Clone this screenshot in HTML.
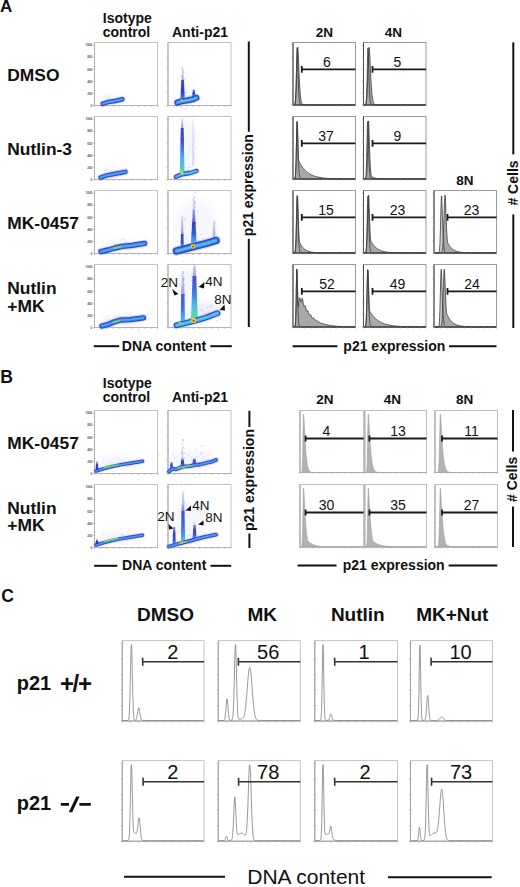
<!DOCTYPE html>
<html><head><meta charset="utf-8"><style>
html,body{margin:0;padding:0;background:#fff;}
body{width:520px;height:887px;overflow:hidden;}
svg{display:block;}
</style></head><body>
<svg width="520" height="887" viewBox="0 0 520 887">
<defs><filter id="bl" x="-10%" y="-10%" width="120%" height="120%"><feGaussianBlur stdDeviation="0.5"/></filter>
<filter id="bh" x="-50%" y="-50%" width="200%" height="200%"><feGaussianBlur stdDeviation="3"/></filter>
<linearGradient id="g1" gradientUnits="userSpaceOnUse" x1="0" y1="66" x2="0" y2="82"><stop offset="0" stop-color="#a9acee" stop-opacity="0.3"/><stop offset="1" stop-color="#7078d8" stop-opacity="0.8"/></linearGradient><linearGradient id="g2" gradientUnits="userSpaceOnUse" x1="0" y1="80" x2="0" y2="102"><stop offset="0" stop-color="#3a44c4" stop-opacity="1"/><stop offset="0.5" stop-color="#2a3ec8" stop-opacity="1"/><stop offset="0.85" stop-color="#3f6fe0" stop-opacity="1"/><stop offset="1" stop-color="#48a8e8" stop-opacity="1"/></linearGradient><linearGradient id="g3" gradientUnits="userSpaceOnUse" x1="0" y1="89.5" x2="0" y2="98"><stop offset="0" stop-color="#6a78dc" stop-opacity="0.8"/><stop offset="0.4" stop-color="#2a3ec8" stop-opacity="1"/><stop offset="1" stop-color="#2a3ec8" stop-opacity="1"/></linearGradient><linearGradient id="g4" gradientUnits="userSpaceOnUse" x1="0" y1="119" x2="0" y2="130"><stop offset="0" stop-color="#a9acee" stop-opacity="0.4"/><stop offset="1" stop-color="#6870d8" stop-opacity="0.9"/></linearGradient><linearGradient id="g5" gradientUnits="userSpaceOnUse" x1="0" y1="128" x2="0" y2="176"><stop offset="0" stop-color="#3540c0" stop-opacity="1"/><stop offset="0.22" stop-color="#2a3ec8" stop-opacity="1"/><stop offset="0.4" stop-color="#3f6fe0" stop-opacity="1"/><stop offset="0.6" stop-color="#48a8e8" stop-opacity="1"/><stop offset="0.85" stop-color="#50d0d8" stop-opacity="1"/><stop offset="1" stop-color="#70d860" stop-opacity="1"/></linearGradient><linearGradient id="g6" gradientUnits="userSpaceOnUse" x1="0" y1="119" x2="0" y2="166"><stop offset="0" stop-color="#a9acee" stop-opacity="0.2"/><stop offset="1" stop-color="#a9acee" stop-opacity="0.45"/></linearGradient><linearGradient id="g7" gradientUnits="userSpaceOnUse" x1="0" y1="216" x2="0" y2="236"><stop offset="0" stop-color="#a9acee" stop-opacity="0.4"/><stop offset="1" stop-color="#7078d8" stop-opacity="0.85"/></linearGradient><linearGradient id="g8" gradientUnits="userSpaceOnUse" x1="0" y1="234" x2="0" y2="251"><stop offset="0" stop-color="#2a3ec8" stop-opacity="1"/><stop offset="1" stop-color="#3f6fe0" stop-opacity="1"/></linearGradient><linearGradient id="g9" gradientUnits="userSpaceOnUse" x1="0" y1="196" x2="0" y2="212"><stop offset="0" stop-color="#a9acee" stop-opacity="0.3"/><stop offset="1" stop-color="#a9acee" stop-opacity="0.6"/></linearGradient><linearGradient id="g10" gradientUnits="userSpaceOnUse" x1="0" y1="210" x2="0" y2="224"><stop offset="0" stop-color="#8088e0" stop-opacity="0.75"/><stop offset="1" stop-color="#4a58d0" stop-opacity="1"/></linearGradient><linearGradient id="g11" gradientUnits="userSpaceOnUse" x1="0" y1="222" x2="0" y2="247"><stop offset="0" stop-color="#2a3ec8" stop-opacity="1"/><stop offset="0.45" stop-color="#3558d8" stop-opacity="1"/><stop offset="0.8" stop-color="#48a8e8" stop-opacity="1"/><stop offset="1" stop-color="#50d0d8" stop-opacity="1"/></linearGradient><linearGradient id="g12" gradientUnits="userSpaceOnUse" x1="0" y1="221" x2="0" y2="240"><stop offset="0" stop-color="#a9acee" stop-opacity="0.45"/><stop offset="1" stop-color="#7080e0" stop-opacity="0.8"/></linearGradient><linearGradient id="g13" gradientUnits="userSpaceOnUse" x1="0" y1="271" x2="0" y2="296"><stop offset="0" stop-color="#a9acee" stop-opacity="0.35"/><stop offset="1" stop-color="#7880dc" stop-opacity="0.8"/></linearGradient><linearGradient id="g14" gradientUnits="userSpaceOnUse" x1="0" y1="294" x2="0" y2="325"><stop offset="0" stop-color="#4a58d0" stop-opacity="1"/><stop offset="0.45" stop-color="#3f6fe0" stop-opacity="1"/><stop offset="0.75" stop-color="#48a8e8" stop-opacity="1"/><stop offset="1" stop-color="#50d0d8" stop-opacity="1"/></linearGradient><linearGradient id="g15" gradientUnits="userSpaceOnUse" x1="0" y1="264.5" x2="0" y2="278"><stop offset="0" stop-color="#a9acee" stop-opacity="0.4"/><stop offset="1" stop-color="#8088e0" stop-opacity="0.85"/></linearGradient><linearGradient id="g16" gradientUnits="userSpaceOnUse" x1="0" y1="276" x2="0" y2="322"><stop offset="0" stop-color="#3a48c8" stop-opacity="1"/><stop offset="0.3" stop-color="#3f6fe0" stop-opacity="1"/><stop offset="0.55" stop-color="#48a8e8" stop-opacity="1"/><stop offset="0.75" stop-color="#50d0d8" stop-opacity="1"/><stop offset="1" stop-color="#70d860" stop-opacity="1"/></linearGradient><linearGradient id="g17" gradientUnits="userSpaceOnUse" x1="0" y1="461" x2="0" y2="470"><stop offset="0" stop-color="#a9acee" stop-opacity="0.5"/><stop offset="0.4" stop-color="#2a3ec8" stop-opacity="1"/><stop offset="1" stop-color="#2a3ec8" stop-opacity="1"/></linearGradient><linearGradient id="g18" gradientUnits="userSpaceOnUse" x1="0" y1="442" x2="0" y2="459"><stop offset="0" stop-color="#a9acee" stop-opacity="0.25"/><stop offset="1" stop-color="#a9acee" stop-opacity="0.55"/></linearGradient><linearGradient id="g19" gradientUnits="userSpaceOnUse" x1="0" y1="462" x2="0" y2="470"><stop offset="0" stop-color="#6a78dc" stop-opacity="0.8"/><stop offset="0.4" stop-color="#2a3ec8" stop-opacity="1"/><stop offset="1" stop-color="#2a3ec8" stop-opacity="1"/></linearGradient><linearGradient id="g20" gradientUnits="userSpaceOnUse" x1="0" y1="458.5" x2="0" y2="467"><stop offset="0" stop-color="#6a78dc" stop-opacity="0.8"/><stop offset="0.35" stop-color="#2a3ec8" stop-opacity="1"/><stop offset="1" stop-color="#2a3ec8" stop-opacity="1"/></linearGradient><linearGradient id="g21" gradientUnits="userSpaceOnUse" x1="0" y1="458.5" x2="0" y2="466"><stop offset="0" stop-color="#6a78dc" stop-opacity="0.8"/><stop offset="0.35" stop-color="#2a3ec8" stop-opacity="1"/><stop offset="1" stop-color="#2a3ec8" stop-opacity="1"/></linearGradient><linearGradient id="g22" gradientUnits="userSpaceOnUse" x1="0" y1="539" x2="0" y2="544"><stop offset="0" stop-color="#a9acee" stop-opacity="0.5"/><stop offset="0.4" stop-color="#2a3ec8" stop-opacity="1"/><stop offset="1" stop-color="#2a3ec8" stop-opacity="1"/></linearGradient><linearGradient id="g23" gradientUnits="userSpaceOnUse" x1="0" y1="491" x2="0" y2="513"><stop offset="0" stop-color="#a9acee" stop-opacity="0.3"/><stop offset="0.6" stop-color="#8890e0" stop-opacity="0.6"/><stop offset="1" stop-color="#5a68d8" stop-opacity="0.9"/></linearGradient><linearGradient id="g24" gradientUnits="userSpaceOnUse" x1="0" y1="511" x2="0" y2="543"><stop offset="0" stop-color="#3a48c8" stop-opacity="1"/><stop offset="0.5" stop-color="#3f6fe0" stop-opacity="1"/><stop offset="0.85" stop-color="#48a8e8" stop-opacity="1"/><stop offset="1" stop-color="#50d0d8" stop-opacity="1"/></linearGradient><linearGradient id="g25" gradientUnits="userSpaceOnUse" x1="0" y1="527" x2="0" y2="546"><stop offset="0" stop-color="#7078d8" stop-opacity="0.8"/><stop offset="0.35" stop-color="#2a3ec8" stop-opacity="1"/><stop offset="1" stop-color="#3f6fe0" stop-opacity="1"/></linearGradient><linearGradient id="g26" gradientUnits="userSpaceOnUse" x1="0" y1="525" x2="0" y2="539"><stop offset="0" stop-color="#7078d8" stop-opacity="0.8"/><stop offset="0.35" stop-color="#2a3ec8" stop-opacity="1"/><stop offset="1" stop-color="#3f6fe0" stop-opacity="1"/></linearGradient></defs>
<rect width="520" height="887" fill="#fff"/>
<text x="0" y="12.4" font-family="Liberation Sans" font-size="17" font-weight="bold" text-anchor="start" fill="#111" >A</text>
<text x="127.3" y="23" font-family="Liberation Sans" font-size="14" font-weight="bold" text-anchor="middle" fill="#111" >Isotype</text>
<text x="126.5" y="37.1" font-family="Liberation Sans" font-size="14" font-weight="bold" text-anchor="middle" fill="#111" >control</text>
<text x="200" y="37.1" font-family="Liberation Sans" font-size="14" font-weight="bold" text-anchor="middle" fill="#111" >Anti-p21</text>
<text x="324.3" y="37.2" font-family="Liberation Sans" font-size="13.5" font-weight="bold" text-anchor="middle" fill="#111" >2N</text>
<text x="393.5" y="37.2" font-family="Liberation Sans" font-size="13.5" font-weight="bold" text-anchor="middle" fill="#111" >4N</text>
<text x="465" y="184.5" font-family="Liberation Sans" font-size="13.5" font-weight="bold" text-anchor="middle" fill="#111" >8N</text>
<text x="7.3" y="81.2" font-family="Liberation Sans" font-size="17.4" font-weight="bold" text-anchor="start" fill="#111" >DMSO</text>
<text x="7.3" y="155.2" font-family="Liberation Sans" font-size="17.4" font-weight="bold" text-anchor="start" fill="#111" >Nutlin-3</text>
<text x="7.3" y="229.3" font-family="Liberation Sans" font-size="17.4" font-weight="bold" text-anchor="start" fill="#111" >MK-0457</text>
<text x="7.3" y="293.8" font-family="Liberation Sans" font-size="17.4" font-weight="bold" text-anchor="start" fill="#111" >Nutlin</text>
<text x="7.3" y="311.6" font-family="Liberation Sans" font-size="17.4" font-weight="bold" text-anchor="start" fill="#111" >+MK</text>
<rect x="94.5" y="42.5" width="63" height="63" fill="#fff" stroke="#c2c2c2" stroke-width="1"/>
<path d="M94.5,42.5 V105.5 H157.5" fill="none" stroke="#b4b4b4" stroke-width="1"/>
<path d="M93.0,105.5h2.2 M93.0,93.4h2.2 M93.0,81.3h2.2 M93.0,69.2h2.2 M93.0,57.1h2.2 M93.0,45.0h2.2 M93.7,105.5h1.3 M93.7,102.5h1.3 M93.7,99.5h1.3 M93.7,96.4h1.3 M93.7,93.4h1.3 M93.7,90.4h1.3 M93.7,87.4h1.3 M93.7,84.3h1.3 M93.7,81.3h1.3 M93.7,78.3h1.3 M93.7,75.3h1.3 M93.7,72.2h1.3 M93.7,69.2h1.3 M93.7,66.2h1.3 M93.7,63.2h1.3 M93.7,60.1h1.3 M93.7,57.1h1.3 M93.7,54.1h1.3 M93.7,51.1h1.3 M93.7,48.0h1.3 M94.5,105.5v1.5 M100.8,105.5v1.5 M107.1,105.5v1.5 M113.4,105.5v1.5 M119.7,105.5v1.5 M126.0,105.5v1.5 M132.3,105.5v1.5 M138.6,105.5v1.5 M144.9,105.5v1.5 M151.2,105.5v1.5 M157.5,105.5v1.5" stroke="#a8a8a8" stroke-width="0.6" fill="none"/>
<text x="92.3" y="106.8" font-family="Liberation Sans" font-size="3.3" font-weight="bold" fill="#606060" text-anchor="end" letter-spacing="-0.15">0</text>
<text x="92.3" y="94.7" font-family="Liberation Sans" font-size="3.3" font-weight="bold" fill="#606060" text-anchor="end" letter-spacing="-0.15">200</text>
<text x="92.3" y="82.6" font-family="Liberation Sans" font-size="3.3" font-weight="bold" fill="#606060" text-anchor="end" letter-spacing="-0.15">400</text>
<text x="92.3" y="70.5" font-family="Liberation Sans" font-size="3.3" font-weight="bold" fill="#606060" text-anchor="end" letter-spacing="-0.15">600</text>
<text x="92.3" y="58.4" font-family="Liberation Sans" font-size="3.3" font-weight="bold" fill="#606060" text-anchor="end" letter-spacing="-0.15">800</text>
<text x="92.3" y="46.3" font-family="Liberation Sans" font-size="3.3" font-weight="bold" fill="#606060" text-anchor="end" letter-spacing="-0.15">1000</text>
<rect x="168" y="42.5" width="63" height="63" fill="#fff" stroke="#c2c2c2" stroke-width="1"/>
<path d="M168,42.5 V105.5 H231" fill="none" stroke="#b4b4b4" stroke-width="1"/>
<path d="M166.5,105.5h2.2 M166.5,93.4h2.2 M166.5,81.3h2.2 M166.5,69.2h2.2 M166.5,57.1h2.2 M166.5,45.0h2.2 M167.2,105.5h1.3 M167.2,102.5h1.3 M167.2,99.5h1.3 M167.2,96.4h1.3 M167.2,93.4h1.3 M167.2,90.4h1.3 M167.2,87.4h1.3 M167.2,84.3h1.3 M167.2,81.3h1.3 M167.2,78.3h1.3 M167.2,75.3h1.3 M167.2,72.2h1.3 M167.2,69.2h1.3 M167.2,66.2h1.3 M167.2,63.2h1.3 M167.2,60.1h1.3 M167.2,57.1h1.3 M167.2,54.1h1.3 M167.2,51.1h1.3 M167.2,48.0h1.3 M168.0,105.5v1.5 M174.3,105.5v1.5 M180.6,105.5v1.5 M186.9,105.5v1.5 M193.2,105.5v1.5 M199.5,105.5v1.5 M205.8,105.5v1.5 M212.1,105.5v1.5 M218.4,105.5v1.5 M224.7,105.5v1.5 M231.0,105.5v1.5" stroke="#a8a8a8" stroke-width="0.6" fill="none"/>
<rect x="94.5" y="116.5" width="63" height="63" fill="#fff" stroke="#c2c2c2" stroke-width="1"/>
<path d="M94.5,116.5 V179.5 H157.5" fill="none" stroke="#b4b4b4" stroke-width="1"/>
<path d="M93.0,179.5h2.2 M93.0,167.4h2.2 M93.0,155.3h2.2 M93.0,143.2h2.2 M93.0,131.1h2.2 M93.0,119.0h2.2 M93.7,179.5h1.3 M93.7,176.5h1.3 M93.7,173.5h1.3 M93.7,170.4h1.3 M93.7,167.4h1.3 M93.7,164.4h1.3 M93.7,161.4h1.3 M93.7,158.3h1.3 M93.7,155.3h1.3 M93.7,152.3h1.3 M93.7,149.3h1.3 M93.7,146.2h1.3 M93.7,143.2h1.3 M93.7,140.2h1.3 M93.7,137.2h1.3 M93.7,134.1h1.3 M93.7,131.1h1.3 M93.7,128.1h1.3 M93.7,125.1h1.3 M93.7,122.0h1.3 M94.5,179.5v1.5 M100.8,179.5v1.5 M107.1,179.5v1.5 M113.4,179.5v1.5 M119.7,179.5v1.5 M126.0,179.5v1.5 M132.3,179.5v1.5 M138.6,179.5v1.5 M144.9,179.5v1.5 M151.2,179.5v1.5 M157.5,179.5v1.5" stroke="#a8a8a8" stroke-width="0.6" fill="none"/>
<text x="92.3" y="180.8" font-family="Liberation Sans" font-size="3.3" font-weight="bold" fill="#606060" text-anchor="end" letter-spacing="-0.15">0</text>
<text x="92.3" y="168.7" font-family="Liberation Sans" font-size="3.3" font-weight="bold" fill="#606060" text-anchor="end" letter-spacing="-0.15">200</text>
<text x="92.3" y="156.6" font-family="Liberation Sans" font-size="3.3" font-weight="bold" fill="#606060" text-anchor="end" letter-spacing="-0.15">400</text>
<text x="92.3" y="144.5" font-family="Liberation Sans" font-size="3.3" font-weight="bold" fill="#606060" text-anchor="end" letter-spacing="-0.15">600</text>
<text x="92.3" y="132.4" font-family="Liberation Sans" font-size="3.3" font-weight="bold" fill="#606060" text-anchor="end" letter-spacing="-0.15">800</text>
<text x="92.3" y="120.3" font-family="Liberation Sans" font-size="3.3" font-weight="bold" fill="#606060" text-anchor="end" letter-spacing="-0.15">1000</text>
<rect x="168" y="116.5" width="63" height="63" fill="#fff" stroke="#c2c2c2" stroke-width="1"/>
<path d="M168,116.5 V179.5 H231" fill="none" stroke="#b4b4b4" stroke-width="1"/>
<path d="M166.5,179.5h2.2 M166.5,167.4h2.2 M166.5,155.3h2.2 M166.5,143.2h2.2 M166.5,131.1h2.2 M166.5,119.0h2.2 M167.2,179.5h1.3 M167.2,176.5h1.3 M167.2,173.5h1.3 M167.2,170.4h1.3 M167.2,167.4h1.3 M167.2,164.4h1.3 M167.2,161.4h1.3 M167.2,158.3h1.3 M167.2,155.3h1.3 M167.2,152.3h1.3 M167.2,149.3h1.3 M167.2,146.2h1.3 M167.2,143.2h1.3 M167.2,140.2h1.3 M167.2,137.2h1.3 M167.2,134.1h1.3 M167.2,131.1h1.3 M167.2,128.1h1.3 M167.2,125.1h1.3 M167.2,122.0h1.3 M168.0,179.5v1.5 M174.3,179.5v1.5 M180.6,179.5v1.5 M186.9,179.5v1.5 M193.2,179.5v1.5 M199.5,179.5v1.5 M205.8,179.5v1.5 M212.1,179.5v1.5 M218.4,179.5v1.5 M224.7,179.5v1.5 M231.0,179.5v1.5" stroke="#a8a8a8" stroke-width="0.6" fill="none"/>
<rect x="94.5" y="190.5" width="63" height="63" fill="#fff" stroke="#c2c2c2" stroke-width="1"/>
<path d="M94.5,190.5 V253.5 H157.5" fill="none" stroke="#b4b4b4" stroke-width="1"/>
<path d="M93.0,253.5h2.2 M93.0,241.4h2.2 M93.0,229.3h2.2 M93.0,217.2h2.2 M93.0,205.1h2.2 M93.0,193.0h2.2 M93.7,253.5h1.3 M93.7,250.5h1.3 M93.7,247.5h1.3 M93.7,244.4h1.3 M93.7,241.4h1.3 M93.7,238.4h1.3 M93.7,235.4h1.3 M93.7,232.3h1.3 M93.7,229.3h1.3 M93.7,226.3h1.3 M93.7,223.3h1.3 M93.7,220.2h1.3 M93.7,217.2h1.3 M93.7,214.2h1.3 M93.7,211.2h1.3 M93.7,208.1h1.3 M93.7,205.1h1.3 M93.7,202.1h1.3 M93.7,199.1h1.3 M93.7,196.0h1.3 M94.5,253.5v1.5 M100.8,253.5v1.5 M107.1,253.5v1.5 M113.4,253.5v1.5 M119.7,253.5v1.5 M126.0,253.5v1.5 M132.3,253.5v1.5 M138.6,253.5v1.5 M144.9,253.5v1.5 M151.2,253.5v1.5 M157.5,253.5v1.5" stroke="#a8a8a8" stroke-width="0.6" fill="none"/>
<text x="92.3" y="254.8" font-family="Liberation Sans" font-size="3.3" font-weight="bold" fill="#606060" text-anchor="end" letter-spacing="-0.15">0</text>
<text x="92.3" y="242.7" font-family="Liberation Sans" font-size="3.3" font-weight="bold" fill="#606060" text-anchor="end" letter-spacing="-0.15">200</text>
<text x="92.3" y="230.6" font-family="Liberation Sans" font-size="3.3" font-weight="bold" fill="#606060" text-anchor="end" letter-spacing="-0.15">400</text>
<text x="92.3" y="218.5" font-family="Liberation Sans" font-size="3.3" font-weight="bold" fill="#606060" text-anchor="end" letter-spacing="-0.15">600</text>
<text x="92.3" y="206.4" font-family="Liberation Sans" font-size="3.3" font-weight="bold" fill="#606060" text-anchor="end" letter-spacing="-0.15">800</text>
<text x="92.3" y="194.3" font-family="Liberation Sans" font-size="3.3" font-weight="bold" fill="#606060" text-anchor="end" letter-spacing="-0.15">1000</text>
<rect x="168" y="190.5" width="63" height="63" fill="#fff" stroke="#c2c2c2" stroke-width="1"/>
<path d="M168,190.5 V253.5 H231" fill="none" stroke="#b4b4b4" stroke-width="1"/>
<path d="M166.5,253.5h2.2 M166.5,241.4h2.2 M166.5,229.3h2.2 M166.5,217.2h2.2 M166.5,205.1h2.2 M166.5,193.0h2.2 M167.2,253.5h1.3 M167.2,250.5h1.3 M167.2,247.5h1.3 M167.2,244.4h1.3 M167.2,241.4h1.3 M167.2,238.4h1.3 M167.2,235.4h1.3 M167.2,232.3h1.3 M167.2,229.3h1.3 M167.2,226.3h1.3 M167.2,223.3h1.3 M167.2,220.2h1.3 M167.2,217.2h1.3 M167.2,214.2h1.3 M167.2,211.2h1.3 M167.2,208.1h1.3 M167.2,205.1h1.3 M167.2,202.1h1.3 M167.2,199.1h1.3 M167.2,196.0h1.3 M168.0,253.5v1.5 M174.3,253.5v1.5 M180.6,253.5v1.5 M186.9,253.5v1.5 M193.2,253.5v1.5 M199.5,253.5v1.5 M205.8,253.5v1.5 M212.1,253.5v1.5 M218.4,253.5v1.5 M224.7,253.5v1.5 M231.0,253.5v1.5" stroke="#a8a8a8" stroke-width="0.6" fill="none"/>
<rect x="94.5" y="264.5" width="63" height="63" fill="#fff" stroke="#c2c2c2" stroke-width="1"/>
<path d="M94.5,264.5 V327.5 H157.5" fill="none" stroke="#b4b4b4" stroke-width="1"/>
<path d="M93.0,327.5h2.2 M93.0,315.4h2.2 M93.0,303.3h2.2 M93.0,291.2h2.2 M93.0,279.1h2.2 M93.0,267.0h2.2 M93.7,327.5h1.3 M93.7,324.5h1.3 M93.7,321.5h1.3 M93.7,318.4h1.3 M93.7,315.4h1.3 M93.7,312.4h1.3 M93.7,309.4h1.3 M93.7,306.3h1.3 M93.7,303.3h1.3 M93.7,300.3h1.3 M93.7,297.3h1.3 M93.7,294.2h1.3 M93.7,291.2h1.3 M93.7,288.2h1.3 M93.7,285.2h1.3 M93.7,282.1h1.3 M93.7,279.1h1.3 M93.7,276.1h1.3 M93.7,273.1h1.3 M93.7,270.0h1.3 M94.5,327.5v1.5 M100.8,327.5v1.5 M107.1,327.5v1.5 M113.4,327.5v1.5 M119.7,327.5v1.5 M126.0,327.5v1.5 M132.3,327.5v1.5 M138.6,327.5v1.5 M144.9,327.5v1.5 M151.2,327.5v1.5 M157.5,327.5v1.5" stroke="#a8a8a8" stroke-width="0.6" fill="none"/>
<text x="92.3" y="328.8" font-family="Liberation Sans" font-size="3.3" font-weight="bold" fill="#606060" text-anchor="end" letter-spacing="-0.15">0</text>
<text x="92.3" y="316.7" font-family="Liberation Sans" font-size="3.3" font-weight="bold" fill="#606060" text-anchor="end" letter-spacing="-0.15">200</text>
<text x="92.3" y="304.6" font-family="Liberation Sans" font-size="3.3" font-weight="bold" fill="#606060" text-anchor="end" letter-spacing="-0.15">400</text>
<text x="92.3" y="292.5" font-family="Liberation Sans" font-size="3.3" font-weight="bold" fill="#606060" text-anchor="end" letter-spacing="-0.15">600</text>
<text x="92.3" y="280.4" font-family="Liberation Sans" font-size="3.3" font-weight="bold" fill="#606060" text-anchor="end" letter-spacing="-0.15">800</text>
<text x="92.3" y="268.3" font-family="Liberation Sans" font-size="3.3" font-weight="bold" fill="#606060" text-anchor="end" letter-spacing="-0.15">1000</text>
<rect x="168" y="264.5" width="63" height="63" fill="#fff" stroke="#c2c2c2" stroke-width="1"/>
<path d="M168,264.5 V327.5 H231" fill="none" stroke="#b4b4b4" stroke-width="1"/>
<path d="M166.5,327.5h2.2 M166.5,315.4h2.2 M166.5,303.3h2.2 M166.5,291.2h2.2 M166.5,279.1h2.2 M166.5,267.0h2.2 M167.2,327.5h1.3 M167.2,324.5h1.3 M167.2,321.5h1.3 M167.2,318.4h1.3 M167.2,315.4h1.3 M167.2,312.4h1.3 M167.2,309.4h1.3 M167.2,306.3h1.3 M167.2,303.3h1.3 M167.2,300.3h1.3 M167.2,297.3h1.3 M167.2,294.2h1.3 M167.2,291.2h1.3 M167.2,288.2h1.3 M167.2,285.2h1.3 M167.2,282.1h1.3 M167.2,279.1h1.3 M167.2,276.1h1.3 M167.2,273.1h1.3 M167.2,270.0h1.3 M168.0,327.5v1.5 M174.3,327.5v1.5 M180.6,327.5v1.5 M186.9,327.5v1.5 M193.2,327.5v1.5 M199.5,327.5v1.5 M205.8,327.5v1.5 M212.1,327.5v1.5 M218.4,327.5v1.5 M224.7,327.5v1.5 M231.0,327.5v1.5" stroke="#a8a8a8" stroke-width="0.6" fill="none"/>
<g filter="url(#bl)">
<ellipse cx="113" cy="100" rx="10" ry="4" fill="#a9acee" opacity="0.2" filter="url(#bh)"/>
<path d="M102.8,103.8 L108.0,102.1 L115.0,100.9 L122.3,99.3" fill="none" stroke="#a9acee" stroke-width="6.5" stroke-linecap="round" stroke-linejoin="round" opacity="0.45"/>
<path d="M102.8,103.8 L108.0,102.1 L115.0,100.9 L122.3,99.3" fill="none" stroke="#2a3ec8" stroke-width="4.6" stroke-linecap="round" stroke-linejoin="round" opacity="1"/>
<path d="M102.8,103.8 L108.0,102.1 L115.0,100.9 L122.3,99.3" fill="none" stroke="#3f6fe0" stroke-width="3" stroke-linecap="round" stroke-linejoin="round" opacity="1"/>
<path d="M102.8,103.8 L108.0,102.1 L115.0,100.9 L122.3,99.3" fill="none" stroke="#48a8e8" stroke-width="1.6" stroke-linecap="round" stroke-linejoin="round" opacity="1"/>
<ellipse cx="186" cy="92" rx="8" ry="10" fill="#a9acee" opacity="0.12" filter="url(#bh)"/>
<path d="M182.00,66 L183.20,66 L183.70,82 L181.50,82 Z" fill="url(#g1)"/>
<path d="M181.30,80 L183.90,80 L184.90,102 L180.30,102 Z" fill="url(#g2)"/>
<path d="M192.80,89.5 L194.80,89.5 L195.60,98 L192.00,98 Z" fill="url(#g3)"/>
<path d="M177.4,102.6 L182.0,101.2 L188.0,100.2 L193.0,99.2 L196.4,97.8" fill="none" stroke="#a9acee" stroke-width="8" stroke-linecap="round" stroke-linejoin="round" opacity="0.4"/>
<path d="M177.4,102.6 L182.0,101.2 L188.0,100.2 L193.0,99.2 L196.4,97.8" fill="none" stroke="#2a3ec8" stroke-width="6" stroke-linecap="round" stroke-linejoin="round" opacity="1"/>
<path d="M177.4,102.6 L182.0,101.2 L188.0,100.2 L193.0,99.2 L196.4,97.8" fill="none" stroke="#3f6fe0" stroke-width="4" stroke-linecap="round" stroke-linejoin="round" opacity="1"/>
<path d="M177.4,102.6 L182.0,101.2 L188.0,100.2 L193.0,99.2 L196.4,97.8" fill="none" stroke="#48a8e8" stroke-width="2.6" stroke-linecap="round" stroke-linejoin="round" opacity="1"/>
<path d="M177.4,102.6 L182.0,101.2 L188.0,100.2 L193.0,99.2 L196.4,97.8" fill="none" stroke="#50d0d8" stroke-width="1" stroke-linecap="round" stroke-linejoin="round" opacity="1"/>
<circle cx="181.8" cy="100.6" r="1.5" fill="#70d860"/>
<ellipse cx="113" cy="173" rx="10" ry="4" fill="#a9acee" opacity="0.2" filter="url(#bh)"/>
<path d="M100.5,177.6 L106.0,175.6 L114.0,174.0 L125.5,171.8" fill="none" stroke="#a9acee" stroke-width="6.5" stroke-linecap="round" stroke-linejoin="round" opacity="0.45"/>
<path d="M100.5,177.6 L106.0,175.6 L114.0,174.0 L125.5,171.8" fill="none" stroke="#2a3ec8" stroke-width="4.4" stroke-linecap="round" stroke-linejoin="round" opacity="1"/>
<path d="M100.5,177.6 L106.0,175.6 L114.0,174.0 L125.5,171.8" fill="none" stroke="#3f6fe0" stroke-width="3" stroke-linecap="round" stroke-linejoin="round" opacity="1"/>
<path d="M100.5,177.6 L106.0,175.6 L114.0,174.0 L125.5,171.8" fill="none" stroke="#48a8e8" stroke-width="1.6" stroke-linecap="round" stroke-linejoin="round" opacity="1"/>
<ellipse cx="188" cy="148" rx="9" ry="26" fill="#a9acee" opacity="0.1" filter="url(#bh)"/>
<path d="M181.50,119 L182.90,119 L183.40,130 L181.00,130 Z" fill="url(#g4)"/>
<path d="M180.80,128 L183.60,128 L184.60,176 L179.80,176 Z" fill="url(#g5)"/>
<path d="M192.50,119 L193.90,119 L194.20,166 L192.20,166 Z" fill="url(#g6)"/>
<path d="M176.0,176.8 L182.0,174.2 L190.0,173.0 L196.5,171.0" fill="none" stroke="#a9acee" stroke-width="6" stroke-linecap="round" stroke-linejoin="round" opacity="0.4"/>
<path d="M176.0,176.8 L182.0,174.2 L190.0,173.0 L196.5,171.0" fill="none" stroke="#2a3ec8" stroke-width="4.4" stroke-linecap="round" stroke-linejoin="round" opacity="1"/>
<path d="M176.0,176.8 L182.0,174.2 L190.0,173.0 L196.5,171.0" fill="none" stroke="#48a8e8" stroke-width="2.4" stroke-linecap="round" stroke-linejoin="round" opacity="1"/>
<path d="M176.0,176.8 L182.0,174.2 L190.0,173.0 L196.5,171.0" fill="none" stroke="#50d0d8" stroke-width="1" stroke-linecap="round" stroke-linejoin="round" opacity="1"/>
<circle cx="182" cy="172.8" r="1.6" fill="#c8e040"/>
<ellipse cx="122" cy="246" rx="18" ry="5" fill="#a9acee" opacity="0.2" filter="url(#bh)"/>
<path d="M101.0,251.6 L108.0,250.0 L115.0,248.0 L122.0,246.4 L132.0,245.4 L144.5,243.4" fill="none" stroke="#a9acee" stroke-width="7.5" stroke-linecap="round" stroke-linejoin="round" opacity="0.45"/>
<path d="M101.0,251.6 L108.0,250.0 L115.0,248.0 L122.0,246.4 L132.0,245.4 L144.5,243.4" fill="none" stroke="#2a3ec8" stroke-width="5.4" stroke-linecap="round" stroke-linejoin="round" opacity="1"/>
<path d="M101.0,251.6 L108.0,250.0 L115.0,248.0 L122.0,246.4 L132.0,245.4 L144.5,243.4" fill="none" stroke="#3f6fe0" stroke-width="3.8" stroke-linecap="round" stroke-linejoin="round" opacity="1"/>
<path d="M101.0,251.6 L108.0,250.0 L115.0,248.0 L122.0,246.4 L132.0,245.4 L144.5,243.4" fill="none" stroke="#48a8e8" stroke-width="2" stroke-linecap="round" stroke-linejoin="round" opacity="1"/>
<path d="M114.0,248.2 L121.0,246.6" fill="none" stroke="#70d860" stroke-width="2" stroke-linecap="round" stroke-linejoin="round" opacity="1"/>
<ellipse cx="196" cy="225" rx="20" ry="26" fill="#a9acee" opacity="0.1" filter="url(#bh)"/>
<path d="M181.50,216 L182.90,216 L183.40,236 L181.00,236 Z" fill="url(#g7)"/>
<path d="M181.00,234 L183.40,234 L184.00,251 L180.40,251 Z" fill="url(#g8)"/>
<path d="M193.00,196 L194.60,196 L195.00,212 L192.60,212 Z" fill="url(#g9)"/>
<path d="M192.60,210 L195.00,210 L195.50,224 L192.10,224 Z" fill="url(#g10)"/>
<path d="M192.10,222 L195.50,222 L196.80,247 L190.80,247 Z" fill="url(#g11)"/>
<path d="M213.40,221 L215.00,221 L215.40,240 L213.00,240 Z" fill="url(#g12)"/>
<path d="M176.5,251.0 L186.0,248.6 L196.0,246.0 L206.0,243.5 L216.0,240.5" fill="none" stroke="#a9acee" stroke-width="10" stroke-linecap="round" stroke-linejoin="round" opacity="0.4"/>
<path d="M176.5,251.0 L186.0,248.6 L196.0,246.0 L206.0,243.5 L216.0,240.5" fill="none" stroke="#2a3ec8" stroke-width="7.4" stroke-linecap="round" stroke-linejoin="round" opacity="1"/>
<path d="M176.5,251.0 L186.0,248.6 L196.0,246.0 L206.0,243.5 L216.0,240.5" fill="none" stroke="#3f6fe0" stroke-width="5" stroke-linecap="round" stroke-linejoin="round" opacity="1"/>
<path d="M176.5,251.0 L186.0,248.6 L196.0,246.0 L206.0,243.5 L216.0,240.5" fill="none" stroke="#48a8e8" stroke-width="3" stroke-linecap="round" stroke-linejoin="round" opacity="1"/>
<path d="M176.5,251.0 L186.0,248.6 L196.0,246.0 L206.0,243.5 L216.0,240.5" fill="none" stroke="#50d0d8" stroke-width="1.2" stroke-linecap="round" stroke-linejoin="round" opacity="1"/>
<circle cx="193" cy="246.3" r="2.4" fill="#c8e040"/>
<circle cx="193" cy="246.3" r="1.56" fill="#f0c020"/>
<circle cx="193" cy="246.60000000000002" r="0.91" fill="#c83018"/>
<ellipse cx="122" cy="320" rx="18" ry="5" fill="#a9acee" opacity="0.2" filter="url(#bh)"/>
<path d="M102.0,326.0 L108.0,324.5 L114.0,322.0 L120.0,320.2 L130.0,319.6 L143.5,317.8" fill="none" stroke="#a9acee" stroke-width="7.5" stroke-linecap="round" stroke-linejoin="round" opacity="0.45"/>
<path d="M102.0,326.0 L108.0,324.5 L114.0,322.0 L120.0,320.2 L130.0,319.6 L143.5,317.8" fill="none" stroke="#2a3ec8" stroke-width="5.2" stroke-linecap="round" stroke-linejoin="round" opacity="1"/>
<path d="M102.0,326.0 L108.0,324.5 L114.0,322.0 L120.0,320.2 L130.0,319.6 L143.5,317.8" fill="none" stroke="#3f6fe0" stroke-width="3.6" stroke-linecap="round" stroke-linejoin="round" opacity="1"/>
<path d="M102.0,326.0 L108.0,324.5 L114.0,322.0 L120.0,320.2 L130.0,319.6 L143.5,317.8" fill="none" stroke="#48a8e8" stroke-width="1.8" stroke-linecap="round" stroke-linejoin="round" opacity="1"/>
<path d="M113.0,322.5 L119.0,320.8" fill="none" stroke="#70d860" stroke-width="1.8" stroke-linecap="round" stroke-linejoin="round" opacity="1"/>
<ellipse cx="206" cy="310" rx="12" ry="8" fill="#c8b8ee" opacity="0.25" filter="url(#bh)"/>
<ellipse cx="188" cy="295" rx="10" ry="28" fill="#a9acee" opacity="0.1" filter="url(#bh)"/>
<path d="M181.60,271 L184.00,271 L184.50,296 L181.10,296 Z" fill="url(#g13)"/>
<path d="M181.10,294 L184.50,294 L185.00,325 L180.60,325 Z" fill="url(#g14)"/>
<path d="M193.20,264.5 L195.60,264.5 L196.20,278 L192.60,278 Z" fill="url(#g15)"/>
<path d="M192.60,276 L196.20,276 L197.90,322 L190.90,322 Z" fill="url(#g16)"/>
<path d="M176.5,325.3 L186.0,323.0 L196.0,320.5 L206.0,317.6 L217.5,313.2" fill="none" stroke="#a9acee" stroke-width="8" stroke-linecap="round" stroke-linejoin="round" opacity="0.4"/>
<path d="M176.5,325.3 L186.0,323.0 L196.0,320.5 L206.0,317.6 L217.5,313.2" fill="none" stroke="#2a3ec8" stroke-width="5.6" stroke-linecap="round" stroke-linejoin="round" opacity="1"/>
<path d="M176.5,325.3 L186.0,323.0 L196.0,320.5 L206.0,317.6 L217.5,313.2" fill="none" stroke="#48a8e8" stroke-width="3.6" stroke-linecap="round" stroke-linejoin="round" opacity="1"/>
<path d="M176.5,325.3 L186.0,323.0 L196.0,320.5 L206.0,317.6 L217.5,313.2" fill="none" stroke="#50d0d8" stroke-width="1.6" stroke-linecap="round" stroke-linejoin="round" opacity="1"/>
<circle cx="193.6" cy="320.4" r="2.7" fill="#c8e040"/>
<circle cx="193.6" cy="320.4" r="1.76" fill="#f0c020"/>
<circle cx="193.6" cy="320.7" r="1.03" fill="#c83018"/>
<circle cx="180" cy="323.6" r="1.8" fill="#70d860"/>
</g>
<rect x="182.4" y="86.8" width="0.9" height="0.9" fill="#7880dc" opacity="0.45"/>
<rect x="181.2" y="84.9" width="0.9" height="0.9" fill="#7880dc" opacity="0.45"/>
<rect x="182.0" y="76.2" width="0.9" height="0.9" fill="#7880dc" opacity="0.45"/>
<rect x="184.6" y="79.1" width="0.9" height="0.9" fill="#7880dc" opacity="0.45"/>
<rect x="182.2" y="83.1" width="0.9" height="0.9" fill="#7880dc" opacity="0.45"/>
<rect x="183.7" y="77.8" width="0.9" height="0.9" fill="#7880dc" opacity="0.45"/>
<rect x="183.0" y="71.2" width="0.9" height="0.9" fill="#7880dc" opacity="0.45"/>
<rect x="181.9" y="74.9" width="0.9" height="0.9" fill="#7880dc" opacity="0.45"/>
<rect x="180.7" y="67.4" width="0.9" height="0.9" fill="#7880dc" opacity="0.45"/>
<rect x="180.3" y="76.3" width="0.9" height="0.9" fill="#7880dc" opacity="0.45"/>
<rect x="182.1" y="75.8" width="0.9" height="0.9" fill="#7880dc" opacity="0.45"/>
<rect x="182.4" y="68.7" width="0.9" height="0.9" fill="#7880dc" opacity="0.45"/>
<rect x="182.2" y="79.7" width="0.9" height="0.9" fill="#7880dc" opacity="0.45"/>
<rect x="183.2" y="72.1" width="0.9" height="0.9" fill="#7880dc" opacity="0.45"/>
<rect x="185.6" y="92.0" width="0.9" height="0.9" fill="#7880dc" opacity="0.45"/>
<rect x="185.0" y="91.6" width="0.9" height="0.9" fill="#7880dc" opacity="0.45"/>
<rect x="179.5" y="98.2" width="0.9" height="0.9" fill="#7880dc" opacity="0.45"/>
<rect x="174.8" y="97.6" width="0.9" height="0.9" fill="#7880dc" opacity="0.45"/>
<rect x="190.0" y="95.4" width="0.9" height="0.9" fill="#7880dc" opacity="0.45"/>
<rect x="190.8" y="97.1" width="0.9" height="0.9" fill="#7880dc" opacity="0.45"/>
<rect x="194.3" y="95.5" width="0.9" height="0.9" fill="#7880dc" opacity="0.45"/>
<rect x="184.4" y="94.8" width="0.9" height="0.9" fill="#7880dc" opacity="0.45"/>
<rect x="180.9" y="131.5" width="0.9" height="0.9" fill="#7880dc" opacity="0.45"/>
<rect x="181.2" y="144.8" width="0.9" height="0.9" fill="#7880dc" opacity="0.45"/>
<rect x="179.8" y="118.9" width="0.9" height="0.9" fill="#7880dc" opacity="0.45"/>
<rect x="181.0" y="106.9" width="0.9" height="0.9" fill="#7880dc" opacity="0.45"/>
<rect x="184.7" y="103.1" width="0.9" height="0.9" fill="#7880dc" opacity="0.45"/>
<rect x="181.8" y="125.7" width="0.9" height="0.9" fill="#7880dc" opacity="0.45"/>
<rect x="184.4" y="108.2" width="0.9" height="0.9" fill="#7880dc" opacity="0.45"/>
<rect x="183.6" y="123.2" width="0.9" height="0.9" fill="#7880dc" opacity="0.45"/>
<rect x="182.0" y="123.9" width="0.9" height="0.9" fill="#7880dc" opacity="0.45"/>
<rect x="183.0" y="118.3" width="0.9" height="0.9" fill="#7880dc" opacity="0.45"/>
<rect x="182.1" y="136.2" width="0.9" height="0.9" fill="#7880dc" opacity="0.45"/>
<rect x="184.6" y="103.1" width="0.9" height="0.9" fill="#7880dc" opacity="0.45"/>
<rect x="184.2" y="143.4" width="0.9" height="0.9" fill="#7880dc" opacity="0.45"/>
<rect x="181.6" y="135.7" width="0.9" height="0.9" fill="#7880dc" opacity="0.45"/>
<rect x="181.6" y="151.8" width="0.9" height="0.9" fill="#7880dc" opacity="0.45"/>
<rect x="182.5" y="129.4" width="0.9" height="0.9" fill="#7880dc" opacity="0.45"/>
<rect x="181.9" y="129.6" width="0.9" height="0.9" fill="#7880dc" opacity="0.45"/>
<rect x="182.0" y="121.5" width="0.9" height="0.9" fill="#7880dc" opacity="0.45"/>
<rect x="184.9" y="109.1" width="0.9" height="0.9" fill="#7880dc" opacity="0.45"/>
<rect x="177.5" y="130.5" width="0.9" height="0.9" fill="#7880dc" opacity="0.45"/>
<rect x="182.0" y="136.5" width="0.9" height="0.9" fill="#7880dc" opacity="0.45"/>
<rect x="181.9" y="130.2" width="0.9" height="0.9" fill="#7880dc" opacity="0.45"/>
<rect x="193.6" y="154.5" width="0.9" height="0.9" fill="#7880dc" opacity="0.35"/>
<rect x="192.7" y="134.4" width="0.9" height="0.9" fill="#7880dc" opacity="0.35"/>
<rect x="195.5" y="148.0" width="0.9" height="0.9" fill="#7880dc" opacity="0.35"/>
<rect x="192.0" y="174.9" width="0.9" height="0.9" fill="#7880dc" opacity="0.35"/>
<rect x="194.1" y="131.2" width="0.9" height="0.9" fill="#7880dc" opacity="0.35"/>
<rect x="191.8" y="144.5" width="0.9" height="0.9" fill="#7880dc" opacity="0.35"/>
<rect x="192.2" y="124.1" width="0.9" height="0.9" fill="#7880dc" opacity="0.35"/>
<rect x="191.6" y="132.4" width="0.9" height="0.9" fill="#7880dc" opacity="0.35"/>
<rect x="194.5" y="133.5" width="0.9" height="0.9" fill="#7880dc" opacity="0.35"/>
<rect x="191.5" y="150.0" width="0.9" height="0.9" fill="#7880dc" opacity="0.35"/>
<rect x="193.3" y="152.7" width="0.9" height="0.9" fill="#7880dc" opacity="0.35"/>
<rect x="194.6" y="137.5" width="0.9" height="0.9" fill="#7880dc" opacity="0.35"/>
<rect x="193.0" y="139.3" width="0.9" height="0.9" fill="#7880dc" opacity="0.35"/>
<rect x="191.8" y="150.0" width="0.9" height="0.9" fill="#7880dc" opacity="0.35"/>
<rect x="194.8" y="142.6" width="0.9" height="0.9" fill="#7880dc" opacity="0.35"/>
<rect x="192.9" y="136.1" width="0.9" height="0.9" fill="#7880dc" opacity="0.35"/>
<rect x="192.3" y="127.9" width="0.9" height="0.9" fill="#7880dc" opacity="0.35"/>
<rect x="192.7" y="127.4" width="0.9" height="0.9" fill="#7880dc" opacity="0.35"/>
<rect x="192.7" y="116.3" width="0.9" height="0.9" fill="#7880dc" opacity="0.35"/>
<rect x="193.6" y="140.7" width="0.9" height="0.9" fill="#7880dc" opacity="0.35"/>
<rect x="191.8" y="105.5" width="0.9" height="0.9" fill="#7880dc" opacity="0.35"/>
<rect x="193.2" y="156.6" width="0.9" height="0.9" fill="#7880dc" opacity="0.35"/>
<rect x="184.6" y="167.0" width="0.9" height="0.9" fill="#7880dc" opacity="0.45"/>
<rect x="185.6" y="169.3" width="0.9" height="0.9" fill="#7880dc" opacity="0.45"/>
<rect x="183.5" y="170.0" width="0.9" height="0.9" fill="#7880dc" opacity="0.45"/>
<rect x="187.2" y="169.8" width="0.9" height="0.9" fill="#7880dc" opacity="0.45"/>
<rect x="189.2" y="167.5" width="0.9" height="0.9" fill="#7880dc" opacity="0.45"/>
<rect x="180.1" y="166.6" width="0.9" height="0.9" fill="#7880dc" opacity="0.45"/>
<rect x="187.4" y="169.3" width="0.9" height="0.9" fill="#7880dc" opacity="0.45"/>
<rect x="190.5" y="166.6" width="0.9" height="0.9" fill="#7880dc" opacity="0.45"/>
<rect x="191.5" y="170.0" width="0.9" height="0.9" fill="#7880dc" opacity="0.45"/>
<rect x="188.1" y="167.1" width="0.9" height="0.9" fill="#7880dc" opacity="0.45"/>
<rect x="193.2" y="218.1" width="0.9" height="0.9" fill="#7880dc" opacity="0.45"/>
<rect x="194.7" y="200.7" width="0.9" height="0.9" fill="#7880dc" opacity="0.45"/>
<rect x="194.4" y="205.2" width="0.9" height="0.9" fill="#7880dc" opacity="0.45"/>
<rect x="192.6" y="222.4" width="0.9" height="0.9" fill="#7880dc" opacity="0.45"/>
<rect x="195.1" y="202.8" width="0.9" height="0.9" fill="#7880dc" opacity="0.45"/>
<rect x="193.9" y="215.0" width="0.9" height="0.9" fill="#7880dc" opacity="0.45"/>
<rect x="192.8" y="208.8" width="0.9" height="0.9" fill="#7880dc" opacity="0.45"/>
<rect x="194.9" y="192.1" width="0.9" height="0.9" fill="#7880dc" opacity="0.45"/>
<rect x="194.3" y="217.4" width="0.9" height="0.9" fill="#7880dc" opacity="0.45"/>
<rect x="194.6" y="196.6" width="0.9" height="0.9" fill="#7880dc" opacity="0.45"/>
<rect x="194.3" y="201.4" width="0.9" height="0.9" fill="#7880dc" opacity="0.45"/>
<rect x="194.7" y="216.0" width="0.9" height="0.9" fill="#7880dc" opacity="0.45"/>
<rect x="194.1" y="202.3" width="0.9" height="0.9" fill="#7880dc" opacity="0.45"/>
<rect x="192.9" y="218.5" width="0.9" height="0.9" fill="#7880dc" opacity="0.45"/>
<rect x="192.4" y="215.0" width="0.9" height="0.9" fill="#7880dc" opacity="0.45"/>
<rect x="194.6" y="207.2" width="0.9" height="0.9" fill="#7880dc" opacity="0.45"/>
<rect x="197.6" y="210.7" width="0.9" height="0.9" fill="#7880dc" opacity="0.45"/>
<rect x="197.2" y="189.8" width="0.9" height="0.9" fill="#7880dc" opacity="0.45"/>
<rect x="190.2" y="219.8" width="0.9" height="0.9" fill="#7880dc" opacity="0.45"/>
<rect x="194.8" y="206.9" width="0.9" height="0.9" fill="#7880dc" opacity="0.45"/>
<rect x="193.7" y="191.0" width="0.9" height="0.9" fill="#7880dc" opacity="0.45"/>
<rect x="192.8" y="199.7" width="0.9" height="0.9" fill="#7880dc" opacity="0.45"/>
<rect x="181.9" y="233.1" width="0.9" height="0.9" fill="#7880dc" opacity="0.45"/>
<rect x="182.3" y="229.0" width="0.9" height="0.9" fill="#7880dc" opacity="0.45"/>
<rect x="181.3" y="222.5" width="0.9" height="0.9" fill="#7880dc" opacity="0.45"/>
<rect x="182.3" y="223.7" width="0.9" height="0.9" fill="#7880dc" opacity="0.45"/>
<rect x="183.8" y="219.0" width="0.9" height="0.9" fill="#7880dc" opacity="0.45"/>
<rect x="184.7" y="218.2" width="0.9" height="0.9" fill="#7880dc" opacity="0.45"/>
<rect x="183.6" y="219.8" width="0.9" height="0.9" fill="#7880dc" opacity="0.45"/>
<rect x="184.3" y="227.1" width="0.9" height="0.9" fill="#7880dc" opacity="0.45"/>
<rect x="182.7" y="232.0" width="0.9" height="0.9" fill="#7880dc" opacity="0.45"/>
<rect x="181.4" y="217.7" width="0.9" height="0.9" fill="#7880dc" opacity="0.45"/>
<rect x="179.6" y="235.8" width="0.9" height="0.9" fill="#7880dc" opacity="0.45"/>
<rect x="181.3" y="221.3" width="0.9" height="0.9" fill="#7880dc" opacity="0.45"/>
<rect x="201.7" y="246.0" width="0.9" height="0.9" fill="#7880dc" opacity="0.45"/>
<rect x="186.4" y="239.0" width="0.9" height="0.9" fill="#7880dc" opacity="0.45"/>
<rect x="198.4" y="240.1" width="0.9" height="0.9" fill="#7880dc" opacity="0.45"/>
<rect x="185.8" y="236.4" width="0.9" height="0.9" fill="#7880dc" opacity="0.45"/>
<rect x="209.6" y="244.2" width="0.9" height="0.9" fill="#7880dc" opacity="0.45"/>
<rect x="216.4" y="234.6" width="0.9" height="0.9" fill="#7880dc" opacity="0.45"/>
<rect x="202.5" y="237.6" width="0.9" height="0.9" fill="#7880dc" opacity="0.45"/>
<rect x="189.6" y="232.2" width="0.9" height="0.9" fill="#7880dc" opacity="0.45"/>
<rect x="208.8" y="239.0" width="0.9" height="0.9" fill="#7880dc" opacity="0.45"/>
<rect x="200.7" y="242.9" width="0.9" height="0.9" fill="#7880dc" opacity="0.45"/>
<rect x="193.0" y="240.1" width="0.9" height="0.9" fill="#7880dc" opacity="0.45"/>
<rect x="202.1" y="237.8" width="0.9" height="0.9" fill="#7880dc" opacity="0.45"/>
<rect x="206.4" y="238.7" width="0.9" height="0.9" fill="#7880dc" opacity="0.45"/>
<rect x="204.4" y="239.1" width="0.9" height="0.9" fill="#7880dc" opacity="0.45"/>
<rect x="219.4" y="236.8" width="0.9" height="0.9" fill="#7880dc" opacity="0.45"/>
<rect x="211.1" y="240.4" width="0.9" height="0.9" fill="#7880dc" opacity="0.45"/>
<rect x="198.9" y="241.2" width="0.9" height="0.9" fill="#7880dc" opacity="0.45"/>
<rect x="194.3" y="242.6" width="0.9" height="0.9" fill="#7880dc" opacity="0.45"/>
<rect x="194.7" y="236.0" width="0.9" height="0.9" fill="#7880dc" opacity="0.45"/>
<rect x="204.9" y="241.3" width="0.9" height="0.9" fill="#7880dc" opacity="0.45"/>
<rect x="210.2" y="241.6" width="0.9" height="0.9" fill="#7880dc" opacity="0.45"/>
<rect x="200.1" y="234.2" width="0.9" height="0.9" fill="#7880dc" opacity="0.45"/>
<rect x="206.9" y="239.2" width="0.9" height="0.9" fill="#7880dc" opacity="0.45"/>
<rect x="193.4" y="241.9" width="0.9" height="0.9" fill="#7880dc" opacity="0.45"/>
<rect x="214.5" y="223.3" width="0.9" height="0.9" fill="#7880dc" opacity="0.45"/>
<rect x="214.8" y="221.0" width="0.9" height="0.9" fill="#7880dc" opacity="0.45"/>
<rect x="213.0" y="231.4" width="0.9" height="0.9" fill="#7880dc" opacity="0.45"/>
<rect x="212.0" y="229.2" width="0.9" height="0.9" fill="#7880dc" opacity="0.45"/>
<rect x="212.3" y="233.4" width="0.9" height="0.9" fill="#7880dc" opacity="0.45"/>
<rect x="213.2" y="230.1" width="0.9" height="0.9" fill="#7880dc" opacity="0.45"/>
<rect x="212.1" y="226.9" width="0.9" height="0.9" fill="#7880dc" opacity="0.45"/>
<rect x="215.5" y="231.7" width="0.9" height="0.9" fill="#7880dc" opacity="0.45"/>
<rect x="211.6" y="234.5" width="0.9" height="0.9" fill="#7880dc" opacity="0.45"/>
<rect x="215.4" y="226.7" width="0.9" height="0.9" fill="#7880dc" opacity="0.45"/>
<rect x="178.8" y="241.8" width="0.9" height="0.9" fill="#7880dc" opacity="0.3"/>
<rect x="175.8" y="250.5" width="0.9" height="0.9" fill="#7880dc" opacity="0.3"/>
<rect x="178.6" y="251.1" width="0.9" height="0.9" fill="#7880dc" opacity="0.3"/>
<rect x="173.8" y="238.9" width="0.9" height="0.9" fill="#7880dc" opacity="0.3"/>
<rect x="176.8" y="240.3" width="0.9" height="0.9" fill="#7880dc" opacity="0.3"/>
<rect x="175.7" y="240.9" width="0.9" height="0.9" fill="#7880dc" opacity="0.3"/>
<rect x="178.1" y="249.2" width="0.9" height="0.9" fill="#7880dc" opacity="0.3"/>
<rect x="177.1" y="246.1" width="0.9" height="0.9" fill="#7880dc" opacity="0.3"/>
<rect x="182.9" y="279.3" width="0.9" height="0.9" fill="#7880dc" opacity="0.45"/>
<rect x="183.3" y="284.2" width="0.9" height="0.9" fill="#7880dc" opacity="0.45"/>
<rect x="183.4" y="278.1" width="0.9" height="0.9" fill="#7880dc" opacity="0.45"/>
<rect x="185.5" y="284.5" width="0.9" height="0.9" fill="#7880dc" opacity="0.45"/>
<rect x="184.8" y="294.0" width="0.9" height="0.9" fill="#7880dc" opacity="0.45"/>
<rect x="181.6" y="266.8" width="0.9" height="0.9" fill="#7880dc" opacity="0.45"/>
<rect x="184.6" y="278.5" width="0.9" height="0.9" fill="#7880dc" opacity="0.45"/>
<rect x="182.9" y="279.7" width="0.9" height="0.9" fill="#7880dc" opacity="0.45"/>
<rect x="183.0" y="271.3" width="0.9" height="0.9" fill="#7880dc" opacity="0.45"/>
<rect x="182.7" y="277.8" width="0.9" height="0.9" fill="#7880dc" opacity="0.45"/>
<rect x="182.8" y="261.0" width="0.9" height="0.9" fill="#7880dc" opacity="0.45"/>
<rect x="183.9" y="285.0" width="0.9" height="0.9" fill="#7880dc" opacity="0.45"/>
<rect x="180.4" y="275.4" width="0.9" height="0.9" fill="#7880dc" opacity="0.45"/>
<rect x="182.8" y="287.7" width="0.9" height="0.9" fill="#7880dc" opacity="0.45"/>
<rect x="182.8" y="294.5" width="0.9" height="0.9" fill="#7880dc" opacity="0.45"/>
<rect x="182.8" y="273.0" width="0.9" height="0.9" fill="#7880dc" opacity="0.45"/>
<rect x="192.6" y="277.9" width="0.9" height="0.9" fill="#7880dc" opacity="0.45"/>
<rect x="192.7" y="278.7" width="0.9" height="0.9" fill="#7880dc" opacity="0.45"/>
<rect x="195.6" y="276.7" width="0.9" height="0.9" fill="#7880dc" opacity="0.45"/>
<rect x="195.6" y="270.6" width="0.9" height="0.9" fill="#7880dc" opacity="0.45"/>
<rect x="193.8" y="267.3" width="0.9" height="0.9" fill="#7880dc" opacity="0.45"/>
<rect x="192.7" y="259.5" width="0.9" height="0.9" fill="#7880dc" opacity="0.45"/>
<rect x="192.8" y="263.4" width="0.9" height="0.9" fill="#7880dc" opacity="0.45"/>
<rect x="191.2" y="273.2" width="0.9" height="0.9" fill="#7880dc" opacity="0.45"/>
<rect x="194.6" y="269.3" width="0.9" height="0.9" fill="#7880dc" opacity="0.45"/>
<rect x="196.3" y="279.5" width="0.9" height="0.9" fill="#7880dc" opacity="0.45"/>
<rect x="195.7" y="267.2" width="0.9" height="0.9" fill="#7880dc" opacity="0.45"/>
<rect x="191.1" y="276.5" width="0.9" height="0.9" fill="#7880dc" opacity="0.45"/>
<rect x="194.4" y="277.8" width="0.9" height="0.9" fill="#7880dc" opacity="0.45"/>
<rect x="194.6" y="282.1" width="0.9" height="0.9" fill="#7880dc" opacity="0.45"/>
<rect x="193.3" y="277.3" width="0.9" height="0.9" fill="#7880dc" opacity="0.45"/>
<rect x="192.2" y="253.5" width="0.9" height="0.9" fill="#7880dc" opacity="0.45"/>
<rect x="193.0" y="284.0" width="0.9" height="0.9" fill="#7880dc" opacity="0.45"/>
<rect x="190.8" y="280.1" width="0.9" height="0.9" fill="#7880dc" opacity="0.45"/>
<rect x="192.6" y="268.8" width="0.9" height="0.9" fill="#7880dc" opacity="0.45"/>
<rect x="193.9" y="273.7" width="0.9" height="0.9" fill="#7880dc" opacity="0.45"/>
<rect x="200.2" y="309.5" width="0.9" height="0.9" fill="#7880dc" opacity="0.45"/>
<rect x="210.1" y="312.3" width="0.9" height="0.9" fill="#7880dc" opacity="0.45"/>
<rect x="201.7" y="315.2" width="0.9" height="0.9" fill="#7880dc" opacity="0.45"/>
<rect x="220.4" y="318.7" width="0.9" height="0.9" fill="#7880dc" opacity="0.45"/>
<rect x="197.6" y="309.7" width="0.9" height="0.9" fill="#7880dc" opacity="0.45"/>
<rect x="194.0" y="310.5" width="0.9" height="0.9" fill="#7880dc" opacity="0.45"/>
<rect x="210.9" y="304.4" width="0.9" height="0.9" fill="#7880dc" opacity="0.45"/>
<rect x="195.9" y="309.7" width="0.9" height="0.9" fill="#7880dc" opacity="0.45"/>
<rect x="211.4" y="305.8" width="0.9" height="0.9" fill="#7880dc" opacity="0.45"/>
<rect x="205.2" y="298.9" width="0.9" height="0.9" fill="#7880dc" opacity="0.45"/>
<rect x="202.0" y="309.6" width="0.9" height="0.9" fill="#7880dc" opacity="0.45"/>
<rect x="208.1" y="315.3" width="0.9" height="0.9" fill="#7880dc" opacity="0.45"/>
<rect x="199.0" y="300.0" width="0.9" height="0.9" fill="#7880dc" opacity="0.45"/>
<rect x="210.2" y="306.6" width="0.9" height="0.9" fill="#7880dc" opacity="0.45"/>
<rect x="209.0" y="311.9" width="0.9" height="0.9" fill="#7880dc" opacity="0.45"/>
<rect x="211.2" y="314.8" width="0.9" height="0.9" fill="#7880dc" opacity="0.45"/>
<rect x="216.5" y="302.3" width="0.9" height="0.9" fill="#7880dc" opacity="0.45"/>
<rect x="206.6" y="317.0" width="0.9" height="0.9" fill="#7880dc" opacity="0.45"/>
<rect x="204.2" y="312.9" width="0.9" height="0.9" fill="#7880dc" opacity="0.45"/>
<rect x="206.6" y="307.3" width="0.9" height="0.9" fill="#7880dc" opacity="0.45"/>
<rect x="218.1" y="313.2" width="0.9" height="0.9" fill="#7880dc" opacity="0.45"/>
<rect x="205.3" y="312.6" width="0.9" height="0.9" fill="#7880dc" opacity="0.45"/>
<rect x="186.9" y="313.8" width="0.9" height="0.9" fill="#7880dc" opacity="0.45"/>
<rect x="209.0" y="316.1" width="0.9" height="0.9" fill="#7880dc" opacity="0.45"/>
<rect x="189.4" y="317.3" width="0.9" height="0.9" fill="#7880dc" opacity="0.45"/>
<rect x="203.3" y="319.9" width="0.9" height="0.9" fill="#7880dc" opacity="0.45"/>
<rect x="209.6" y="315.2" width="0.9" height="0.9" fill="#7880dc" opacity="0.45"/>
<rect x="195.2" y="315.6" width="0.9" height="0.9" fill="#7880dc" opacity="0.45"/>
<rect x="197.7" y="320.4" width="0.9" height="0.9" fill="#7880dc" opacity="0.45"/>
<rect x="215.9" y="320.1" width="0.9" height="0.9" fill="#7880dc" opacity="0.45"/>
<rect x="203.8" y="315.3" width="0.9" height="0.9" fill="#7880dc" opacity="0.45"/>
<rect x="209.0" y="315.0" width="0.9" height="0.9" fill="#7880dc" opacity="0.45"/>
<rect x="202.4" y="311.0" width="0.9" height="0.9" fill="#7880dc" opacity="0.45"/>
<rect x="195.8" y="320.3" width="0.9" height="0.9" fill="#7880dc" opacity="0.45"/>
<rect x="189.7" y="311.5" width="0.9" height="0.9" fill="#7880dc" opacity="0.45"/>
<rect x="198.4" y="321.0" width="0.9" height="0.9" fill="#7880dc" opacity="0.45"/>
<rect x="123.6" y="96.3" width="0.9" height="0.9" fill="#7880dc" opacity="0.3"/>
<rect x="108.2" y="96.8" width="0.9" height="0.9" fill="#7880dc" opacity="0.3"/>
<rect x="104.6" y="97.1" width="0.9" height="0.9" fill="#7880dc" opacity="0.3"/>
<rect x="109.6" y="94.0" width="0.9" height="0.9" fill="#7880dc" opacity="0.3"/>
<rect x="107.4" y="96.5" width="0.9" height="0.9" fill="#7880dc" opacity="0.3"/>
<rect x="105.1" y="94.8" width="0.9" height="0.9" fill="#7880dc" opacity="0.3"/>
<rect x="120.2" y="174.8" width="0.9" height="0.9" fill="#7880dc" opacity="0.3"/>
<rect x="110.7" y="170.2" width="0.9" height="0.9" fill="#7880dc" opacity="0.3"/>
<rect x="117.0" y="170.5" width="0.9" height="0.9" fill="#7880dc" opacity="0.3"/>
<rect x="106.7" y="173.8" width="0.9" height="0.9" fill="#7880dc" opacity="0.3"/>
<rect x="104.7" y="169.5" width="0.9" height="0.9" fill="#7880dc" opacity="0.3"/>
<rect x="107.7" y="169.2" width="0.9" height="0.9" fill="#7880dc" opacity="0.3"/>
<rect x="119.1" y="243.7" width="0.9" height="0.9" fill="#7880dc" opacity="0.3"/>
<rect x="139.3" y="244.0" width="0.9" height="0.9" fill="#7880dc" opacity="0.3"/>
<rect x="122.4" y="238.2" width="0.9" height="0.9" fill="#7880dc" opacity="0.3"/>
<rect x="121.3" y="239.2" width="0.9" height="0.9" fill="#7880dc" opacity="0.3"/>
<rect x="120.8" y="244.9" width="0.9" height="0.9" fill="#7880dc" opacity="0.3"/>
<rect x="124.5" y="241.4" width="0.9" height="0.9" fill="#7880dc" opacity="0.3"/>
<rect x="113.0" y="241.9" width="0.9" height="0.9" fill="#7880dc" opacity="0.3"/>
<rect x="123.3" y="239.2" width="0.9" height="0.9" fill="#7880dc" opacity="0.3"/>
<rect x="115.9" y="244.6" width="0.9" height="0.9" fill="#7880dc" opacity="0.3"/>
<rect x="102.1" y="240.7" width="0.9" height="0.9" fill="#7880dc" opacity="0.3"/>
<rect x="108.0" y="321.6" width="0.9" height="0.9" fill="#7880dc" opacity="0.3"/>
<rect x="129.3" y="318.5" width="0.9" height="0.9" fill="#7880dc" opacity="0.3"/>
<rect x="126.8" y="317.9" width="0.9" height="0.9" fill="#7880dc" opacity="0.3"/>
<rect x="125.5" y="312.2" width="0.9" height="0.9" fill="#7880dc" opacity="0.3"/>
<rect x="125.1" y="318.8" width="0.9" height="0.9" fill="#7880dc" opacity="0.3"/>
<rect x="104.9" y="319.5" width="0.9" height="0.9" fill="#7880dc" opacity="0.3"/>
<rect x="130.0" y="312.4" width="0.9" height="0.9" fill="#7880dc" opacity="0.3"/>
<rect x="116.3" y="316.1" width="0.9" height="0.9" fill="#7880dc" opacity="0.3"/>
<rect x="115.7" y="318.2" width="0.9" height="0.9" fill="#7880dc" opacity="0.3"/>
<rect x="106.7" y="316.3" width="0.9" height="0.9" fill="#7880dc" opacity="0.3"/>
<text x="169.5" y="287" font-family="Liberation Sans" font-size="13.5" font-weight="normal" text-anchor="middle" fill="#111" >2N</text>
<text x="214" y="285.5" font-family="Liberation Sans" font-size="13.5" font-weight="normal" text-anchor="middle" fill="#111" >4N</text>
<text x="222.8" y="303.8" font-family="Liberation Sans" font-size="13.5" font-weight="normal" text-anchor="middle" fill="#111" >8N</text>
<path d="M172,289 L178.5,294 L174.5,295.5 Z" fill="#111"/>
<path d="M204.5,282 L198.5,287 L204,288.5 Z" fill="#111"/>
<path d="M224.5,304.5 L219.5,310 L225,310.5 Z" fill="#111"/>
<line x1="248.8" y1="41.5" x2="248.8" y2="131.8" stroke="#111" stroke-width="2"/>
<line x1="248.8" y1="238.8" x2="248.8" y2="327" stroke="#111" stroke-width="2"/>
<text x="0" y="0" transform="translate(253,185.2) rotate(-90)" font-family="Liberation Sans" font-size="14" font-weight="bold" text-anchor="middle" fill="#111">p21 expression</text>
<line x1="93.8" y1="346.2" x2="119.2" y2="346.2" stroke="#111" stroke-width="2"/>
<line x1="210.3" y1="346.2" x2="231.8" y2="346.2" stroke="#111" stroke-width="2"/>
<text x="164" y="350.9" font-family="Liberation Sans" font-size="14" font-weight="bold" text-anchor="middle" fill="#111" >DNA content</text>
<rect x="293" y="42.5" width="62.5" height="62.5" fill="#fff" stroke="#9a9a9a" stroke-width="1"/>
<path d="M293.5,105.0 L294.8,104.7 L295.0,104.2 L295.3,102.9 L295.6,100.1 L295.8,95.0 L296.1,86.9 L296.3,76.1 L296.6,64.0 L296.8,53.5 L297.1,47.6 L297.3,49.7 L297.6,57.7 L297.9,67.0 L298.1,75.9 L298.4,83.6 L298.6,89.8 L298.9,94.6 L299.1,98.0 L299.4,100.5 L299.6,102.1 L299.9,103.2 L300.2,103.9 L300.4,104.4 L300.7,104.6 L300.9,104.8 L301.7,105.0 L305.8,105.0 L309.9,105.0 L314.0,105.0 L318.1,105.0 L322.2,105.0 L326.3,105.0 L330.4,105.0 L334.5,105.0 L338.6,105.0 L342.7,105.0 L346.8,105.0 L350.9,105.0 L355.0,105.0 L355.0,105.0 L293.5,105.0 Z" fill="#cfcfcf" stroke="none"/>
<path d="M293.5,105.0 L294.3,104.6 L294.5,104.3 L294.8,103.6 L295.0,102.5 L295.3,100.6 L295.6,97.7 L295.8,93.6 L296.1,88.2 L296.3,81.4 L296.6,73.7 L296.8,65.6 L297.1,58.0 L297.3,51.8 L297.6,48.0 L297.9,47.3 L298.1,51.0 L298.4,56.5 L298.6,62.7 L298.9,68.9 L299.1,74.8 L299.4,80.2 L299.6,85.0 L299.9,89.1 L300.2,92.5 L300.4,95.3 L300.7,97.6 L300.9,99.4 L301.2,100.9 L301.4,101.9 L301.7,102.8 L302.0,103.4 L302.2,103.9 L302.5,104.2 L302.7,104.4 L303.0,104.6 L303.5,104.8 L304.8,105.0 L308.9,105.0 L313.0,105.0 L317.1,105.0 L321.2,105.0 L325.3,105.0 L329.4,105.0 L333.5,105.0 L337.6,105.0 L341.7,105.0 L345.8,105.0 L349.9,105.0 L354.0,105.0 L355.0,105.0 L355.0,105.0 L293.5,105.0 Z" fill="#a9a9a9" stroke="#3a3a3a" stroke-width="0.8"/>
<path d="M293.5,105.0 L294.8,104.7 L295.0,104.2 L295.3,102.9 L295.6,100.1 L295.8,95.0 L296.1,86.9 L296.3,76.1 L296.6,64.0 L296.8,53.5 L297.1,47.6 L297.3,49.7 L297.6,57.7 L297.9,67.0 L298.1,75.9 L298.4,83.6 L298.6,89.8 L298.9,94.6 L299.1,98.0 L299.4,100.5 L299.6,102.1 L299.9,103.2 L300.2,103.9 L300.4,104.4 L300.7,104.6 L300.9,104.8 L301.7,105.0 L305.8,105.0 L309.9,105.0 L314.0,105.0 L318.1,105.0 L322.2,105.0 L326.3,105.0 L330.4,105.0 L334.5,105.0 L338.6,105.0 L342.7,105.0 L346.8,105.0 L350.9,105.0 L355.0,105.0" fill="none" stroke="#3a3a3a" stroke-width="0.8"/>
<path d="M293,42.5 V105 H355.5" fill="none" stroke="#444" stroke-width="1"/>
<path d="M291.5,105.0h2.2 M291.5,93.0h2.2 M291.5,81.0h2.2 M291.5,69.0h2.2 M291.5,57.0h2.2 M291.5,45.0h2.2 M292.2,105.0h1.3 M292.2,102.0h1.3 M292.2,99.0h1.3 M292.2,96.0h1.3 M292.2,93.0h1.3 M292.2,90.0h1.3 M292.2,87.0h1.3 M292.2,84.0h1.3 M292.2,81.0h1.3 M292.2,78.0h1.3 M292.2,75.0h1.3 M292.2,72.0h1.3 M292.2,69.0h1.3 M292.2,66.0h1.3 M292.2,63.0h1.3 M292.2,60.0h1.3 M292.2,57.0h1.3 M292.2,54.0h1.3 M292.2,51.0h1.3 M292.2,48.0h1.3 M293.0,105v1.5 M299.2,105v1.5 M305.5,105v1.5 M311.8,105v1.5 M318.0,105v1.5 M324.2,105v1.5 M330.5,105v1.5 M336.8,105v1.5 M343.0,105v1.5 M349.2,105v1.5 M355.5,105v1.5" stroke="#888" stroke-width="0.6" fill="none"/>
<path d="M301.8,66.10000000000001 v6.6 M301.8,69.4 H355.5" stroke="#1a1a1a" stroke-width="1.8" fill="none"/>
<text x="327" y="66.80000000000001" font-family="Liberation Sans" font-size="14" font-weight="normal" text-anchor="middle" fill="#111" >6</text>
<rect x="363.5" y="42.5" width="62.5" height="62.5" fill="#fff" stroke="#9a9a9a" stroke-width="1"/>
<path d="M364.0,105.0 L365.5,104.8 L365.8,104.3 L366.1,103.2 L366.3,100.8 L366.6,96.2 L366.8,88.8 L367.1,78.4 L367.3,66.4 L367.6,55.3 L367.8,48.2 L368.1,48.5 L368.4,55.9 L368.6,65.2 L368.9,74.2 L369.1,82.2 L369.4,88.7 L369.6,93.7 L369.9,97.4 L370.1,100.1 L370.4,101.9 L370.7,103.0 L370.9,103.8 L371.2,104.3 L371.4,104.6 L371.7,104.8 L372.2,104.9 L376.3,105.0 L380.4,105.0 L384.5,105.0 L388.6,105.0 L392.7,105.0 L396.8,105.0 L400.9,105.0 L405.0,105.0 L409.1,105.0 L413.2,105.0 L417.3,105.0 L421.4,105.0 L425.5,105.0 L425.5,105.0 L364.0,105.0 Z" fill="#cfcfcf" stroke="none"/>
<path d="M364.0,105.0 L365.0,104.8 L365.3,104.7 L365.5,104.4 L365.8,103.8 L366.1,102.9 L366.3,101.5 L366.6,99.5 L366.8,96.5 L367.1,92.5 L367.3,87.3 L367.6,81.2 L367.8,74.2 L368.1,66.9 L368.4,59.9 L368.6,53.8 L368.9,49.4 L369.1,47.2 L369.4,48.3 L369.6,52.3 L369.9,57.4 L370.1,62.9 L370.4,68.5 L370.7,73.9 L370.9,78.9 L371.2,83.3 L371.4,87.3 L371.7,90.7 L371.9,93.5 L372.2,95.9 L372.5,97.9 L372.7,99.5 L373.0,100.8 L373.2,101.8 L373.5,102.6 L373.7,103.2 L374.0,103.7 L374.2,104.0 L374.5,104.3 L374.8,104.5 L375.3,104.7 L376.0,104.9 L380.1,105.0 L384.2,105.0 L388.3,105.0 L392.4,105.0 L396.5,105.0 L400.6,105.0 L404.7,105.0 L408.8,105.0 L412.9,105.0 L417.0,105.0 L421.1,105.0 L425.2,105.0 L425.5,105.0 L425.5,105.0 L364.0,105.0 Z" fill="#a9a9a9" stroke="#3a3a3a" stroke-width="0.8"/>
<path d="M364.0,105.0 L365.5,104.8 L365.8,104.3 L366.1,103.2 L366.3,100.8 L366.6,96.2 L366.8,88.8 L367.1,78.4 L367.3,66.4 L367.6,55.3 L367.8,48.2 L368.1,48.5 L368.4,55.9 L368.6,65.2 L368.9,74.2 L369.1,82.2 L369.4,88.7 L369.6,93.7 L369.9,97.4 L370.1,100.1 L370.4,101.9 L370.7,103.0 L370.9,103.8 L371.2,104.3 L371.4,104.6 L371.7,104.8 L372.2,104.9 L376.3,105.0 L380.4,105.0 L384.5,105.0 L388.6,105.0 L392.7,105.0 L396.8,105.0 L400.9,105.0 L405.0,105.0 L409.1,105.0 L413.2,105.0 L417.3,105.0 L421.4,105.0 L425.5,105.0" fill="none" stroke="#3a3a3a" stroke-width="0.8"/>
<path d="M363.5,42.5 V105 H426" fill="none" stroke="#444" stroke-width="1"/>
<path d="M362.0,105.0h2.2 M362.0,93.0h2.2 M362.0,81.0h2.2 M362.0,69.0h2.2 M362.0,57.0h2.2 M362.0,45.0h2.2 M362.7,105.0h1.3 M362.7,102.0h1.3 M362.7,99.0h1.3 M362.7,96.0h1.3 M362.7,93.0h1.3 M362.7,90.0h1.3 M362.7,87.0h1.3 M362.7,84.0h1.3 M362.7,81.0h1.3 M362.7,78.0h1.3 M362.7,75.0h1.3 M362.7,72.0h1.3 M362.7,69.0h1.3 M362.7,66.0h1.3 M362.7,63.0h1.3 M362.7,60.0h1.3 M362.7,57.0h1.3 M362.7,54.0h1.3 M362.7,51.0h1.3 M362.7,48.0h1.3 M363.5,105v1.5 M369.8,105v1.5 M376.0,105v1.5 M382.2,105v1.5 M388.5,105v1.5 M394.8,105v1.5 M401.0,105v1.5 M407.2,105v1.5 M413.5,105v1.5 M419.8,105v1.5 M426.0,105v1.5" stroke="#888" stroke-width="0.6" fill="none"/>
<path d="M372.5,66.10000000000001 v6.6 M372.5,69.4 H426" stroke="#1a1a1a" stroke-width="1.8" fill="none"/>
<text x="397.5" y="66.80000000000001" font-family="Liberation Sans" font-size="14" font-weight="normal" text-anchor="middle" fill="#111" >5</text>
<rect x="293" y="116.5" width="62.5" height="62.5" fill="#fff" stroke="#9a9a9a" stroke-width="1"/>
<path d="M293.5,179.0 L294.8,178.7 L295.0,178.2 L295.3,176.9 L295.6,174.1 L295.8,169.0 L296.1,160.9 L296.3,150.1 L296.6,138.0 L296.8,127.5 L297.1,121.6 L297.3,123.7 L297.6,131.7 L297.9,141.0 L298.1,149.9 L298.4,157.6 L298.6,163.8 L298.9,168.6 L299.1,172.0 L299.4,174.5 L299.6,176.1 L299.9,177.2 L300.2,177.9 L300.4,178.4 L300.7,178.6 L300.9,178.8 L301.7,179.0 L305.8,179.0 L309.9,179.0 L314.0,179.0 L318.1,179.0 L322.2,179.0 L326.3,179.0 L330.4,179.0 L334.5,179.0 L338.6,179.0 L342.7,179.0 L346.8,179.0 L350.9,179.0 L355.0,179.0 L355.0,179.0 L293.5,179.0 Z" fill="#cfcfcf" stroke="none"/>
<path d="M293.5,179.0 L294.8,178.7 L295.0,178.2 L295.3,176.9 L295.6,174.1 L295.8,169.0 L296.1,160.9 L296.3,150.1 L296.6,138.0 L296.8,127.5 L297.1,121.6 L297.3,123.9 L297.6,132.7 L297.9,142.6 L298.1,151.9 L298.4,159.7 L298.6,160.3 L298.9,160.9 L299.1,161.4 L299.4,161.9 L299.6,162.4 L299.9,162.9 L300.2,163.4 L300.4,163.9 L300.7,164.3 L300.9,164.7 L301.2,165.1 L301.4,165.6 L301.7,165.9 L302.0,166.3 L302.2,166.7 L302.5,167.1 L302.7,167.4 L303.0,167.8 L303.2,168.1 L303.5,168.4 L303.8,168.7 L304.0,169.0 L304.3,169.3 L304.5,169.6 L304.8,169.9 L305.0,170.1 L305.3,170.4 L305.5,170.6 L305.8,170.9 L306.1,171.1 L306.3,171.4 L306.6,171.6 L306.8,171.8 L307.1,172.0 L307.3,172.2 L307.6,172.4 L307.9,172.6 L308.1,172.8 L308.4,173.0 L308.6,173.2 L308.9,173.3 L309.1,173.5 L309.4,173.7 L309.6,173.8 L309.9,174.0 L310.4,174.3 L310.9,174.5 L311.4,174.8 L311.9,175.0 L312.5,175.3 L313.0,175.5 L313.5,175.7 L314.0,175.9 L314.5,176.1 L315.0,176.2 L315.5,176.4 L316.1,176.5 L316.8,176.7 L317.6,176.9 L318.4,177.1 L319.1,177.3 L320.1,177.5 L321.2,177.6 L322.2,177.8 L323.5,178.0 L325.0,178.1 L326.8,178.3 L329.1,178.5 L331.9,178.6 L336.0,178.8 L340.1,178.8 L344.2,178.9 L348.3,178.9 L352.4,179.0 L355.0,179.0 L355.0,179.0 L293.5,179.0 Z" fill="#a9a9a9" stroke="#3a3a3a" stroke-width="0.8"/>
<path d="M293.5,179.0 L294.8,178.7 L295.0,178.2 L295.3,176.9 L295.6,174.1 L295.8,169.0 L296.1,160.9 L296.3,150.1 L296.6,138.0 L296.8,127.5 L297.1,121.6 L297.3,123.7 L297.6,131.7 L297.9,141.0 L298.1,149.9 L298.4,157.6 L298.6,163.8 L298.9,168.6 L299.1,172.0 L299.4,174.5 L299.6,176.1 L299.9,177.2 L300.2,177.9 L300.4,178.4 L300.7,178.6 L300.9,178.8 L301.7,179.0 L305.8,179.0 L309.9,179.0 L314.0,179.0 L318.1,179.0 L322.2,179.0 L326.3,179.0 L330.4,179.0 L334.5,179.0 L338.6,179.0 L342.7,179.0 L346.8,179.0 L350.9,179.0 L355.0,179.0" fill="none" stroke="#3a3a3a" stroke-width="0.8"/>
<path d="M293,116.5 V179 H355.5" fill="none" stroke="#444" stroke-width="1"/>
<path d="M291.5,179.0h2.2 M291.5,167.0h2.2 M291.5,155.0h2.2 M291.5,143.0h2.2 M291.5,131.0h2.2 M291.5,119.0h2.2 M292.2,179.0h1.3 M292.2,176.0h1.3 M292.2,173.0h1.3 M292.2,170.0h1.3 M292.2,167.0h1.3 M292.2,164.0h1.3 M292.2,161.0h1.3 M292.2,158.0h1.3 M292.2,155.0h1.3 M292.2,152.0h1.3 M292.2,149.0h1.3 M292.2,146.0h1.3 M292.2,143.0h1.3 M292.2,140.0h1.3 M292.2,137.0h1.3 M292.2,134.0h1.3 M292.2,131.0h1.3 M292.2,128.0h1.3 M292.2,125.0h1.3 M292.2,122.0h1.3 M293.0,179v1.5 M299.2,179v1.5 M305.5,179v1.5 M311.8,179v1.5 M318.0,179v1.5 M324.2,179v1.5 M330.5,179v1.5 M336.8,179v1.5 M343.0,179v1.5 M349.2,179v1.5 M355.5,179v1.5" stroke="#888" stroke-width="0.6" fill="none"/>
<path d="M301.8,140.1 v6.6 M301.8,143.4 H355.5" stroke="#1a1a1a" stroke-width="1.8" fill="none"/>
<text x="326" y="140.8" font-family="Liberation Sans" font-size="14" font-weight="normal" text-anchor="middle" fill="#111" >37</text>
<rect x="363.5" y="116.5" width="62.5" height="62.5" fill="#fff" stroke="#9a9a9a" stroke-width="1"/>
<path d="M364.0,179.0 L365.3,178.7 L365.5,178.2 L365.8,176.9 L366.1,174.1 L366.3,169.0 L366.6,160.9 L366.8,150.1 L367.1,138.0 L367.3,127.5 L367.6,121.6 L367.8,123.7 L368.1,131.7 L368.4,141.0 L368.6,149.9 L368.9,157.6 L369.1,163.8 L369.4,168.6 L369.6,172.0 L369.9,174.5 L370.1,176.1 L370.4,177.2 L370.7,177.9 L370.9,178.4 L371.2,178.6 L371.4,178.8 L372.2,179.0 L376.3,179.0 L380.4,179.0 L384.5,179.0 L388.6,179.0 L392.7,179.0 L396.8,179.0 L400.9,179.0 L405.0,179.0 L409.1,179.0 L413.2,179.0 L417.3,179.0 L421.4,179.0 L425.5,179.0 L425.5,179.0 L364.0,179.0 Z" fill="#cfcfcf" stroke="none"/>
<path d="M364.0,179.0 L365.8,178.7 L366.1,178.3 L366.3,177.4 L366.6,175.6 L366.8,172.4 L367.1,167.2 L367.3,159.8 L367.6,150.4 L367.8,140.1 L368.1,130.4 L368.4,123.5 L368.6,121.0 L368.9,125.9 L369.1,133.8 L369.4,142.4 L369.6,150.4 L369.9,157.4 L370.1,163.2 L370.4,167.7 L370.7,171.1 L370.9,173.7 L371.2,175.5 L371.4,176.3 L371.7,176.5 L371.9,176.6 L372.2,176.8 L372.7,177.1 L373.2,177.3 L373.7,177.6 L374.2,177.7 L374.8,177.9 L375.5,178.1 L376.3,178.3 L377.3,178.5 L378.6,178.6 L380.7,178.8 L384.8,178.9 L388.9,179.0 L393.0,179.0 L397.1,179.0 L401.2,179.0 L405.3,179.0 L409.4,179.0 L413.5,179.0 L417.6,179.0 L421.7,179.0 L425.5,179.0 L425.5,179.0 L364.0,179.0 Z" fill="#a9a9a9" stroke="#3a3a3a" stroke-width="0.8"/>
<path d="M364.0,179.0 L365.3,178.7 L365.5,178.2 L365.8,176.9 L366.1,174.1 L366.3,169.0 L366.6,160.9 L366.8,150.1 L367.1,138.0 L367.3,127.5 L367.6,121.6 L367.8,123.7 L368.1,131.7 L368.4,141.0 L368.6,149.9 L368.9,157.6 L369.1,163.8 L369.4,168.6 L369.6,172.0 L369.9,174.5 L370.1,176.1 L370.4,177.2 L370.7,177.9 L370.9,178.4 L371.2,178.6 L371.4,178.8 L372.2,179.0 L376.3,179.0 L380.4,179.0 L384.5,179.0 L388.6,179.0 L392.7,179.0 L396.8,179.0 L400.9,179.0 L405.0,179.0 L409.1,179.0 L413.2,179.0 L417.3,179.0 L421.4,179.0 L425.5,179.0" fill="none" stroke="#3a3a3a" stroke-width="0.8"/>
<path d="M363.5,116.5 V179 H426" fill="none" stroke="#444" stroke-width="1"/>
<path d="M362.0,179.0h2.2 M362.0,167.0h2.2 M362.0,155.0h2.2 M362.0,143.0h2.2 M362.0,131.0h2.2 M362.0,119.0h2.2 M362.7,179.0h1.3 M362.7,176.0h1.3 M362.7,173.0h1.3 M362.7,170.0h1.3 M362.7,167.0h1.3 M362.7,164.0h1.3 M362.7,161.0h1.3 M362.7,158.0h1.3 M362.7,155.0h1.3 M362.7,152.0h1.3 M362.7,149.0h1.3 M362.7,146.0h1.3 M362.7,143.0h1.3 M362.7,140.0h1.3 M362.7,137.0h1.3 M362.7,134.0h1.3 M362.7,131.0h1.3 M362.7,128.0h1.3 M362.7,125.0h1.3 M362.7,122.0h1.3 M363.5,179v1.5 M369.8,179v1.5 M376.0,179v1.5 M382.2,179v1.5 M388.5,179v1.5 M394.8,179v1.5 M401.0,179v1.5 M407.2,179v1.5 M413.5,179v1.5 M419.8,179v1.5 M426.0,179v1.5" stroke="#888" stroke-width="0.6" fill="none"/>
<path d="M372.5,140.1 v6.6 M372.5,143.4 H426" stroke="#1a1a1a" stroke-width="1.8" fill="none"/>
<text x="397.5" y="140.8" font-family="Liberation Sans" font-size="14" font-weight="normal" text-anchor="middle" fill="#111" >9</text>
<rect x="293" y="190.5" width="62.5" height="62.5" fill="#fff" stroke="#9a9a9a" stroke-width="1"/>
<path d="M293.5,253.0 L294.8,252.7 L295.0,252.2 L295.3,250.9 L295.6,248.1 L295.8,243.0 L296.1,234.9 L296.3,224.1 L296.6,212.0 L296.8,201.5 L297.1,195.6 L297.3,197.7 L297.6,205.7 L297.9,215.0 L298.1,223.9 L298.4,231.6 L298.6,237.8 L298.9,242.6 L299.1,246.0 L299.4,248.5 L299.6,250.1 L299.9,251.2 L300.2,251.9 L300.4,252.4 L300.7,252.6 L300.9,252.8 L301.7,253.0 L305.8,253.0 L309.9,253.0 L314.0,253.0 L318.1,253.0 L322.2,253.0 L326.3,253.0 L330.4,253.0 L334.5,253.0 L338.6,253.0 L342.7,253.0 L346.8,253.0 L350.9,253.0 L355.0,253.0 L355.0,253.0 L293.5,253.0 Z" fill="#cfcfcf" stroke="none"/>
<path d="M293.5,253.0 L294.8,252.6 L295.0,252.0 L295.3,250.8 L295.6,248.5 L295.8,244.6 L296.1,238.5 L296.3,230.3 L296.6,220.3 L296.8,210.0 L297.1,201.2 L297.3,195.9 L297.6,196.3 L297.9,202.9 L298.1,211.2 L298.4,219.7 L298.6,227.3 L298.9,233.9 L299.1,239.1 L299.4,242.0 L299.6,242.5 L299.9,243.0 L300.2,243.6 L300.4,244.0 L300.7,244.5 L300.9,244.9 L301.2,245.3 L301.4,245.7 L301.7,246.1 L302.0,246.4 L302.2,246.8 L302.5,247.1 L302.7,247.4 L303.0,247.7 L303.2,247.9 L303.5,248.2 L303.8,248.4 L304.0,248.7 L304.3,248.9 L304.5,249.1 L304.8,249.3 L305.0,249.5 L305.3,249.7 L305.5,249.8 L305.8,250.0 L306.1,250.1 L306.6,250.4 L307.1,250.7 L307.6,250.9 L308.1,251.1 L308.6,251.3 L309.1,251.5 L309.6,251.6 L310.4,251.8 L311.2,252.0 L312.2,252.2 L313.2,252.3 L314.5,252.5 L316.3,252.6 L319.1,252.8 L323.2,252.9 L327.3,253.0 L331.4,253.0 L335.5,253.0 L339.6,253.0 L343.7,253.0 L347.8,253.0 L351.9,253.0 L355.0,253.0 L355.0,253.0 L293.5,253.0 Z" fill="#a9a9a9" stroke="#3a3a3a" stroke-width="0.8"/>
<path d="M293.5,253.0 L294.8,252.7 L295.0,252.2 L295.3,250.9 L295.6,248.1 L295.8,243.0 L296.1,234.9 L296.3,224.1 L296.6,212.0 L296.8,201.5 L297.1,195.6 L297.3,197.7 L297.6,205.7 L297.9,215.0 L298.1,223.9 L298.4,231.6 L298.6,237.8 L298.9,242.6 L299.1,246.0 L299.4,248.5 L299.6,250.1 L299.9,251.2 L300.2,251.9 L300.4,252.4 L300.7,252.6 L300.9,252.8 L301.7,253.0 L305.8,253.0 L309.9,253.0 L314.0,253.0 L318.1,253.0 L322.2,253.0 L326.3,253.0 L330.4,253.0 L334.5,253.0 L338.6,253.0 L342.7,253.0 L346.8,253.0 L350.9,253.0 L355.0,253.0" fill="none" stroke="#3a3a3a" stroke-width="0.8"/>
<path d="M293,190.5 V253 H355.5" fill="none" stroke="#444" stroke-width="1"/>
<path d="M291.5,253.0h2.2 M291.5,241.0h2.2 M291.5,229.0h2.2 M291.5,217.0h2.2 M291.5,205.0h2.2 M291.5,193.0h2.2 M292.2,253.0h1.3 M292.2,250.0h1.3 M292.2,247.0h1.3 M292.2,244.0h1.3 M292.2,241.0h1.3 M292.2,238.0h1.3 M292.2,235.0h1.3 M292.2,232.0h1.3 M292.2,229.0h1.3 M292.2,226.0h1.3 M292.2,223.0h1.3 M292.2,220.0h1.3 M292.2,217.0h1.3 M292.2,214.0h1.3 M292.2,211.0h1.3 M292.2,208.0h1.3 M292.2,205.0h1.3 M292.2,202.0h1.3 M292.2,199.0h1.3 M292.2,196.0h1.3 M293.0,253v1.5 M299.2,253v1.5 M305.5,253v1.5 M311.8,253v1.5 M318.0,253v1.5 M324.2,253v1.5 M330.5,253v1.5 M336.8,253v1.5 M343.0,253v1.5 M349.2,253v1.5 M355.5,253v1.5" stroke="#888" stroke-width="0.6" fill="none"/>
<path d="M301.8,214.1 v6.6 M301.8,217.4 H355.5" stroke="#1a1a1a" stroke-width="1.8" fill="none"/>
<text x="326" y="214.8" font-family="Liberation Sans" font-size="14" font-weight="normal" text-anchor="middle" fill="#111" >15</text>
<rect x="363.5" y="190.5" width="62.5" height="62.5" fill="#fff" stroke="#9a9a9a" stroke-width="1"/>
<path d="M364.0,253.0 L365.5,252.8 L365.8,252.3 L366.1,251.2 L366.3,248.8 L366.6,244.2 L366.8,236.8 L367.1,226.4 L367.3,214.4 L367.6,203.3 L367.8,196.2 L368.1,196.5 L368.4,203.9 L368.6,213.2 L368.9,222.2 L369.1,230.2 L369.4,236.7 L369.6,241.7 L369.9,245.4 L370.1,248.1 L370.4,249.9 L370.7,251.0 L370.9,251.8 L371.2,252.3 L371.4,252.6 L371.7,252.8 L372.2,252.9 L376.3,253.0 L380.4,253.0 L384.5,253.0 L388.6,253.0 L392.7,253.0 L396.8,253.0 L400.9,253.0 L405.0,253.0 L409.1,253.0 L413.2,253.0 L417.3,253.0 L421.4,253.0 L425.5,253.0 L425.5,253.0 L364.0,253.0 Z" fill="#cfcfcf" stroke="none"/>
<path d="M364.0,253.0 L365.3,252.8 L365.5,252.6 L365.8,252.0 L366.1,251.0 L366.3,249.3 L366.6,246.4 L366.8,242.0 L367.1,235.9 L367.3,228.2 L367.6,219.3 L367.8,210.3 L368.1,202.4 L368.4,196.9 L368.6,195.0 L368.9,199.0 L369.1,205.7 L369.4,213.2 L369.6,220.5 L369.9,227.2 L370.1,233.0 L370.4,237.8 L370.7,240.5 L370.9,241.0 L371.2,241.5 L371.4,242.0 L371.7,242.4 L371.9,242.9 L372.2,243.3 L372.5,243.7 L372.7,244.1 L373.0,244.4 L373.2,244.8 L373.5,245.1 L373.7,245.4 L374.0,245.7 L374.2,246.0 L374.5,246.3 L374.8,246.6 L375.0,246.9 L375.3,247.1 L375.5,247.4 L375.8,247.6 L376.0,247.8 L376.3,248.0 L376.6,248.2 L376.8,248.4 L377.1,248.6 L377.3,248.8 L377.6,249.0 L377.8,249.1 L378.1,249.3 L378.4,249.4 L378.9,249.7 L379.4,250.0 L379.9,250.2 L380.4,250.4 L380.9,250.6 L381.4,250.8 L381.9,251.0 L382.4,251.2 L383.2,251.4 L384.0,251.6 L384.8,251.7 L385.8,251.9 L386.8,252.1 L388.1,252.3 L389.6,252.4 L391.7,252.6 L394.5,252.7 L398.6,252.9 L402.7,252.9 L406.8,253.0 L410.9,253.0 L415.0,253.0 L419.1,253.0 L423.2,253.0 L425.5,253.0 L425.5,253.0 L364.0,253.0 Z" fill="#a9a9a9" stroke="#3a3a3a" stroke-width="0.8"/>
<path d="M364.0,253.0 L365.5,252.8 L365.8,252.3 L366.1,251.2 L366.3,248.8 L366.6,244.2 L366.8,236.8 L367.1,226.4 L367.3,214.4 L367.6,203.3 L367.8,196.2 L368.1,196.5 L368.4,203.9 L368.6,213.2 L368.9,222.2 L369.1,230.2 L369.4,236.7 L369.6,241.7 L369.9,245.4 L370.1,248.1 L370.4,249.9 L370.7,251.0 L370.9,251.8 L371.2,252.3 L371.4,252.6 L371.7,252.8 L372.2,252.9 L376.3,253.0 L380.4,253.0 L384.5,253.0 L388.6,253.0 L392.7,253.0 L396.8,253.0 L400.9,253.0 L405.0,253.0 L409.1,253.0 L413.2,253.0 L417.3,253.0 L421.4,253.0 L425.5,253.0" fill="none" stroke="#3a3a3a" stroke-width="0.8"/>
<path d="M363.5,190.5 V253 H426" fill="none" stroke="#444" stroke-width="1"/>
<path d="M362.0,253.0h2.2 M362.0,241.0h2.2 M362.0,229.0h2.2 M362.0,217.0h2.2 M362.0,205.0h2.2 M362.0,193.0h2.2 M362.7,253.0h1.3 M362.7,250.0h1.3 M362.7,247.0h1.3 M362.7,244.0h1.3 M362.7,241.0h1.3 M362.7,238.0h1.3 M362.7,235.0h1.3 M362.7,232.0h1.3 M362.7,229.0h1.3 M362.7,226.0h1.3 M362.7,223.0h1.3 M362.7,220.0h1.3 M362.7,217.0h1.3 M362.7,214.0h1.3 M362.7,211.0h1.3 M362.7,208.0h1.3 M362.7,205.0h1.3 M362.7,202.0h1.3 M362.7,199.0h1.3 M362.7,196.0h1.3 M363.5,253v1.5 M369.8,253v1.5 M376.0,253v1.5 M382.2,253v1.5 M388.5,253v1.5 M394.8,253v1.5 M401.0,253v1.5 M407.2,253v1.5 M413.5,253v1.5 M419.8,253v1.5 M426.0,253v1.5" stroke="#888" stroke-width="0.6" fill="none"/>
<path d="M372.5,214.1 v6.6 M372.5,217.4 H426" stroke="#1a1a1a" stroke-width="1.8" fill="none"/>
<text x="397.5" y="214.8" font-family="Liberation Sans" font-size="14" font-weight="normal" text-anchor="middle" fill="#111" >23</text>
<rect x="434" y="190.5" width="62.5" height="62.5" fill="#fff" stroke="#9a9a9a" stroke-width="1"/>
<path d="M434.5,253.0 L438.6,252.9 L438.9,252.6 L439.1,252.0 L439.4,250.8 L439.6,248.5 L439.9,244.6 L440.1,238.5 L440.4,230.3 L440.6,220.3 L440.9,210.0 L441.2,201.2 L441.4,195.9 L441.7,196.2 L441.9,202.2 L442.2,210.0 L442.4,217.9 L442.7,225.3 L443.0,231.8 L443.2,237.2 L443.5,241.5 L443.7,244.8 L444.0,247.3 L444.2,249.1 L444.5,250.4 L444.8,251.3 L445.0,251.9 L445.3,252.3 L445.5,252.5 L445.8,252.7 L446.3,252.9 L450.4,253.0 L454.5,253.0 L458.6,253.0 L462.7,253.0 L466.8,253.0 L470.9,253.0 L475.0,253.0 L479.1,253.0 L483.2,253.0 L487.3,253.0 L491.4,253.0 L495.5,253.0 L496.0,253.0 L496.0,253.0 L434.5,253.0 Z" fill="#cfcfcf" stroke="none"/>
<path d="M434.5,253.0 L438.6,253.0 L441.4,252.8 L441.7,252.5 L441.9,252.0 L442.2,251.1 L442.4,249.6 L442.7,247.2 L443.0,243.8 L443.2,239.0 L443.5,232.8 L443.7,225.5 L444.0,217.5 L444.2,209.5 L444.5,202.5 L444.8,197.5 L445.0,195.1 L445.3,197.1 L445.5,202.4 L445.8,208.8 L446.0,215.5 L446.3,221.9 L446.5,227.7 L446.8,232.8 L447.1,237.2 L447.3,240.8 L447.6,242.5 L447.8,243.0 L448.1,243.5 L448.3,244.0 L448.6,244.5 L448.9,244.9 L449.1,245.3 L449.4,245.7 L449.6,246.1 L449.9,246.4 L450.1,246.8 L450.4,247.1 L450.6,247.4 L450.9,247.7 L451.2,247.9 L451.4,248.2 L451.7,248.4 L451.9,248.7 L452.2,248.9 L452.4,249.1 L452.7,249.3 L452.9,249.5 L453.2,249.7 L453.5,249.8 L453.7,250.0 L454.0,250.1 L454.5,250.4 L455.0,250.7 L455.5,250.9 L456.0,251.1 L456.5,251.3 L457.1,251.5 L457.6,251.6 L458.3,251.8 L459.1,252.0 L460.1,252.2 L461.1,252.3 L462.4,252.5 L464.2,252.6 L467.0,252.8 L471.1,252.9 L475.2,253.0 L479.3,253.0 L483.4,253.0 L487.5,253.0 L491.6,253.0 L495.7,253.0 L496.0,253.0 L496.0,253.0 L434.5,253.0 Z" fill="#a9a9a9" stroke="#3a3a3a" stroke-width="0.8"/>
<path d="M434.5,253.0 L438.6,252.9 L438.9,252.6 L439.1,252.0 L439.4,250.8 L439.6,248.5 L439.9,244.6 L440.1,238.5 L440.4,230.3 L440.6,220.3 L440.9,210.0 L441.2,201.2 L441.4,195.9 L441.7,196.2 L441.9,202.2 L442.2,210.0 L442.4,217.9 L442.7,225.3 L443.0,231.8 L443.2,237.2 L443.5,241.5 L443.7,244.8 L444.0,247.3 L444.2,249.1 L444.5,250.4 L444.8,251.3 L445.0,251.9 L445.3,252.3 L445.5,252.5 L445.8,252.7 L446.3,252.9 L450.4,253.0 L454.5,253.0 L458.6,253.0 L462.7,253.0 L466.8,253.0 L470.9,253.0 L475.0,253.0 L479.1,253.0 L483.2,253.0 L487.3,253.0 L491.4,253.0 L495.5,253.0 L496.0,253.0" fill="none" stroke="#3a3a3a" stroke-width="0.8"/>
<path d="M434,190.5 V253 H496.5" fill="none" stroke="#444" stroke-width="1"/>
<path d="M432.5,253.0h2.2 M432.5,241.0h2.2 M432.5,229.0h2.2 M432.5,217.0h2.2 M432.5,205.0h2.2 M432.5,193.0h2.2 M433.2,253.0h1.3 M433.2,250.0h1.3 M433.2,247.0h1.3 M433.2,244.0h1.3 M433.2,241.0h1.3 M433.2,238.0h1.3 M433.2,235.0h1.3 M433.2,232.0h1.3 M433.2,229.0h1.3 M433.2,226.0h1.3 M433.2,223.0h1.3 M433.2,220.0h1.3 M433.2,217.0h1.3 M433.2,214.0h1.3 M433.2,211.0h1.3 M433.2,208.0h1.3 M433.2,205.0h1.3 M433.2,202.0h1.3 M433.2,199.0h1.3 M433.2,196.0h1.3 M434.0,253v1.5 M440.2,253v1.5 M446.5,253v1.5 M452.8,253v1.5 M459.0,253v1.5 M465.2,253v1.5 M471.5,253v1.5 M477.8,253v1.5 M484.0,253v1.5 M490.2,253v1.5 M496.5,253v1.5" stroke="#888" stroke-width="0.6" fill="none"/>
<path d="M447.5,214.1 v6.6 M447.5,217.4 H496.5" stroke="#1a1a1a" stroke-width="1.8" fill="none"/>
<text x="471.6" y="214.8" font-family="Liberation Sans" font-size="14" font-weight="normal" text-anchor="middle" fill="#111" >23</text>
<rect x="293" y="264.5" width="62.5" height="62.5" fill="#fff" stroke="#9a9a9a" stroke-width="1"/>
<path d="M293.5,327.0 L294.8,326.8 L295.0,326.4 L295.3,324.9 L295.6,321.5 L295.8,314.5 L296.1,303.2 L296.3,288.9 L296.6,275.8 L296.8,269.2 L297.1,274.3 L297.3,284.9 L297.6,295.9 L297.9,305.3 L298.1,312.7 L298.4,317.9 L298.6,321.5 L298.9,323.8 L299.1,325.2 L299.4,326.0 L299.6,326.5 L299.9,326.7 L300.4,326.9 L304.5,327.0 L308.6,327.0 L312.7,327.0 L316.8,327.0 L320.9,327.0 L325.0,327.0 L329.1,327.0 L333.2,327.0 L337.3,327.0 L341.4,327.0 L345.5,327.0 L349.6,327.0 L353.7,327.0 L355.0,327.0 L355.0,327.0 L293.5,327.0 Z" fill="#cfcfcf" stroke="none"/>
<path d="M293.5,327.0 L294.8,326.8 L295.0,326.4 L295.3,324.9 L295.6,321.5 L295.8,314.5 L296.1,303.2 L296.3,288.9 L296.6,275.8 L296.8,269.2 L297.1,272.8 L297.3,280.9 L297.6,289.9 L297.9,298.3 L298.1,305.7 L298.4,306.8 L298.6,302.9 L298.9,300.4 L299.1,299.2 L299.4,298.1 L299.6,297.6 L299.9,297.8 L300.2,298.6 L300.4,299.8 L300.7,301.0 L300.9,301.8 L301.4,301.3 L301.7,300.1 L302.0,298.9 L302.2,298.2 L302.5,298.6 L302.7,299.7 L303.0,301.3 L303.2,303.0 L303.5,304.6 L303.8,305.7 L304.0,306.2 L304.5,305.7 L304.8,305.4 L305.3,305.7 L305.5,306.6 L305.8,307.9 L306.1,309.2 L306.3,310.3 L306.6,311.1 L306.8,311.3 L307.3,310.9 L307.6,310.6 L308.1,311.0 L308.4,311.8 L308.6,312.8 L308.9,313.8 L309.1,314.6 L309.4,315.0 L310.2,314.8 L310.4,314.6 L310.9,315.0 L311.2,315.7 L311.4,316.4 L311.7,317.2 L311.9,317.7 L312.2,318.0 L313.0,317.7 L313.7,318.1 L314.0,318.6 L314.3,319.1 L314.5,319.7 L314.8,320.0 L315.0,320.2 L315.8,320.0 L316.6,320.3 L316.8,320.7 L317.1,321.2 L317.3,321.5 L317.6,321.8 L319.4,322.0 L319.6,322.3 L319.9,322.7 L320.1,322.9 L320.4,323.1 L322.2,323.3 L322.5,323.5 L322.7,323.8 L323.0,324.0 L325.0,324.2 L325.3,324.4 L325.5,324.6 L326.0,324.8 L327.8,324.9 L328.4,325.2 L330.4,325.4 L330.9,325.6 L331.7,325.7 L333.7,325.9 L336.0,326.1 L336.8,326.3 L339.4,326.4 L342.4,326.6 L346.5,326.7 L350.6,326.8 L354.7,326.9 L355.0,326.9 L355.0,327.0 L293.5,327.0 Z" fill="#a9a9a9" stroke="#3a3a3a" stroke-width="0.8"/>
<path d="M293.5,327.0 L294.8,326.8 L295.0,326.4 L295.3,324.9 L295.6,321.5 L295.8,314.5 L296.1,303.2 L296.3,288.9 L296.6,275.8 L296.8,269.2 L297.1,274.3 L297.3,284.9 L297.6,295.9 L297.9,305.3 L298.1,312.7 L298.4,317.9 L298.6,321.5 L298.9,323.8 L299.1,325.2 L299.4,326.0 L299.6,326.5 L299.9,326.7 L300.4,326.9 L304.5,327.0 L308.6,327.0 L312.7,327.0 L316.8,327.0 L320.9,327.0 L325.0,327.0 L329.1,327.0 L333.2,327.0 L337.3,327.0 L341.4,327.0 L345.5,327.0 L349.6,327.0 L353.7,327.0 L355.0,327.0" fill="none" stroke="#3a3a3a" stroke-width="0.8"/>
<path d="M293,264.5 V327 H355.5" fill="none" stroke="#444" stroke-width="1"/>
<path d="M291.5,327.0h2.2 M291.5,315.0h2.2 M291.5,303.0h2.2 M291.5,291.0h2.2 M291.5,279.0h2.2 M291.5,267.0h2.2 M292.2,327.0h1.3 M292.2,324.0h1.3 M292.2,321.0h1.3 M292.2,318.0h1.3 M292.2,315.0h1.3 M292.2,312.0h1.3 M292.2,309.0h1.3 M292.2,306.0h1.3 M292.2,303.0h1.3 M292.2,300.0h1.3 M292.2,297.0h1.3 M292.2,294.0h1.3 M292.2,291.0h1.3 M292.2,288.0h1.3 M292.2,285.0h1.3 M292.2,282.0h1.3 M292.2,279.0h1.3 M292.2,276.0h1.3 M292.2,273.0h1.3 M292.2,270.0h1.3 M293.0,327v1.5 M299.2,327v1.5 M305.5,327v1.5 M311.8,327v1.5 M318.0,327v1.5 M324.2,327v1.5 M330.5,327v1.5 M336.8,327v1.5 M343.0,327v1.5 M349.2,327v1.5 M355.5,327v1.5" stroke="#888" stroke-width="0.6" fill="none"/>
<path d="M301.8,288.09999999999997 v6.6 M301.8,291.4 H355.5" stroke="#1a1a1a" stroke-width="1.8" fill="none"/>
<text x="327" y="288.79999999999995" font-family="Liberation Sans" font-size="14" font-weight="normal" text-anchor="middle" fill="#111" >52</text>
<rect x="363.5" y="264.5" width="62.5" height="62.5" fill="#fff" stroke="#9a9a9a" stroke-width="1"/>
<path d="M364.0,327.0 L365.3,326.7 L365.5,326.2 L365.8,324.9 L366.1,322.1 L366.3,317.0 L366.6,308.9 L366.8,298.1 L367.1,286.0 L367.3,275.5 L367.6,269.6 L367.8,271.7 L368.1,279.7 L368.4,289.0 L368.6,297.9 L368.9,305.6 L369.1,311.8 L369.4,316.6 L369.6,320.0 L369.9,322.5 L370.1,324.1 L370.4,325.2 L370.7,325.9 L370.9,326.4 L371.2,326.6 L371.4,326.8 L372.2,327.0 L376.3,327.0 L380.4,327.0 L384.5,327.0 L388.6,327.0 L392.7,327.0 L396.8,327.0 L400.9,327.0 L405.0,327.0 L409.1,327.0 L413.2,327.0 L417.3,327.0 L421.4,327.0 L425.5,327.0 L425.5,327.0 L364.0,327.0 Z" fill="#cfcfcf" stroke="none"/>
<path d="M364.0,327.0 L365.3,326.6 L365.5,326.0 L365.8,324.8 L366.1,322.5 L366.3,318.6 L366.6,312.5 L366.8,304.3 L367.1,294.3 L367.3,284.0 L367.6,275.2 L367.8,269.9 L368.1,270.3 L368.4,276.9 L368.6,285.2 L368.9,293.7 L369.1,301.3 L369.4,307.9 L369.6,311.0 L369.9,311.4 L370.1,311.8 L370.4,312.3 L370.7,312.7 L370.9,313.1 L371.2,313.4 L371.4,313.8 L371.7,314.2 L371.9,314.5 L372.2,314.9 L372.5,315.2 L372.7,315.5 L373.0,315.8 L373.2,316.1 L373.5,316.4 L373.7,316.7 L374.0,317.0 L374.2,317.3 L374.5,317.5 L374.8,317.8 L375.0,318.1 L375.3,318.3 L375.5,318.5 L375.8,318.8 L376.0,319.0 L376.3,319.2 L376.6,319.4 L376.8,319.6 L377.1,319.8 L377.3,320.0 L377.6,320.2 L377.8,320.4 L378.1,320.6 L378.4,320.8 L378.6,320.9 L378.9,321.1 L379.1,321.3 L379.4,321.4 L379.6,321.6 L380.1,321.9 L380.7,322.1 L381.2,322.4 L381.7,322.7 L382.2,322.9 L382.7,323.1 L383.2,323.3 L383.7,323.5 L384.2,323.7 L384.8,323.9 L385.3,324.1 L385.8,324.2 L386.3,324.4 L387.1,324.6 L387.8,324.8 L388.6,324.9 L389.4,325.1 L390.1,325.3 L391.2,325.4 L392.2,325.6 L393.5,325.8 L394.8,325.9 L396.3,326.1 L398.1,326.3 L400.4,326.4 L403.2,326.6 L407.3,326.7 L411.4,326.8 L415.5,326.9 L419.6,326.9 L423.7,327.0 L425.5,327.0 L425.5,327.0 L364.0,327.0 Z" fill="#a9a9a9" stroke="#3a3a3a" stroke-width="0.8"/>
<path d="M364.0,327.0 L365.3,326.7 L365.5,326.2 L365.8,324.9 L366.1,322.1 L366.3,317.0 L366.6,308.9 L366.8,298.1 L367.1,286.0 L367.3,275.5 L367.6,269.6 L367.8,271.7 L368.1,279.7 L368.4,289.0 L368.6,297.9 L368.9,305.6 L369.1,311.8 L369.4,316.6 L369.6,320.0 L369.9,322.5 L370.1,324.1 L370.4,325.2 L370.7,325.9 L370.9,326.4 L371.2,326.6 L371.4,326.8 L372.2,327.0 L376.3,327.0 L380.4,327.0 L384.5,327.0 L388.6,327.0 L392.7,327.0 L396.8,327.0 L400.9,327.0 L405.0,327.0 L409.1,327.0 L413.2,327.0 L417.3,327.0 L421.4,327.0 L425.5,327.0" fill="none" stroke="#3a3a3a" stroke-width="0.8"/>
<path d="M363.5,264.5 V327 H426" fill="none" stroke="#444" stroke-width="1"/>
<path d="M362.0,327.0h2.2 M362.0,315.0h2.2 M362.0,303.0h2.2 M362.0,291.0h2.2 M362.0,279.0h2.2 M362.0,267.0h2.2 M362.7,327.0h1.3 M362.7,324.0h1.3 M362.7,321.0h1.3 M362.7,318.0h1.3 M362.7,315.0h1.3 M362.7,312.0h1.3 M362.7,309.0h1.3 M362.7,306.0h1.3 M362.7,303.0h1.3 M362.7,300.0h1.3 M362.7,297.0h1.3 M362.7,294.0h1.3 M362.7,291.0h1.3 M362.7,288.0h1.3 M362.7,285.0h1.3 M362.7,282.0h1.3 M362.7,279.0h1.3 M362.7,276.0h1.3 M362.7,273.0h1.3 M362.7,270.0h1.3 M363.5,327v1.5 M369.8,327v1.5 M376.0,327v1.5 M382.2,327v1.5 M388.5,327v1.5 M394.8,327v1.5 M401.0,327v1.5 M407.2,327v1.5 M413.5,327v1.5 M419.8,327v1.5 M426.0,327v1.5" stroke="#888" stroke-width="0.6" fill="none"/>
<path d="M372.5,288.09999999999997 v6.6 M372.5,291.4 H426" stroke="#1a1a1a" stroke-width="1.8" fill="none"/>
<text x="397.5" y="288.79999999999995" font-family="Liberation Sans" font-size="14" font-weight="normal" text-anchor="middle" fill="#111" >49</text>
<rect x="434" y="264.5" width="62.5" height="62.5" fill="#fff" stroke="#9a9a9a" stroke-width="1"/>
<path d="M434.5,327.0 L438.3,326.8 L438.6,326.5 L438.9,325.8 L439.1,324.5 L439.4,321.9 L439.6,317.5 L439.9,311.1 L440.1,302.4 L440.4,292.2 L440.6,282.1 L440.9,273.8 L441.2,269.4 L441.4,271.1 L441.7,277.7 L441.9,285.6 L442.2,293.5 L442.4,300.7 L442.7,307.0 L443.0,312.1 L443.2,316.2 L443.5,319.3 L443.7,321.7 L444.0,323.4 L444.2,324.6 L444.5,325.4 L444.8,326.0 L445.0,326.3 L445.3,326.6 L445.5,326.7 L446.0,326.9 L450.1,327.0 L454.2,327.0 L458.3,327.0 L462.4,327.0 L466.5,327.0 L470.6,327.0 L474.7,327.0 L478.8,327.0 L482.9,327.0 L487.0,327.0 L491.1,327.0 L495.2,327.0 L496.0,327.0 L496.0,327.0 L434.5,327.0 Z" fill="#cfcfcf" stroke="none"/>
<path d="M434.5,327.0 L438.6,327.0 L440.6,326.8 L440.9,326.5 L441.2,326.1 L441.4,325.2 L441.7,323.8 L441.9,321.6 L442.2,318.2 L442.4,313.6 L442.7,307.6 L443.0,300.4 L443.2,292.5 L443.5,284.4 L443.7,277.3 L444.0,272.0 L444.2,269.2 L444.5,270.6 L444.8,275.7 L445.0,282.0 L445.3,288.7 L445.5,295.1 L445.8,301.0 L446.0,306.3 L446.3,310.7 L446.5,313.4 L446.8,314.0 L447.1,314.6 L447.3,315.1 L447.6,315.7 L447.8,316.2 L448.1,316.7 L448.3,317.1 L448.6,317.6 L448.9,318.0 L449.1,318.4 L449.4,318.8 L449.6,319.2 L449.9,319.5 L450.1,319.9 L450.4,320.2 L450.6,320.5 L450.9,320.8 L451.2,321.1 L451.4,321.3 L451.7,321.6 L451.9,321.8 L452.2,322.1 L452.4,322.3 L452.7,322.5 L452.9,322.7 L453.2,322.9 L453.5,323.1 L453.7,323.3 L454.0,323.4 L454.2,323.6 L454.5,323.8 L455.0,324.0 L455.5,324.3 L456.0,324.5 L456.5,324.8 L457.1,325.0 L457.6,325.1 L458.1,325.3 L458.6,325.5 L459.4,325.7 L460.1,325.8 L460.9,326.0 L461.9,326.2 L463.2,326.3 L464.7,326.5 L466.8,326.6 L470.1,326.8 L474.2,326.9 L478.3,327.0 L482.4,327.0 L486.5,327.0 L490.6,327.0 L494.7,327.0 L496.0,327.0 L496.0,327.0 L434.5,327.0 Z" fill="#a9a9a9" stroke="#3a3a3a" stroke-width="0.8"/>
<path d="M434.5,327.0 L438.3,326.8 L438.6,326.5 L438.9,325.8 L439.1,324.5 L439.4,321.9 L439.6,317.5 L439.9,311.1 L440.1,302.4 L440.4,292.2 L440.6,282.1 L440.9,273.8 L441.2,269.4 L441.4,271.1 L441.7,277.7 L441.9,285.6 L442.2,293.5 L442.4,300.7 L442.7,307.0 L443.0,312.1 L443.2,316.2 L443.5,319.3 L443.7,321.7 L444.0,323.4 L444.2,324.6 L444.5,325.4 L444.8,326.0 L445.0,326.3 L445.3,326.6 L445.5,326.7 L446.0,326.9 L450.1,327.0 L454.2,327.0 L458.3,327.0 L462.4,327.0 L466.5,327.0 L470.6,327.0 L474.7,327.0 L478.8,327.0 L482.9,327.0 L487.0,327.0 L491.1,327.0 L495.2,327.0 L496.0,327.0" fill="none" stroke="#3a3a3a" stroke-width="0.8"/>
<path d="M434,264.5 V327 H496.5" fill="none" stroke="#444" stroke-width="1"/>
<path d="M432.5,327.0h2.2 M432.5,315.0h2.2 M432.5,303.0h2.2 M432.5,291.0h2.2 M432.5,279.0h2.2 M432.5,267.0h2.2 M433.2,327.0h1.3 M433.2,324.0h1.3 M433.2,321.0h1.3 M433.2,318.0h1.3 M433.2,315.0h1.3 M433.2,312.0h1.3 M433.2,309.0h1.3 M433.2,306.0h1.3 M433.2,303.0h1.3 M433.2,300.0h1.3 M433.2,297.0h1.3 M433.2,294.0h1.3 M433.2,291.0h1.3 M433.2,288.0h1.3 M433.2,285.0h1.3 M433.2,282.0h1.3 M433.2,279.0h1.3 M433.2,276.0h1.3 M433.2,273.0h1.3 M433.2,270.0h1.3 M434.0,327v1.5 M440.2,327v1.5 M446.5,327v1.5 M452.8,327v1.5 M459.0,327v1.5 M465.2,327v1.5 M471.5,327v1.5 M477.8,327v1.5 M484.0,327v1.5 M490.2,327v1.5 M496.5,327v1.5" stroke="#888" stroke-width="0.6" fill="none"/>
<path d="M447.5,288.09999999999997 v6.6 M447.5,291.4 H496.5" stroke="#1a1a1a" stroke-width="1.8" fill="none"/>
<text x="472" y="288.79999999999995" font-family="Liberation Sans" font-size="14" font-weight="normal" text-anchor="middle" fill="#111" >24</text>
<line x1="513.3" y1="42.4" x2="513.3" y2="154.4" stroke="#111" stroke-width="2"/>
<line x1="513.3" y1="214.4" x2="513.3" y2="328" stroke="#111" stroke-width="2"/>
<text x="0" y="0" transform="translate(517.6,183) rotate(-90)" font-family="Liberation Sans" font-size="14" font-weight="bold" text-anchor="middle" fill="#111"># Cells</text>
<line x1="292.6" y1="346.2" x2="337.4" y2="346.2" stroke="#111" stroke-width="2"/>
<line x1="449" y1="346.2" x2="496.5" y2="346.2" stroke="#111" stroke-width="2"/>
<text x="394.3" y="350.9" font-family="Liberation Sans" font-size="14" font-weight="bold" text-anchor="middle" fill="#111" >p21 expression</text>
<text x="0.2" y="382.5" font-family="Liberation Sans" font-size="17.6" font-weight="bold" text-anchor="start" fill="#111" >B</text>
<text x="127.3" y="388.4" font-family="Liberation Sans" font-size="14" font-weight="bold" text-anchor="middle" fill="#111" >Isotype</text>
<text x="126.5" y="402.3" font-family="Liberation Sans" font-size="14" font-weight="bold" text-anchor="middle" fill="#111" >control</text>
<text x="200" y="402.3" font-family="Liberation Sans" font-size="14" font-weight="bold" text-anchor="middle" fill="#111" >Anti-p21</text>
<text x="7.3" y="448.6" font-family="Liberation Sans" font-size="17.4" font-weight="bold" text-anchor="start" fill="#111" >MK-0457</text>
<text x="7.3" y="513.5" font-family="Liberation Sans" font-size="17.4" font-weight="bold" text-anchor="start" fill="#111" >Nutlin</text>
<text x="7.3" y="531.2" font-family="Liberation Sans" font-size="17.4" font-weight="bold" text-anchor="start" fill="#111" >+MK</text>
<rect x="94.5" y="410.5" width="63" height="63" fill="#fff" stroke="#c2c2c2" stroke-width="1"/>
<path d="M94.5,410.5 V473.5 H157.5" fill="none" stroke="#b4b4b4" stroke-width="1"/>
<path d="M93.0,473.5h2.2 M93.0,461.4h2.2 M93.0,449.3h2.2 M93.0,437.2h2.2 M93.0,425.1h2.2 M93.0,413.0h2.2 M93.7,473.5h1.3 M93.7,470.5h1.3 M93.7,467.5h1.3 M93.7,464.4h1.3 M93.7,461.4h1.3 M93.7,458.4h1.3 M93.7,455.4h1.3 M93.7,452.3h1.3 M93.7,449.3h1.3 M93.7,446.3h1.3 M93.7,443.3h1.3 M93.7,440.2h1.3 M93.7,437.2h1.3 M93.7,434.2h1.3 M93.7,431.2h1.3 M93.7,428.1h1.3 M93.7,425.1h1.3 M93.7,422.1h1.3 M93.7,419.1h1.3 M93.7,416.0h1.3 M94.5,473.5v1.5 M100.8,473.5v1.5 M107.1,473.5v1.5 M113.4,473.5v1.5 M119.7,473.5v1.5 M126.0,473.5v1.5 M132.3,473.5v1.5 M138.6,473.5v1.5 M144.9,473.5v1.5 M151.2,473.5v1.5 M157.5,473.5v1.5" stroke="#a8a8a8" stroke-width="0.6" fill="none"/>
<text x="92.3" y="474.8" font-family="Liberation Sans" font-size="3.3" font-weight="bold" fill="#606060" text-anchor="end" letter-spacing="-0.15">0</text>
<text x="92.3" y="462.7" font-family="Liberation Sans" font-size="3.3" font-weight="bold" fill="#606060" text-anchor="end" letter-spacing="-0.15">200</text>
<text x="92.3" y="450.6" font-family="Liberation Sans" font-size="3.3" font-weight="bold" fill="#606060" text-anchor="end" letter-spacing="-0.15">400</text>
<text x="92.3" y="438.5" font-family="Liberation Sans" font-size="3.3" font-weight="bold" fill="#606060" text-anchor="end" letter-spacing="-0.15">600</text>
<text x="92.3" y="426.4" font-family="Liberation Sans" font-size="3.3" font-weight="bold" fill="#606060" text-anchor="end" letter-spacing="-0.15">800</text>
<text x="92.3" y="414.3" font-family="Liberation Sans" font-size="3.3" font-weight="bold" fill="#606060" text-anchor="end" letter-spacing="-0.15">1000</text>
<rect x="168" y="410.5" width="63" height="63" fill="#fff" stroke="#c2c2c2" stroke-width="1"/>
<path d="M168,410.5 V473.5 H231" fill="none" stroke="#b4b4b4" stroke-width="1"/>
<path d="M166.5,473.5h2.2 M166.5,461.4h2.2 M166.5,449.3h2.2 M166.5,437.2h2.2 M166.5,425.1h2.2 M166.5,413.0h2.2 M167.2,473.5h1.3 M167.2,470.5h1.3 M167.2,467.5h1.3 M167.2,464.4h1.3 M167.2,461.4h1.3 M167.2,458.4h1.3 M167.2,455.4h1.3 M167.2,452.3h1.3 M167.2,449.3h1.3 M167.2,446.3h1.3 M167.2,443.3h1.3 M167.2,440.2h1.3 M167.2,437.2h1.3 M167.2,434.2h1.3 M167.2,431.2h1.3 M167.2,428.1h1.3 M167.2,425.1h1.3 M167.2,422.1h1.3 M167.2,419.1h1.3 M167.2,416.0h1.3 M168.0,473.5v1.5 M174.3,473.5v1.5 M180.6,473.5v1.5 M186.9,473.5v1.5 M193.2,473.5v1.5 M199.5,473.5v1.5 M205.8,473.5v1.5 M212.1,473.5v1.5 M218.4,473.5v1.5 M224.7,473.5v1.5 M231.0,473.5v1.5" stroke="#a8a8a8" stroke-width="0.6" fill="none"/>
<rect x="94.5" y="484.5" width="63" height="63" fill="#fff" stroke="#c2c2c2" stroke-width="1"/>
<path d="M94.5,484.5 V547.5 H157.5" fill="none" stroke="#b4b4b4" stroke-width="1"/>
<path d="M93.0,547.5h2.2 M93.0,535.4h2.2 M93.0,523.3h2.2 M93.0,511.2h2.2 M93.0,499.1h2.2 M93.0,487.0h2.2 M93.7,547.5h1.3 M93.7,544.5h1.3 M93.7,541.5h1.3 M93.7,538.4h1.3 M93.7,535.4h1.3 M93.7,532.4h1.3 M93.7,529.4h1.3 M93.7,526.3h1.3 M93.7,523.3h1.3 M93.7,520.3h1.3 M93.7,517.3h1.3 M93.7,514.2h1.3 M93.7,511.2h1.3 M93.7,508.2h1.3 M93.7,505.2h1.3 M93.7,502.1h1.3 M93.7,499.1h1.3 M93.7,496.1h1.3 M93.7,493.1h1.3 M93.7,490.0h1.3 M94.5,547.5v1.5 M100.8,547.5v1.5 M107.1,547.5v1.5 M113.4,547.5v1.5 M119.7,547.5v1.5 M126.0,547.5v1.5 M132.3,547.5v1.5 M138.6,547.5v1.5 M144.9,547.5v1.5 M151.2,547.5v1.5 M157.5,547.5v1.5" stroke="#a8a8a8" stroke-width="0.6" fill="none"/>
<text x="92.3" y="548.8" font-family="Liberation Sans" font-size="3.3" font-weight="bold" fill="#606060" text-anchor="end" letter-spacing="-0.15">0</text>
<text x="92.3" y="536.7" font-family="Liberation Sans" font-size="3.3" font-weight="bold" fill="#606060" text-anchor="end" letter-spacing="-0.15">200</text>
<text x="92.3" y="524.6" font-family="Liberation Sans" font-size="3.3" font-weight="bold" fill="#606060" text-anchor="end" letter-spacing="-0.15">400</text>
<text x="92.3" y="512.5" font-family="Liberation Sans" font-size="3.3" font-weight="bold" fill="#606060" text-anchor="end" letter-spacing="-0.15">600</text>
<text x="92.3" y="500.4" font-family="Liberation Sans" font-size="3.3" font-weight="bold" fill="#606060" text-anchor="end" letter-spacing="-0.15">800</text>
<text x="92.3" y="488.3" font-family="Liberation Sans" font-size="3.3" font-weight="bold" fill="#606060" text-anchor="end" letter-spacing="-0.15">1000</text>
<rect x="168" y="484.5" width="63" height="63" fill="#fff" stroke="#c2c2c2" stroke-width="1"/>
<path d="M168,484.5 V547.5 H231" fill="none" stroke="#b4b4b4" stroke-width="1"/>
<path d="M166.5,547.5h2.2 M166.5,535.4h2.2 M166.5,523.3h2.2 M166.5,511.2h2.2 M166.5,499.1h2.2 M166.5,487.0h2.2 M167.2,547.5h1.3 M167.2,544.5h1.3 M167.2,541.5h1.3 M167.2,538.4h1.3 M167.2,535.4h1.3 M167.2,532.4h1.3 M167.2,529.4h1.3 M167.2,526.3h1.3 M167.2,523.3h1.3 M167.2,520.3h1.3 M167.2,517.3h1.3 M167.2,514.2h1.3 M167.2,511.2h1.3 M167.2,508.2h1.3 M167.2,505.2h1.3 M167.2,502.1h1.3 M167.2,499.1h1.3 M167.2,496.1h1.3 M167.2,493.1h1.3 M167.2,490.0h1.3 M168.0,547.5v1.5 M174.3,547.5v1.5 M180.6,547.5v1.5 M186.9,547.5v1.5 M193.2,547.5v1.5 M199.5,547.5v1.5 M205.8,547.5v1.5 M212.1,547.5v1.5 M218.4,547.5v1.5 M224.7,547.5v1.5 M231.0,547.5v1.5" stroke="#a8a8a8" stroke-width="0.6" fill="none"/>
<g filter="url(#bl)">
<ellipse cx="118" cy="462" rx="20" ry="6" fill="#a9acee" opacity="0.14" filter="url(#bh)"/>
<path d="M96.0,471.0 L104.0,468.6 L112.0,466.6 L120.0,464.9 L130.0,463.3 L142.5,461.2" fill="none" stroke="#a9acee" stroke-width="5.5" stroke-linecap="round" stroke-linejoin="round" opacity="0.35"/>
<path d="M96.0,471.0 L104.0,468.6 L112.0,466.6 L120.0,464.9 L130.0,463.3 L142.5,461.2" fill="none" stroke="#2a3ec8" stroke-width="3.4" stroke-linecap="round" stroke-linejoin="round" opacity="1"/>
<path d="M96.0,471.0 L104.0,468.6 L112.0,466.6 L120.0,464.9 L130.0,463.3 L142.5,461.2" fill="none" stroke="#3f6fe0" stroke-width="2.1" stroke-linecap="round" stroke-linejoin="round" opacity="1"/>
<path d="M96.0,471.0 L104.0,468.6 L112.0,466.6 L120.0,464.9 L130.0,463.3 L142.5,461.2" fill="none" stroke="#48a8e8" stroke-width="1" stroke-linecap="round" stroke-linejoin="round" opacity="1"/>
<path d="M104.0,467.6 L118.0,464.8" fill="none" stroke="#70d860" stroke-width="1.3" stroke-linecap="round" stroke-linejoin="round" opacity="1"/>
<path d="M96.20,461 L97.80,461 L98.50,470 L95.50,470 Z" fill="url(#g17)"/>
<ellipse cx="192" cy="460" rx="22" ry="8" fill="#a9acee" opacity="0.14" filter="url(#bh)"/>
<path d="M182.00,442 L183.00,442 L183.40,459 L181.60,459 Z" fill="url(#g18)"/>
<path d="M170.50,462 L172.50,462 L173.20,470 L169.80,470 Z" fill="url(#g19)"/>
<path d="M181.30,458.5 L183.70,458.5 L184.50,467 L180.50,467 Z" fill="url(#g20)"/>
<path d="M193.10,458.5 L195.50,458.5 L196.30,466 L192.30,466 Z" fill="url(#g21)"/>
<path d="M169.0,471.5 L172.0,469.0 L176.0,469.2 L180.0,467.8 L183.0,466.5 L190.0,466.2 L195.0,464.8 L200.0,464.5 L206.0,463.0 L212.0,461.6 L216.0,460.0" fill="none" stroke="#a9acee" stroke-width="6" stroke-linecap="round" stroke-linejoin="round" opacity="0.35"/>
<path d="M169.0,471.5 L172.0,469.0 L176.0,469.2 L180.0,467.8 L183.0,466.5 L190.0,466.2 L195.0,464.8 L200.0,464.5 L206.0,463.0 L212.0,461.6 L216.0,460.0" fill="none" stroke="#2a3ec8" stroke-width="3.8" stroke-linecap="round" stroke-linejoin="round" opacity="1"/>
<path d="M169.0,471.5 L172.0,469.0 L176.0,469.2 L180.0,467.8 L183.0,466.5 L190.0,466.2 L195.0,464.8 L200.0,464.5 L206.0,463.0 L212.0,461.6 L216.0,460.0" fill="none" stroke="#3f6fe0" stroke-width="2.4" stroke-linecap="round" stroke-linejoin="round" opacity="1"/>
<path d="M169.0,471.5 L172.0,469.0 L176.0,469.2 L180.0,467.8 L183.0,466.5 L190.0,466.2 L195.0,464.8 L200.0,464.5 L206.0,463.0 L212.0,461.6 L216.0,460.0" fill="none" stroke="#48a8e8" stroke-width="1.2" stroke-linecap="round" stroke-linejoin="round" opacity="1"/>
<path d="M178.0,468.0 L186.0,466.5 L193.0,465.6" fill="none" stroke="#70d860" stroke-width="1.4" stroke-linecap="round" stroke-linejoin="round" opacity="1"/>
<ellipse cx="118" cy="537" rx="20" ry="6" fill="#a9acee" opacity="0.12" filter="url(#bh)"/>
<path d="M96.0,545.0 L104.0,542.6 L112.0,540.6 L120.0,538.9 L130.0,537.3 L142.5,535.3" fill="none" stroke="#a9acee" stroke-width="5.5" stroke-linecap="round" stroke-linejoin="round" opacity="0.35"/>
<path d="M96.0,545.0 L104.0,542.6 L112.0,540.6 L120.0,538.9 L130.0,537.3 L142.5,535.3" fill="none" stroke="#2a3ec8" stroke-width="3.4" stroke-linecap="round" stroke-linejoin="round" opacity="1"/>
<path d="M96.0,545.0 L104.0,542.6 L112.0,540.6 L120.0,538.9 L130.0,537.3 L142.5,535.3" fill="none" stroke="#3f6fe0" stroke-width="2.1" stroke-linecap="round" stroke-linejoin="round" opacity="1"/>
<path d="M96.0,545.0 L104.0,542.6 L112.0,540.6 L120.0,538.9 L130.0,537.3 L142.5,535.3" fill="none" stroke="#48a8e8" stroke-width="1" stroke-linecap="round" stroke-linejoin="round" opacity="1"/>
<path d="M104.0,541.5 L118.0,538.2" fill="none" stroke="#70d860" stroke-width="1.3" stroke-linecap="round" stroke-linejoin="round" opacity="1"/>
<path d="M96.20,539 L97.80,539 L98.50,544 L95.50,544 Z" fill="url(#g22)"/>
<ellipse cx="190" cy="522" rx="16" ry="20" fill="#a9acee" opacity="0.12" filter="url(#bh)"/>
<path d="M182.10,491 L183.90,491 L184.50,513 L181.50,513 Z" fill="url(#g23)"/>
<path d="M181.50,511 L184.50,511 L185.10,543 L180.90,543 Z" fill="url(#g24)"/>
<path d="M173.20,527 L175.20,527 L175.90,546 L172.50,546 Z" fill="url(#g25)"/>
<path d="M193.40,525 L195.80,525 L196.60,539 L192.60,539 Z" fill="url(#g26)"/>
<path d="M169.0,546.5 L176.0,544.5 L183.0,542.6 L190.0,540.8 L197.0,538.8 L205.0,536.8 L216.0,534.6" fill="none" stroke="#a9acee" stroke-width="6" stroke-linecap="round" stroke-linejoin="round" opacity="0.35"/>
<path d="M169.0,546.5 L176.0,544.5 L183.0,542.6 L190.0,540.8 L197.0,538.8 L205.0,536.8 L216.0,534.6" fill="none" stroke="#2a3ec8" stroke-width="3.8" stroke-linecap="round" stroke-linejoin="round" opacity="1"/>
<path d="M169.0,546.5 L176.0,544.5 L183.0,542.6 L190.0,540.8 L197.0,538.8 L205.0,536.8 L216.0,534.6" fill="none" stroke="#3f6fe0" stroke-width="2.4" stroke-linecap="round" stroke-linejoin="round" opacity="1"/>
<path d="M169.0,546.5 L176.0,544.5 L183.0,542.6 L190.0,540.8 L197.0,538.8 L205.0,536.8 L216.0,534.6" fill="none" stroke="#48a8e8" stroke-width="1.2" stroke-linecap="round" stroke-linejoin="round" opacity="1"/>
<path d="M179.0,543.4 L186.0,541.6" fill="none" stroke="#70d860" stroke-width="1.6" stroke-linecap="round" stroke-linejoin="round" opacity="1"/>
<circle cx="182" cy="542.4" r="1.3" fill="#e8b030"/>
</g>
<rect x="193.2" y="462.3" width="0.9" height="0.9" fill="#7880dc" opacity="0.45"/>
<rect x="190.7" y="456.5" width="0.9" height="0.9" fill="#7880dc" opacity="0.45"/>
<rect x="199.7" y="446.1" width="0.9" height="0.9" fill="#7880dc" opacity="0.45"/>
<rect x="203.1" y="456.2" width="0.9" height="0.9" fill="#7880dc" opacity="0.45"/>
<rect x="172.5" y="455.4" width="0.9" height="0.9" fill="#7880dc" opacity="0.45"/>
<rect x="164.3" y="445.7" width="0.9" height="0.9" fill="#7880dc" opacity="0.45"/>
<rect x="185.4" y="453.3" width="0.9" height="0.9" fill="#7880dc" opacity="0.45"/>
<rect x="200.3" y="452.7" width="0.9" height="0.9" fill="#7880dc" opacity="0.45"/>
<rect x="171.9" y="452.3" width="0.9" height="0.9" fill="#7880dc" opacity="0.45"/>
<rect x="214.0" y="458.2" width="0.9" height="0.9" fill="#7880dc" opacity="0.45"/>
<rect x="181.4" y="452.1" width="0.9" height="0.9" fill="#7880dc" opacity="0.45"/>
<rect x="174.6" y="457.0" width="0.9" height="0.9" fill="#7880dc" opacity="0.45"/>
<rect x="196.0" y="464.9" width="0.9" height="0.9" fill="#7880dc" opacity="0.45"/>
<rect x="206.0" y="459.6" width="0.9" height="0.9" fill="#7880dc" opacity="0.45"/>
<rect x="180.8" y="452.8" width="0.9" height="0.9" fill="#7880dc" opacity="0.45"/>
<rect x="157.6" y="451.9" width="0.9" height="0.9" fill="#7880dc" opacity="0.45"/>
<rect x="195.9" y="456.0" width="0.9" height="0.9" fill="#7880dc" opacity="0.45"/>
<rect x="195.1" y="449.9" width="0.9" height="0.9" fill="#7880dc" opacity="0.45"/>
<rect x="202.6" y="459.8" width="0.9" height="0.9" fill="#7880dc" opacity="0.45"/>
<rect x="190.6" y="460.4" width="0.9" height="0.9" fill="#7880dc" opacity="0.45"/>
<rect x="158.7" y="454.7" width="0.9" height="0.9" fill="#7880dc" opacity="0.45"/>
<rect x="177.4" y="468.9" width="0.9" height="0.9" fill="#7880dc" opacity="0.45"/>
<rect x="187.4" y="455.0" width="0.9" height="0.9" fill="#7880dc" opacity="0.45"/>
<rect x="201.9" y="451.7" width="0.9" height="0.9" fill="#7880dc" opacity="0.45"/>
<rect x="209.9" y="453.8" width="0.9" height="0.9" fill="#7880dc" opacity="0.45"/>
<rect x="189.2" y="452.5" width="0.9" height="0.9" fill="#7880dc" opacity="0.45"/>
<rect x="201.3" y="445.0" width="0.9" height="0.9" fill="#7880dc" opacity="0.45"/>
<rect x="199.7" y="453.1" width="0.9" height="0.9" fill="#7880dc" opacity="0.45"/>
<rect x="182.9" y="439.1" width="0.9" height="0.9" fill="#7880dc" opacity="0.45"/>
<rect x="183.1" y="447.1" width="0.9" height="0.9" fill="#7880dc" opacity="0.45"/>
<rect x="183.7" y="447.9" width="0.9" height="0.9" fill="#7880dc" opacity="0.45"/>
<rect x="183.7" y="452.0" width="0.9" height="0.9" fill="#7880dc" opacity="0.45"/>
<rect x="182.2" y="438.9" width="0.9" height="0.9" fill="#7880dc" opacity="0.45"/>
<rect x="180.9" y="450.1" width="0.9" height="0.9" fill="#7880dc" opacity="0.45"/>
<rect x="182.2" y="452.3" width="0.9" height="0.9" fill="#7880dc" opacity="0.45"/>
<rect x="182.9" y="439.9" width="0.9" height="0.9" fill="#7880dc" opacity="0.45"/>
<rect x="184.2" y="457.7" width="0.9" height="0.9" fill="#7880dc" opacity="0.45"/>
<rect x="182.5" y="440.4" width="0.9" height="0.9" fill="#7880dc" opacity="0.45"/>
<rect x="106.2" y="465.6" width="0.9" height="0.9" fill="#7880dc" opacity="0.3"/>
<rect x="109.8" y="460.4" width="0.9" height="0.9" fill="#7880dc" opacity="0.3"/>
<rect x="127.6" y="462.0" width="0.9" height="0.9" fill="#7880dc" opacity="0.3"/>
<rect x="119.6" y="459.8" width="0.9" height="0.9" fill="#7880dc" opacity="0.3"/>
<rect x="109.1" y="462.7" width="0.9" height="0.9" fill="#7880dc" opacity="0.3"/>
<rect x="120.2" y="464.4" width="0.9" height="0.9" fill="#7880dc" opacity="0.3"/>
<rect x="111.0" y="463.4" width="0.9" height="0.9" fill="#7880dc" opacity="0.3"/>
<rect x="124.7" y="462.3" width="0.9" height="0.9" fill="#7880dc" opacity="0.3"/>
<rect x="126.0" y="466.0" width="0.9" height="0.9" fill="#7880dc" opacity="0.3"/>
<rect x="120.8" y="462.3" width="0.9" height="0.9" fill="#7880dc" opacity="0.3"/>
<rect x="104.4" y="463.3" width="0.9" height="0.9" fill="#7880dc" opacity="0.3"/>
<rect x="116.7" y="460.8" width="0.9" height="0.9" fill="#7880dc" opacity="0.3"/>
<rect x="106.4" y="464.3" width="0.9" height="0.9" fill="#7880dc" opacity="0.3"/>
<rect x="153.8" y="463.7" width="0.9" height="0.9" fill="#7880dc" opacity="0.3"/>
<rect x="182.9" y="509.4" width="0.9" height="0.9" fill="#7880dc" opacity="0.45"/>
<rect x="181.9" y="506.0" width="0.9" height="0.9" fill="#7880dc" opacity="0.45"/>
<rect x="181.7" y="498.6" width="0.9" height="0.9" fill="#7880dc" opacity="0.45"/>
<rect x="183.2" y="507.3" width="0.9" height="0.9" fill="#7880dc" opacity="0.45"/>
<rect x="182.6" y="497.1" width="0.9" height="0.9" fill="#7880dc" opacity="0.45"/>
<rect x="183.2" y="494.1" width="0.9" height="0.9" fill="#7880dc" opacity="0.45"/>
<rect x="184.0" y="501.5" width="0.9" height="0.9" fill="#7880dc" opacity="0.45"/>
<rect x="182.8" y="512.9" width="0.9" height="0.9" fill="#7880dc" opacity="0.45"/>
<rect x="183.7" y="492.1" width="0.9" height="0.9" fill="#7880dc" opacity="0.45"/>
<rect x="182.4" y="508.7" width="0.9" height="0.9" fill="#7880dc" opacity="0.45"/>
<rect x="181.1" y="481.0" width="0.9" height="0.9" fill="#7880dc" opacity="0.45"/>
<rect x="182.7" y="504.5" width="0.9" height="0.9" fill="#7880dc" opacity="0.45"/>
<rect x="183.5" y="505.8" width="0.9" height="0.9" fill="#7880dc" opacity="0.45"/>
<rect x="183.0" y="507.4" width="0.9" height="0.9" fill="#7880dc" opacity="0.45"/>
<rect x="185.0" y="509.8" width="0.9" height="0.9" fill="#7880dc" opacity="0.45"/>
<rect x="183.7" y="501.1" width="0.9" height="0.9" fill="#7880dc" opacity="0.45"/>
<rect x="184.6" y="503.1" width="0.9" height="0.9" fill="#7880dc" opacity="0.45"/>
<rect x="184.0" y="483.9" width="0.9" height="0.9" fill="#7880dc" opacity="0.45"/>
<rect x="173.3" y="527.4" width="0.9" height="0.9" fill="#7880dc" opacity="0.45"/>
<rect x="172.4" y="535.7" width="0.9" height="0.9" fill="#7880dc" opacity="0.45"/>
<rect x="173.6" y="527.2" width="0.9" height="0.9" fill="#7880dc" opacity="0.45"/>
<rect x="172.3" y="539.3" width="0.9" height="0.9" fill="#7880dc" opacity="0.45"/>
<rect x="174.0" y="531.9" width="0.9" height="0.9" fill="#7880dc" opacity="0.45"/>
<rect x="171.9" y="535.8" width="0.9" height="0.9" fill="#7880dc" opacity="0.45"/>
<rect x="173.8" y="526.4" width="0.9" height="0.9" fill="#7880dc" opacity="0.45"/>
<rect x="172.9" y="518.3" width="0.9" height="0.9" fill="#7880dc" opacity="0.45"/>
<rect x="194.8" y="523.5" width="0.9" height="0.9" fill="#7880dc" opacity="0.45"/>
<rect x="195.1" y="527.4" width="0.9" height="0.9" fill="#7880dc" opacity="0.45"/>
<rect x="192.8" y="532.2" width="0.9" height="0.9" fill="#7880dc" opacity="0.45"/>
<rect x="194.1" y="523.2" width="0.9" height="0.9" fill="#7880dc" opacity="0.45"/>
<rect x="193.7" y="533.6" width="0.9" height="0.9" fill="#7880dc" opacity="0.45"/>
<rect x="193.4" y="522.0" width="0.9" height="0.9" fill="#7880dc" opacity="0.45"/>
<rect x="193.4" y="524.2" width="0.9" height="0.9" fill="#7880dc" opacity="0.45"/>
<rect x="192.9" y="530.3" width="0.9" height="0.9" fill="#7880dc" opacity="0.45"/>
<rect x="194.4" y="535.2" width="0.9" height="0.9" fill="#7880dc" opacity="0.45"/>
<rect x="175.2" y="537.4" width="0.9" height="0.9" fill="#7880dc" opacity="0.45"/>
<rect x="192.6" y="534.4" width="0.9" height="0.9" fill="#7880dc" opacity="0.45"/>
<rect x="196.9" y="543.7" width="0.9" height="0.9" fill="#7880dc" opacity="0.45"/>
<rect x="179.6" y="529.6" width="0.9" height="0.9" fill="#7880dc" opacity="0.45"/>
<rect x="204.1" y="532.9" width="0.9" height="0.9" fill="#7880dc" opacity="0.45"/>
<rect x="210.5" y="532.1" width="0.9" height="0.9" fill="#7880dc" opacity="0.45"/>
<rect x="189.2" y="539.3" width="0.9" height="0.9" fill="#7880dc" opacity="0.45"/>
<rect x="205.9" y="537.8" width="0.9" height="0.9" fill="#7880dc" opacity="0.45"/>
<rect x="200.4" y="535.5" width="0.9" height="0.9" fill="#7880dc" opacity="0.45"/>
<rect x="189.7" y="535.2" width="0.9" height="0.9" fill="#7880dc" opacity="0.45"/>
<rect x="210.2" y="538.8" width="0.9" height="0.9" fill="#7880dc" opacity="0.45"/>
<rect x="195.2" y="537.3" width="0.9" height="0.9" fill="#7880dc" opacity="0.45"/>
<rect x="204.9" y="540.7" width="0.9" height="0.9" fill="#7880dc" opacity="0.45"/>
<rect x="193.4" y="535.7" width="0.9" height="0.9" fill="#7880dc" opacity="0.45"/>
<rect x="198.9" y="546.4" width="0.9" height="0.9" fill="#7880dc" opacity="0.45"/>
<rect x="197.9" y="541.1" width="0.9" height="0.9" fill="#7880dc" opacity="0.45"/>
<rect x="176.7" y="539.4" width="0.9" height="0.9" fill="#7880dc" opacity="0.45"/>
<rect x="178.2" y="531.7" width="0.9" height="0.9" fill="#7880dc" opacity="0.45"/>
<rect x="187.4" y="535.4" width="0.9" height="0.9" fill="#7880dc" opacity="0.45"/>
<rect x="120.5" y="537.5" width="0.9" height="0.9" fill="#7880dc" opacity="0.3"/>
<rect x="121.1" y="534.3" width="0.9" height="0.9" fill="#7880dc" opacity="0.3"/>
<rect x="154.1" y="537.6" width="0.9" height="0.9" fill="#7880dc" opacity="0.3"/>
<rect x="127.3" y="544.0" width="0.9" height="0.9" fill="#7880dc" opacity="0.3"/>
<rect x="131.4" y="538.3" width="0.9" height="0.9" fill="#7880dc" opacity="0.3"/>
<rect x="122.5" y="543.4" width="0.9" height="0.9" fill="#7880dc" opacity="0.3"/>
<rect x="103.0" y="532.2" width="0.9" height="0.9" fill="#7880dc" opacity="0.3"/>
<rect x="120.0" y="527.9" width="0.9" height="0.9" fill="#7880dc" opacity="0.3"/>
<rect x="107.2" y="540.5" width="0.9" height="0.9" fill="#7880dc" opacity="0.3"/>
<rect x="111.6" y="536.7" width="0.9" height="0.9" fill="#7880dc" opacity="0.3"/>
<rect x="127.6" y="531.4" width="0.9" height="0.9" fill="#7880dc" opacity="0.3"/>
<rect x="121.8" y="533.5" width="0.9" height="0.9" fill="#7880dc" opacity="0.3"/>
<rect x="102.8" y="534.9" width="0.9" height="0.9" fill="#7880dc" opacity="0.3"/>
<rect x="117.2" y="534.4" width="0.9" height="0.9" fill="#7880dc" opacity="0.3"/>
<text x="166" y="520.9" font-family="Liberation Sans" font-size="13.5" font-weight="normal" text-anchor="middle" fill="#111" >2N</text>
<text x="200.8" y="509.9" font-family="Liberation Sans" font-size="13.5" font-weight="normal" text-anchor="middle" fill="#111" >4N</text>
<text x="214" y="522.3" font-family="Liberation Sans" font-size="13.5" font-weight="normal" text-anchor="middle" fill="#111" >8N</text>
<path d="M168.5,524 L173.5,528.5 L169,529.5 Z" fill="#111"/>
<path d="M191,505.5 L185.5,510.5 L191,511 Z" fill="#111"/>
<path d="M203.5,520.5 L198,524.5 L203.5,525.5 Z" fill="#111"/>
<line x1="249.4" y1="410.8" x2="249.4" y2="427" stroke="#111" stroke-width="2"/>
<line x1="249.4" y1="533.5" x2="249.4" y2="548" stroke="#111" stroke-width="2"/>
<text x="0" y="0" transform="translate(253.6,480) rotate(-90)" font-family="Liberation Sans" font-size="14" font-weight="bold" text-anchor="middle" fill="#111">p21 expression</text>
<line x1="94.2" y1="565.8" x2="117.3" y2="565.8" stroke="#111" stroke-width="2"/>
<line x1="210.5" y1="565.8" x2="231.2" y2="565.8" stroke="#111" stroke-width="2"/>
<text x="164.2" y="570" font-family="Liberation Sans" font-size="14" font-weight="bold" text-anchor="middle" fill="#111" >DNA content</text>
<text x="325" y="403.6" font-family="Liberation Sans" font-size="13.5" font-weight="bold" text-anchor="middle" fill="#111" >2N</text>
<text x="392.5" y="403.6" font-family="Liberation Sans" font-size="13.5" font-weight="bold" text-anchor="middle" fill="#111" >4N</text>
<text x="464.7" y="403.6" font-family="Liberation Sans" font-size="13.5" font-weight="bold" text-anchor="middle" fill="#111" >8N</text>
<rect x="300" y="410.5" width="63.60000000000002" height="62.0" fill="#fff" stroke="#c0c0c0" stroke-width="1"/>
<path d="M300.5,472.5 L301.5,472.3 L301.8,471.7 L302.1,469.9 L302.3,465.8 L302.6,457.9 L302.8,445.7 L303.1,431.2 L303.4,418.9 L303.6,414.0 L303.9,417.6 L304.2,422.4 L304.4,427.5 L304.7,432.5 L304.9,437.4 L305.2,441.8 L305.5,445.9 L305.7,449.6 L306.0,452.9 L306.2,455.8 L306.5,458.4 L306.8,460.6 L307.0,462.5 L307.3,464.1 L307.5,465.5 L307.8,466.7 L308.1,467.7 L308.3,468.5 L308.6,469.2 L308.8,469.8 L309.1,470.3 L309.4,470.7 L309.6,471.1 L309.9,471.3 L310.2,471.6 L310.4,471.7 L310.9,472.0 L311.5,472.2 L312.2,472.3 L315.6,472.5 L319.8,472.5 L324.0,472.5 L328.1,472.5 L332.3,472.5 L336.5,472.5 L340.7,472.5 L344.8,472.5 L349.0,472.5 L353.2,472.5 L357.4,472.5 L361.5,472.5 L363.1,472.5 L363.1,472.5 L300.5,472.5 Z" fill="#b2b2b2" stroke="#9c9c9c" stroke-width="0.6"/>
<path d="M300,410.5 V472.5 H363.6" fill="none" stroke="#a8a8a8" stroke-width="1"/>
<path d="M298.5,472.5h2.2 M298.5,460.6h2.2 M298.5,448.7h2.2 M298.5,436.8h2.2 M298.5,424.9h2.2 M298.5,413.0h2.2 M299.2,472.5h1.3 M299.2,469.5h1.3 M299.2,466.5h1.3 M299.2,463.6h1.3 M299.2,460.6h1.3 M299.2,457.6h1.3 M299.2,454.6h1.3 M299.2,451.7h1.3 M299.2,448.7h1.3 M299.2,445.7h1.3 M299.2,442.7h1.3 M299.2,439.8h1.3 M299.2,436.8h1.3 M299.2,433.8h1.3 M299.2,430.8h1.3 M299.2,427.9h1.3 M299.2,424.9h1.3 M299.2,421.9h1.3 M299.2,418.9h1.3 M299.2,416.0h1.3 M300.0,472.5v1.5 M306.4,472.5v1.5 M312.7,472.5v1.5 M319.1,472.5v1.5 M325.4,472.5v1.5 M331.8,472.5v1.5 M338.2,472.5v1.5 M344.5,472.5v1.5 M350.9,472.5v1.5 M357.2,472.5v1.5 M363.6,472.5v1.5" stroke="#b0b0b0" stroke-width="0.6" fill="none"/>
<path d="M305.6,435.5 v6 M305.6,438.5 H363.6" stroke="#1a1a1a" stroke-width="1.8" fill="none"/>
<text x="326.5" y="435.9" font-family="Liberation Sans" font-size="14" font-weight="normal" text-anchor="middle" fill="#111" >4</text>
<rect x="364.8" y="410.5" width="61.69999999999999" height="62.0" fill="#fff" stroke="#c0c0c0" stroke-width="1"/>
<path d="M365.3,472.5 L366.3,472.3 L366.6,471.7 L366.8,469.9 L367.1,465.8 L367.3,457.9 L367.6,445.7 L367.8,431.2 L368.1,418.9 L368.3,414.0 L368.6,417.0 L368.8,421.1 L369.1,425.6 L369.3,430.0 L369.6,434.4 L369.9,438.5 L370.1,442.4 L370.4,445.9 L370.6,449.2 L370.9,452.1 L371.1,454.8 L371.4,457.1 L371.6,459.2 L371.9,461.1 L372.1,462.7 L372.4,464.1 L372.6,465.4 L372.9,466.4 L373.1,467.3 L373.4,468.1 L373.6,468.8 L373.9,469.4 L374.2,469.9 L374.4,470.3 L374.7,470.7 L374.9,471.0 L375.2,471.2 L375.4,471.5 L375.7,471.6 L375.9,471.8 L376.4,472.0 L376.9,472.2 L377.9,472.4 L382.0,472.5 L386.0,472.5 L390.1,472.5 L394.1,472.5 L398.2,472.5 L402.2,472.5 L406.3,472.5 L410.3,472.5 L414.4,472.5 L418.4,472.5 L422.5,472.5 L426.0,472.5 L426.0,472.5 L365.3,472.5 Z" fill="#b2b2b2" stroke="#9c9c9c" stroke-width="0.6"/>
<path d="M364.8,410.5 V472.5 H426.5" fill="none" stroke="#a8a8a8" stroke-width="1"/>
<path d="M363.3,472.5h2.2 M363.3,460.6h2.2 M363.3,448.7h2.2 M363.3,436.8h2.2 M363.3,424.9h2.2 M363.3,413.0h2.2 M364.0,472.5h1.3 M364.0,469.5h1.3 M364.0,466.5h1.3 M364.0,463.6h1.3 M364.0,460.6h1.3 M364.0,457.6h1.3 M364.0,454.6h1.3 M364.0,451.7h1.3 M364.0,448.7h1.3 M364.0,445.7h1.3 M364.0,442.7h1.3 M364.0,439.8h1.3 M364.0,436.8h1.3 M364.0,433.8h1.3 M364.0,430.8h1.3 M364.0,427.9h1.3 M364.0,424.9h1.3 M364.0,421.9h1.3 M364.0,418.9h1.3 M364.0,416.0h1.3 M364.8,472.5v1.5 M371.0,472.5v1.5 M377.1,472.5v1.5 M383.3,472.5v1.5 M389.5,472.5v1.5 M395.6,472.5v1.5 M401.8,472.5v1.5 M408.0,472.5v1.5 M414.2,472.5v1.5 M420.3,472.5v1.5 M426.5,472.5v1.5" stroke="#b0b0b0" stroke-width="0.6" fill="none"/>
<path d="M369.4,435.5 v6 M369.4,438.5 H426.5" stroke="#1a1a1a" stroke-width="1.8" fill="none"/>
<text x="398" y="435.9" font-family="Liberation Sans" font-size="14" font-weight="normal" text-anchor="middle" fill="#111" >13</text>
<rect x="435" y="410.5" width="62.5" height="62.0" fill="#fff" stroke="#c0c0c0" stroke-width="1"/>
<path d="M435.5,472.5 L438.1,472.1 L438.3,471.5 L438.6,469.9 L438.8,466.7 L439.1,461.0 L439.3,452.3 L439.6,440.9 L439.9,428.8 L440.1,418.9 L440.4,414.1 L440.6,416.3 L440.9,420.3 L441.1,424.7 L441.4,429.2 L441.6,433.5 L441.9,437.7 L442.2,441.6 L442.4,445.2 L442.7,448.5 L442.9,451.6 L443.2,454.3 L443.4,456.7 L443.7,458.8 L444.0,460.7 L444.2,462.4 L444.5,463.8 L444.7,465.1 L445.0,466.2 L445.2,467.2 L445.5,468.0 L445.8,468.7 L446.0,469.3 L446.3,469.8 L446.5,470.2 L446.8,470.6 L447.0,470.9 L447.3,471.2 L447.5,471.4 L447.8,471.6 L448.1,471.8 L448.6,472.0 L449.1,472.2 L449.9,472.3 L451.9,472.5 L456.0,472.5 L460.1,472.5 L464.2,472.5 L468.3,472.5 L472.4,472.5 L476.5,472.5 L480.6,472.5 L484.7,472.5 L488.8,472.5 L492.9,472.5 L497.0,472.5 L497.0,472.5 L435.5,472.5 Z" fill="#b2b2b2" stroke="#9c9c9c" stroke-width="0.6"/>
<path d="M435,410.5 V472.5 H497.5" fill="none" stroke="#a8a8a8" stroke-width="1"/>
<path d="M433.5,472.5h2.2 M433.5,460.6h2.2 M433.5,448.7h2.2 M433.5,436.8h2.2 M433.5,424.9h2.2 M433.5,413.0h2.2 M434.2,472.5h1.3 M434.2,469.5h1.3 M434.2,466.5h1.3 M434.2,463.6h1.3 M434.2,460.6h1.3 M434.2,457.6h1.3 M434.2,454.6h1.3 M434.2,451.7h1.3 M434.2,448.7h1.3 M434.2,445.7h1.3 M434.2,442.7h1.3 M434.2,439.8h1.3 M434.2,436.8h1.3 M434.2,433.8h1.3 M434.2,430.8h1.3 M434.2,427.9h1.3 M434.2,424.9h1.3 M434.2,421.9h1.3 M434.2,418.9h1.3 M434.2,416.0h1.3 M435.0,472.5v1.5 M441.2,472.5v1.5 M447.5,472.5v1.5 M453.8,472.5v1.5 M460.0,472.5v1.5 M466.2,472.5v1.5 M472.5,472.5v1.5 M478.8,472.5v1.5 M485.0,472.5v1.5 M491.2,472.5v1.5 M497.5,472.5v1.5" stroke="#b0b0b0" stroke-width="0.6" fill="none"/>
<path d="M442,435.5 v6 M442,438.5 H497.5" stroke="#1a1a1a" stroke-width="1.8" fill="none"/>
<text x="471.5" y="435.9" font-family="Liberation Sans" font-size="14" font-weight="normal" text-anchor="middle" fill="#111" >11</text>
<rect x="300" y="484.5" width="63.60000000000002" height="62.5" fill="#fff" stroke="#c0c0c0" stroke-width="1"/>
<path d="M300.5,547.0 L301.5,546.8 L301.8,546.2 L302.1,544.4 L302.3,540.3 L302.6,532.3 L302.8,520.0 L303.1,505.3 L303.4,492.9 L303.6,488.0 L303.9,491.6 L304.2,496.5 L304.4,501.6 L304.7,506.7 L304.9,511.6 L305.2,516.1 L305.5,520.2 L305.7,523.9 L306.0,527.2 L306.2,530.2 L306.5,532.7 L306.8,535.0 L307.0,536.9 L307.3,538.5 L307.5,540.0 L307.8,540.8 L308.1,541.1 L308.3,541.4 L308.6,541.6 L308.8,541.9 L309.1,542.1 L309.4,542.3 L309.6,542.5 L309.9,542.7 L310.2,542.9 L310.4,543.1 L310.7,543.3 L310.9,543.4 L311.2,543.6 L311.5,543.8 L312.0,544.0 L312.5,544.3 L313.0,544.5 L313.5,544.8 L314.1,545.0 L314.6,545.1 L315.1,545.3 L315.9,545.5 L316.7,545.7 L317.5,545.9 L318.5,546.1 L319.5,546.2 L320.8,546.4 L322.7,546.6 L325.0,546.7 L329.2,546.9 L333.4,546.9 L337.5,547.0 L341.7,547.0 L345.9,547.0 L350.1,547.0 L354.2,547.0 L358.4,547.0 L362.6,547.0 L363.1,547.0 L363.1,547.0 L300.5,547.0 Z" fill="#b2b2b2" stroke="#9c9c9c" stroke-width="0.6"/>
<path d="M300,484.5 V547 H363.6" fill="none" stroke="#a8a8a8" stroke-width="1"/>
<path d="M298.5,547.0h2.2 M298.5,535.0h2.2 M298.5,523.0h2.2 M298.5,511.0h2.2 M298.5,499.0h2.2 M298.5,487.0h2.2 M299.2,547.0h1.3 M299.2,544.0h1.3 M299.2,541.0h1.3 M299.2,538.0h1.3 M299.2,535.0h1.3 M299.2,532.0h1.3 M299.2,529.0h1.3 M299.2,526.0h1.3 M299.2,523.0h1.3 M299.2,520.0h1.3 M299.2,517.0h1.3 M299.2,514.0h1.3 M299.2,511.0h1.3 M299.2,508.0h1.3 M299.2,505.0h1.3 M299.2,502.0h1.3 M299.2,499.0h1.3 M299.2,496.0h1.3 M299.2,493.0h1.3 M299.2,490.0h1.3 M300.0,547v1.5 M306.4,547v1.5 M312.7,547v1.5 M319.1,547v1.5 M325.4,547v1.5 M331.8,547v1.5 M338.2,547v1.5 M344.5,547v1.5 M350.9,547v1.5 M357.2,547v1.5 M363.6,547v1.5" stroke="#b0b0b0" stroke-width="0.6" fill="none"/>
<path d="M305.6,509.5 v6 M305.6,512.5 H363.6" stroke="#1a1a1a" stroke-width="1.8" fill="none"/>
<text x="326.5" y="509.9" font-family="Liberation Sans" font-size="14" font-weight="normal" text-anchor="middle" fill="#111" >30</text>
<rect x="364.8" y="484.5" width="61.69999999999999" height="62.5" fill="#fff" stroke="#c0c0c0" stroke-width="1"/>
<path d="M365.3,547.0 L366.3,546.8 L366.6,546.2 L366.8,544.4 L367.1,540.3 L367.3,532.3 L367.6,520.0 L367.8,505.3 L368.1,492.9 L368.3,488.0 L368.6,491.0 L368.8,495.2 L369.1,499.7 L369.3,504.2 L369.6,508.6 L369.9,512.7 L370.1,516.6 L370.4,520.2 L370.6,523.5 L370.9,526.4 L371.1,529.1 L371.4,531.5 L371.6,533.6 L371.9,535.5 L372.1,537.1 L372.4,538.5 L372.6,539.8 L372.9,540.9 L373.1,541.3 L373.4,541.5 L373.6,541.7 L373.9,541.9 L374.2,542.1 L374.4,542.2 L374.7,542.4 L374.9,542.6 L375.2,542.8 L375.4,542.9 L375.7,543.1 L376.2,543.4 L376.7,543.6 L377.2,543.9 L377.7,544.1 L378.2,544.3 L378.7,544.5 L379.2,544.7 L379.7,544.9 L380.2,545.0 L381.0,545.2 L381.7,545.4 L382.5,545.6 L383.3,545.7 L384.3,545.9 L385.3,546.1 L386.5,546.2 L388.1,546.4 L390.1,546.5 L392.9,546.7 L396.9,546.8 L401.0,546.9 L405.0,547.0 L409.1,547.0 L413.1,547.0 L417.1,547.0 L421.2,547.0 L425.2,547.0 L426.0,547.0 L426.0,547.0 L365.3,547.0 Z" fill="#b2b2b2" stroke="#9c9c9c" stroke-width="0.6"/>
<path d="M364.8,484.5 V547 H426.5" fill="none" stroke="#a8a8a8" stroke-width="1"/>
<path d="M363.3,547.0h2.2 M363.3,535.0h2.2 M363.3,523.0h2.2 M363.3,511.0h2.2 M363.3,499.0h2.2 M363.3,487.0h2.2 M364.0,547.0h1.3 M364.0,544.0h1.3 M364.0,541.0h1.3 M364.0,538.0h1.3 M364.0,535.0h1.3 M364.0,532.0h1.3 M364.0,529.0h1.3 M364.0,526.0h1.3 M364.0,523.0h1.3 M364.0,520.0h1.3 M364.0,517.0h1.3 M364.0,514.0h1.3 M364.0,511.0h1.3 M364.0,508.0h1.3 M364.0,505.0h1.3 M364.0,502.0h1.3 M364.0,499.0h1.3 M364.0,496.0h1.3 M364.0,493.0h1.3 M364.0,490.0h1.3 M364.8,547v1.5 M371.0,547v1.5 M377.1,547v1.5 M383.3,547v1.5 M389.5,547v1.5 M395.6,547v1.5 M401.8,547v1.5 M408.0,547v1.5 M414.2,547v1.5 M420.3,547v1.5 M426.5,547v1.5" stroke="#b0b0b0" stroke-width="0.6" fill="none"/>
<path d="M369.4,509.5 v6 M369.4,512.5 H426.5" stroke="#1a1a1a" stroke-width="1.8" fill="none"/>
<text x="398" y="509.9" font-family="Liberation Sans" font-size="14" font-weight="normal" text-anchor="middle" fill="#111" >35</text>
<rect x="435" y="484.5" width="62.5" height="62.5" fill="#fff" stroke="#c0c0c0" stroke-width="1"/>
<path d="M435.5,547.0 L438.1,546.6 L438.3,546.0 L438.6,544.4 L438.8,541.2 L439.1,535.4 L439.3,526.6 L439.6,515.2 L439.9,502.9 L440.1,492.9 L440.4,488.1 L440.6,490.3 L440.9,494.3 L441.1,498.8 L441.4,503.3 L441.6,507.7 L441.9,511.9 L442.2,515.8 L442.4,519.5 L442.7,522.8 L442.9,525.9 L443.2,528.6 L443.4,531.0 L443.7,533.2 L444.0,535.1 L444.2,536.8 L444.5,538.3 L444.7,539.6 L445.0,540.7 L445.2,541.6 L445.5,542.5 L445.8,543.2 L446.0,543.8 L446.3,544.3 L446.5,544.7 L446.8,545.1 L447.0,545.4 L447.3,545.6 L447.8,545.7 L448.6,545.9 L449.3,546.1 L450.4,546.3 L451.6,546.5 L453.2,546.6 L455.5,546.8 L459.6,546.9 L463.7,547.0 L467.8,547.0 L471.9,547.0 L476.0,547.0 L480.1,547.0 L484.2,547.0 L488.3,547.0 L492.4,547.0 L496.5,547.0 L497.0,547.0 L497.0,547.0 L435.5,547.0 Z" fill="#b2b2b2" stroke="#9c9c9c" stroke-width="0.6"/>
<path d="M435,484.5 V547 H497.5" fill="none" stroke="#a8a8a8" stroke-width="1"/>
<path d="M433.5,547.0h2.2 M433.5,535.0h2.2 M433.5,523.0h2.2 M433.5,511.0h2.2 M433.5,499.0h2.2 M433.5,487.0h2.2 M434.2,547.0h1.3 M434.2,544.0h1.3 M434.2,541.0h1.3 M434.2,538.0h1.3 M434.2,535.0h1.3 M434.2,532.0h1.3 M434.2,529.0h1.3 M434.2,526.0h1.3 M434.2,523.0h1.3 M434.2,520.0h1.3 M434.2,517.0h1.3 M434.2,514.0h1.3 M434.2,511.0h1.3 M434.2,508.0h1.3 M434.2,505.0h1.3 M434.2,502.0h1.3 M434.2,499.0h1.3 M434.2,496.0h1.3 M434.2,493.0h1.3 M434.2,490.0h1.3 M435.0,547v1.5 M441.2,547v1.5 M447.5,547v1.5 M453.8,547v1.5 M460.0,547v1.5 M466.2,547v1.5 M472.5,547v1.5 M478.8,547v1.5 M485.0,547v1.5 M491.2,547v1.5 M497.5,547v1.5" stroke="#b0b0b0" stroke-width="0.6" fill="none"/>
<path d="M442,509.5 v6 M442,512.5 H497.5" stroke="#1a1a1a" stroke-width="1.8" fill="none"/>
<text x="471.5" y="509.9" font-family="Liberation Sans" font-size="14" font-weight="normal" text-anchor="middle" fill="#111" >27</text>
<line x1="513" y1="409.9" x2="513" y2="451.4" stroke="#111" stroke-width="2"/>
<line x1="513" y1="506.4" x2="513" y2="547" stroke="#111" stroke-width="2"/>
<text x="0" y="0" transform="translate(517.3,479.4) rotate(-90)" font-family="Liberation Sans" font-size="14" font-weight="bold" text-anchor="middle" fill="#111"># Cells</text>
<line x1="297.6" y1="565.5" x2="336.5" y2="565.5" stroke="#111" stroke-width="2"/>
<line x1="448.6" y1="565.5" x2="497.3" y2="565.5" stroke="#111" stroke-width="2"/>
<text x="393.7" y="570" font-family="Liberation Sans" font-size="14" font-weight="bold" text-anchor="middle" fill="#111" >p21 expression</text>
<text x="1.3" y="602.4" font-family="Liberation Sans" font-size="17.5" font-weight="bold" text-anchor="start" fill="#111" >C</text>
<text x="165.5" y="620.5" font-family="Liberation Sans" font-size="19" font-weight="bold" text-anchor="middle" fill="#111" >DMSO</text>
<text x="262.2" y="620.5" font-family="Liberation Sans" font-size="19" font-weight="bold" text-anchor="middle" fill="#111" >MK</text>
<text x="357.8" y="620.5" font-family="Liberation Sans" font-size="19" font-weight="bold" text-anchor="middle" fill="#111" >Nutlin</text>
<text x="452.3" y="620.5" font-family="Liberation Sans" font-size="19" font-weight="bold" text-anchor="middle" fill="#111" >MK+Nut</text>
<text x="16.7" y="689.8" font-family="Liberation Sans" font-size="20" font-weight="bold" text-anchor="start" fill="#111" >p21</text>
<text x="60" y="692" font-family="Liberation Sans" font-size="24" font-weight="bold" text-anchor="start" fill="#111" letter-spacing="-1.4">+/+</text>
<text x="16.7" y="809.5" font-family="Liberation Sans" font-size="20" font-weight="bold" text-anchor="start" fill="#111" >p21</text>
<path d="M60.8,803 h8.2 v2.8 h-8.2 Z M79.4,803 h11.4 v2.8 h-11.4 Z M68.8,812.2 L76.2,796.4 L79.6,796.4 L72.2,812.2 Z" fill="#111"/>
<rect x="122.3" y="640.6" width="81.7" height="80.39999999999998" fill="#fff" stroke="#c4c4c4" stroke-width="1"/>
<path d="M122.3,640.6 V721 H204" fill="none" stroke="#a0a0a0" stroke-width="1"/>
<path d="M120.8,721.0h2.2 M120.8,705.6h2.2 M120.8,690.1h2.2 M120.8,674.7h2.2 M120.8,659.3h2.2 M120.8,643.8h2.2 M121.5,721.0h1.3 M121.5,717.1h1.3 M121.5,713.3h1.3 M121.5,709.4h1.3 M121.5,705.6h1.3 M121.5,701.7h1.3 M121.5,697.8h1.3 M121.5,694.0h1.3 M121.5,690.1h1.3 M121.5,686.3h1.3 M121.5,682.4h1.3 M121.5,678.5h1.3 M121.5,674.7h1.3 M121.5,670.8h1.3 M121.5,667.0h1.3 M121.5,663.1h1.3 M121.5,659.3h1.3 M121.5,655.4h1.3 M121.5,651.5h1.3 M121.5,647.7h1.3 M122.3,721v1.5 M130.5,721v1.5 M138.6,721v1.5 M146.8,721v1.5 M155.0,721v1.5 M163.2,721v1.5 M171.3,721v1.5 M179.5,721v1.5 M187.7,721v1.5 M195.8,721v1.5 M204.0,721v1.5" stroke="#a0a0a0" stroke-width="0.6" fill="none"/>
<path d="M122.8,720.5 L127.0,720.5 L128.2,720.2 L128.4,719.8 L128.7,719.0 L128.9,717.6 L129.2,715.2 L129.4,711.3 L129.6,705.6 L129.9,697.7 L130.1,687.8 L130.4,676.6 L130.6,665.1 L130.9,654.9 L131.1,647.7 L131.4,644.6 L131.6,646.4 L131.8,652.5 L132.1,662.0 L132.3,673.3 L132.6,684.7 L132.8,695.1 L133.1,703.6 L133.3,709.9 L133.6,714.3 L133.8,717.1 L134.0,718.7 L134.3,719.6 L134.5,720.1 L134.8,720.3 L135.8,720.1 L136.0,719.8 L136.2,719.3 L136.5,718.6 L136.7,717.7 L137.0,716.4 L137.2,715.0 L137.5,713.4 L137.7,711.7 L138.0,710.1 L138.2,708.8 L138.5,707.9 L138.7,707.6 L138.9,707.9 L139.2,708.7 L139.4,710.0 L139.7,711.6 L139.9,713.3 L140.2,714.9 L140.4,716.4 L140.7,717.6 L140.9,718.5 L141.1,719.2 L141.4,719.7 L141.6,720.1 L141.9,720.2 L142.4,720.4 L146.5,720.5 L150.7,720.5 L154.8,720.5 L159.0,720.5 L163.2,720.5 L167.3,720.5 L171.5,720.5 L175.6,720.5 L179.8,720.5 L183.9,720.5 L188.1,720.5 L192.3,720.5 L196.4,720.5 L200.6,720.5 L203.5,720.5" fill="none" stroke="#8c8c8c" stroke-width="0.9"/>
<path d="M142.7,657.8000000000001 v8 M142.7,661.8000000000001 H204" stroke="#333" stroke-width="1.6" fill="none"/>
<text x="172.7" y="658.5000000000001" font-family="Liberation Sans" font-size="20" font-weight="normal" text-anchor="middle" fill="#111" >2</text>
<rect x="218.3" y="640.6" width="82.0" height="80.39999999999998" fill="#fff" stroke="#c4c4c4" stroke-width="1"/>
<path d="M218.3,640.6 V721 H300.3" fill="none" stroke="#a0a0a0" stroke-width="1"/>
<path d="M216.8,721.0h2.2 M216.8,705.6h2.2 M216.8,690.1h2.2 M216.8,674.7h2.2 M216.8,659.3h2.2 M216.8,643.8h2.2 M217.5,721.0h1.3 M217.5,717.1h1.3 M217.5,713.3h1.3 M217.5,709.4h1.3 M217.5,705.6h1.3 M217.5,701.7h1.3 M217.5,697.8h1.3 M217.5,694.0h1.3 M217.5,690.1h1.3 M217.5,686.3h1.3 M217.5,682.4h1.3 M217.5,678.5h1.3 M217.5,674.7h1.3 M217.5,670.8h1.3 M217.5,667.0h1.3 M217.5,663.1h1.3 M217.5,659.3h1.3 M217.5,655.4h1.3 M217.5,651.5h1.3 M217.5,647.7h1.3 M218.3,721v1.5 M226.5,721v1.5 M234.7,721v1.5 M242.9,721v1.5 M251.1,721v1.5 M259.3,721v1.5 M267.5,721v1.5 M275.7,721v1.5 M283.9,721v1.5 M292.1,721v1.5 M300.3,721v1.5" stroke="#a0a0a0" stroke-width="0.6" fill="none"/>
<path d="M218.8,720.5 L223.0,720.5 L224.2,720.2 L224.4,719.9 L224.7,719.3 L224.9,718.3 L225.2,716.9 L225.4,714.8 L225.7,712.2 L225.9,709.0 L226.2,705.7 L226.4,702.5 L226.7,700.1 L226.9,698.7 L227.4,700.0 L227.6,702.4 L227.9,705.5 L228.1,708.9 L228.4,712.0 L228.6,714.7 L228.9,716.8 L229.1,718.3 L229.4,719.2 L229.6,719.8 L229.8,720.2 L230.1,720.3 L232.1,720.1 L232.3,719.6 L232.5,718.8 L232.8,717.4 L233.0,715.1 L233.3,711.5 L233.5,706.3 L233.8,699.3 L234.0,690.6 L234.3,680.5 L234.5,669.8 L234.8,659.6 L235.0,651.3 L235.2,646.0 L235.5,644.6 L235.7,647.0 L236.0,653.3 L236.2,662.2 L236.5,672.6 L236.7,683.1 L237.0,692.9 L237.2,701.1 L237.5,707.5 L237.7,712.1 L237.9,715.2 L238.2,717.2 L238.4,718.4 L238.7,719.0 L238.9,719.3 L240.6,719.1 L241.4,718.9 L241.9,718.7 L242.4,718.4 L242.6,718.3 L242.9,718.0 L243.1,717.7 L243.3,717.4 L243.6,716.9 L243.8,716.3 L244.1,715.6 L244.3,714.8 L244.6,713.7 L244.8,712.5 L245.1,711.1 L245.3,709.4 L245.6,707.5 L245.8,705.3 L246.0,702.9 L246.3,700.3 L246.5,697.5 L246.8,694.5 L247.0,691.4 L247.3,688.2 L247.5,685.0 L247.8,681.9 L248.0,678.9 L248.3,676.1 L248.5,673.5 L248.7,671.4 L249.0,669.6 L249.2,668.3 L249.5,667.5 L249.7,667.3 L250.0,667.5 L250.2,668.3 L250.5,669.7 L250.7,671.4 L251.0,673.6 L251.2,676.2 L251.4,679.0 L251.7,682.1 L251.9,685.3 L252.2,688.5 L252.4,691.8 L252.7,694.9 L252.9,698.0 L253.2,700.9 L253.4,703.6 L253.7,706.1 L253.9,708.3 L254.1,710.3 L254.4,712.0 L254.6,713.6 L254.9,714.9 L255.1,716.0 L255.4,716.9 L255.6,717.7 L255.9,718.3 L256.1,718.8 L256.4,719.2 L256.6,719.5 L256.8,719.8 L257.1,720.0 L257.6,720.2 L258.3,720.4 L262.5,720.5 L266.7,720.5 L270.8,720.5 L275.0,720.5 L279.2,720.5 L283.4,720.5 L287.5,720.5 L291.7,720.5 L295.9,720.5 L299.8,720.5" fill="none" stroke="#8c8c8c" stroke-width="0.9"/>
<path d="M238.4,657.8000000000001 v8 M238.4,661.8000000000001 H300.3" stroke="#333" stroke-width="1.6" fill="none"/>
<text x="268.2" y="658.5000000000001" font-family="Liberation Sans" font-size="20" font-weight="normal" text-anchor="middle" fill="#111" >56</text>
<rect x="314.8" y="640.6" width="82.69999999999999" height="80.39999999999998" fill="#fff" stroke="#c4c4c4" stroke-width="1"/>
<path d="M314.8,640.6 V721 H397.5" fill="none" stroke="#a0a0a0" stroke-width="1"/>
<path d="M313.3,721.0h2.2 M313.3,705.6h2.2 M313.3,690.1h2.2 M313.3,674.7h2.2 M313.3,659.3h2.2 M313.3,643.8h2.2 M314.0,721.0h1.3 M314.0,717.1h1.3 M314.0,713.3h1.3 M314.0,709.4h1.3 M314.0,705.6h1.3 M314.0,701.7h1.3 M314.0,697.8h1.3 M314.0,694.0h1.3 M314.0,690.1h1.3 M314.0,686.3h1.3 M314.0,682.4h1.3 M314.0,678.5h1.3 M314.0,674.7h1.3 M314.0,670.8h1.3 M314.0,667.0h1.3 M314.0,663.1h1.3 M314.0,659.3h1.3 M314.0,655.4h1.3 M314.0,651.5h1.3 M314.0,647.7h1.3 M314.8,721v1.5 M323.1,721v1.5 M331.3,721v1.5 M339.6,721v1.5 M347.9,721v1.5 M356.1,721v1.5 M364.4,721v1.5 M372.7,721v1.5 M381.0,721v1.5 M389.2,721v1.5 M397.5,721v1.5" stroke="#a0a0a0" stroke-width="0.6" fill="none"/>
<path d="M315.3,720.5 L319.5,720.5 L320.5,720.3 L320.7,719.8 L321.0,718.7 L321.2,716.1 L321.5,711.3 L321.7,703.1 L322.0,691.3 L322.2,676.5 L322.5,661.4 L322.7,649.6 L323.0,644.6 L323.2,648.0 L323.5,658.6 L323.7,673.4 L324.0,688.4 L324.2,701.0 L324.5,709.9 L324.7,715.4 L325.0,718.3 L325.2,719.6 L325.5,720.2 L325.7,720.4 L328.4,720.2 L328.7,720.0 L328.9,719.6 L329.2,719.1 L329.4,718.3 L329.7,717.4 L329.9,716.4 L330.2,715.4 L330.4,714.5 L330.6,713.9 L330.9,713.7 L331.1,713.9 L331.4,714.5 L331.6,715.4 L331.9,716.4 L332.1,717.4 L332.4,718.3 L332.6,719.1 L332.9,719.6 L333.1,720.0 L333.4,720.2 L333.9,720.4 L338.1,720.5 L342.3,720.5 L346.5,720.5 L350.7,720.5 L354.9,720.5 L359.1,720.5 L363.3,720.5 L367.5,720.5 L371.7,720.5 L376.0,720.5 L380.2,720.5 L384.4,720.5 L388.6,720.5 L392.8,720.5 L397.0,720.5" fill="none" stroke="#8c8c8c" stroke-width="0.9"/>
<path d="M334.7,657.8000000000001 v8 M334.7,661.8000000000001 H397.5" stroke="#333" stroke-width="1.6" fill="none"/>
<text x="364" y="658.5000000000001" font-family="Liberation Sans" font-size="20" font-weight="normal" text-anchor="middle" fill="#111" >1</text>
<rect x="410.5" y="640.6" width="82.0" height="80.39999999999998" fill="#fff" stroke="#c4c4c4" stroke-width="1"/>
<path d="M410.5,640.6 V721 H492.5" fill="none" stroke="#a0a0a0" stroke-width="1"/>
<path d="M409.0,721.0h2.2 M409.0,705.6h2.2 M409.0,690.1h2.2 M409.0,674.7h2.2 M409.0,659.3h2.2 M409.0,643.8h2.2 M409.7,721.0h1.3 M409.7,717.1h1.3 M409.7,713.3h1.3 M409.7,709.4h1.3 M409.7,705.6h1.3 M409.7,701.7h1.3 M409.7,697.8h1.3 M409.7,694.0h1.3 M409.7,690.1h1.3 M409.7,686.3h1.3 M409.7,682.4h1.3 M409.7,678.5h1.3 M409.7,674.7h1.3 M409.7,670.8h1.3 M409.7,667.0h1.3 M409.7,663.1h1.3 M409.7,659.3h1.3 M409.7,655.4h1.3 M409.7,651.5h1.3 M409.7,647.7h1.3 M410.5,721v1.5 M418.7,721v1.5 M426.9,721v1.5 M435.1,721v1.5 M443.3,721v1.5 M451.5,721v1.5 M459.7,721v1.5 M467.9,721v1.5 M476.1,721v1.5 M484.3,721v1.5 M492.5,721v1.5" stroke="#a0a0a0" stroke-width="0.6" fill="none"/>
<path d="M411.0,720.5 L415.2,720.5 L417.4,720.3 L417.6,720.0 L417.9,719.0 L418.1,717.0 L418.4,712.8 L418.6,705.5 L418.9,694.6 L419.1,680.4 L419.3,665.0 L419.6,652.1 L419.8,645.1 L420.1,646.4 L420.3,655.4 L420.6,669.5 L420.8,684.8 L421.1,698.2 L421.3,708.1 L421.6,714.3 L421.8,717.7 L422.0,719.4 L422.3,720.1 L422.5,720.4 L424.7,720.2 L425.0,719.9 L425.2,719.4 L425.5,718.4 L425.7,717.0 L426.0,714.9 L426.2,712.1 L426.5,708.7 L426.7,704.9 L427.0,701.2 L427.2,698.1 L427.4,696.0 L427.7,695.5 L427.9,696.5 L428.2,698.9 L428.4,702.2 L428.7,706.0 L428.9,709.7 L429.2,713.0 L429.4,715.6 L429.7,717.5 L429.9,718.8 L430.1,719.6 L430.4,720.0 L430.6,720.3 L431.1,720.5 L435.3,720.5 L437.8,720.3 L438.2,720.1 L438.7,719.8 L439.0,719.6 L439.2,719.4 L439.5,719.1 L439.7,718.8 L440.0,718.4 L440.2,718.1 L440.5,717.7 L440.7,717.4 L440.9,717.1 L441.2,716.9 L441.7,716.7 L442.4,717.0 L442.7,717.3 L442.9,717.6 L443.2,717.9 L443.4,718.3 L443.6,718.6 L443.9,718.9 L444.1,719.2 L444.4,719.5 L444.6,719.7 L444.9,719.9 L445.1,720.1 L445.6,720.3 L446.3,720.4 L450.5,720.5 L454.7,720.5 L458.9,720.5 L463.0,720.5 L467.2,720.5 L471.4,720.5 L475.6,720.5 L479.7,720.5 L483.9,720.5 L488.1,720.5 L492.0,720.5" fill="none" stroke="#8c8c8c" stroke-width="0.9"/>
<path d="M431.1,657.8000000000001 v8 M431.1,661.8000000000001 H492.5" stroke="#333" stroke-width="1.6" fill="none"/>
<text x="460.5" y="658.5000000000001" font-family="Liberation Sans" font-size="20" font-weight="normal" text-anchor="middle" fill="#111" >10</text>
<rect x="122.3" y="760.6" width="81.7" height="80.60000000000002" fill="#fff" stroke="#c4c4c4" stroke-width="1"/>
<path d="M122.3,760.6 V841.2 H204" fill="none" stroke="#a0a0a0" stroke-width="1"/>
<path d="M120.8,841.2h2.2 M120.8,825.7h2.2 M120.8,810.2h2.2 M120.8,794.8h2.2 M120.8,779.3h2.2 M120.8,763.8h2.2 M121.5,841.2h1.3 M121.5,837.3h1.3 M121.5,833.5h1.3 M121.5,829.6h1.3 M121.5,825.7h1.3 M121.5,821.9h1.3 M121.5,818.0h1.3 M121.5,814.1h1.3 M121.5,810.2h1.3 M121.5,806.4h1.3 M121.5,802.5h1.3 M121.5,798.6h1.3 M121.5,794.8h1.3 M121.5,790.9h1.3 M121.5,787.0h1.3 M121.5,783.2h1.3 M121.5,779.3h1.3 M121.5,775.4h1.3 M121.5,771.6h1.3 M121.5,767.7h1.3 M122.3,841.2v1.5 M130.5,841.2v1.5 M138.6,841.2v1.5 M146.8,841.2v1.5 M155.0,841.2v1.5 M163.2,841.2v1.5 M171.3,841.2v1.5 M179.5,841.2v1.5 M187.7,841.2v1.5 M195.8,841.2v1.5 M204.0,841.2v1.5" stroke="#a0a0a0" stroke-width="0.6" fill="none"/>
<path d="M122.8,840.7 L127.0,840.7 L128.2,840.4 L128.4,840.2 L128.7,839.7 L128.9,838.8 L129.2,837.0 L129.4,833.9 L129.6,829.0 L129.9,821.6 L130.1,811.6 L130.4,799.6 L130.6,786.7 L130.9,774.8 L131.1,766.0 L131.4,764.6 L131.8,770.4 L132.1,780.9 L132.3,793.0 L132.6,804.7 L132.8,814.7 L133.1,822.1 L133.3,827.2 L133.6,830.2 L133.8,831.9 L134.0,832.6 L134.3,832.9 L135.3,833.1 L135.8,833.3 L136.5,833.2 L136.7,832.7 L137.0,831.8 L137.2,830.6 L137.5,828.9 L137.7,826.8 L138.0,824.5 L138.2,822.2 L138.5,820.1 L138.7,818.5 L138.9,817.8 L139.4,819.0 L139.7,820.9 L139.9,823.5 L140.2,826.3 L140.4,829.3 L140.7,832.0 L140.9,834.4 L141.1,836.3 L141.4,837.8 L141.6,838.8 L141.9,839.5 L142.1,840.0 L142.4,840.3 L142.6,840.5 L143.1,840.6 L147.3,840.7 L151.4,840.7 L155.6,840.7 L159.7,840.7 L163.9,840.7 L168.0,840.7 L172.2,840.7 L176.4,840.7 L180.5,840.7 L184.7,840.7 L188.8,840.7 L193.0,840.7 L197.1,840.7 L201.3,840.7 L203.5,840.7" fill="none" stroke="#8c8c8c" stroke-width="0.9"/>
<path d="M143.1,777.8000000000001 v8 M143.1,781.8000000000001 H204" stroke="#333" stroke-width="1.6" fill="none"/>
<text x="172.7" y="778.5000000000001" font-family="Liberation Sans" font-size="20" font-weight="normal" text-anchor="middle" fill="#111" >2</text>
<rect x="218.3" y="760.6" width="82.0" height="80.60000000000002" fill="#fff" stroke="#c4c4c4" stroke-width="1"/>
<path d="M218.3,760.6 V841.2 H300.3" fill="none" stroke="#a0a0a0" stroke-width="1"/>
<path d="M216.8,841.2h2.2 M216.8,825.7h2.2 M216.8,810.2h2.2 M216.8,794.8h2.2 M216.8,779.3h2.2 M216.8,763.8h2.2 M217.5,841.2h1.3 M217.5,837.3h1.3 M217.5,833.5h1.3 M217.5,829.6h1.3 M217.5,825.7h1.3 M217.5,821.9h1.3 M217.5,818.0h1.3 M217.5,814.1h1.3 M217.5,810.2h1.3 M217.5,806.4h1.3 M217.5,802.5h1.3 M217.5,798.6h1.3 M217.5,794.8h1.3 M217.5,790.9h1.3 M217.5,787.0h1.3 M217.5,783.2h1.3 M217.5,779.3h1.3 M217.5,775.4h1.3 M217.5,771.6h1.3 M217.5,767.7h1.3 M218.3,841.2v1.5 M226.5,841.2v1.5 M234.7,841.2v1.5 M242.9,841.2v1.5 M251.1,841.2v1.5 M259.3,841.2v1.5 M267.5,841.2v1.5 M275.7,841.2v1.5 M283.9,841.2v1.5 M292.1,841.2v1.5 M300.3,841.2v1.5" stroke="#a0a0a0" stroke-width="0.6" fill="none"/>
<path d="M218.8,840.7 L223.0,840.7 L224.4,840.5 L224.7,840.4 L224.9,840.0 L225.2,839.6 L225.4,838.9 L225.7,838.1 L225.9,837.3 L226.2,836.6 L226.4,836.2 L226.9,836.6 L227.1,837.3 L227.4,838.1 L227.6,838.9 L227.9,839.5 L228.1,840.0 L228.4,840.3 L228.6,840.5 L231.1,840.3 L231.3,840.1 L231.6,839.9 L231.8,839.4 L232.1,838.6 L232.3,837.3 L232.5,835.4 L232.8,832.6 L233.0,828.8 L233.3,824.0 L233.5,818.5 L233.8,812.4 L234.0,806.6 L234.3,801.6 L234.5,798.2 L234.8,796.8 L235.0,797.6 L235.2,800.5 L235.5,805.0 L235.7,810.5 L236.0,816.1 L236.2,821.3 L236.5,825.8 L236.7,829.2 L237.0,831.7 L237.2,833.3 L237.5,834.3 L237.7,834.7 L238.7,834.5 L238.9,834.3 L239.2,834.1 L239.4,833.9 L239.7,833.7 L239.9,833.5 L240.4,833.3 L241.1,833.1 L242.4,833.3 L242.9,833.6 L243.1,833.8 L243.3,834.0 L243.6,834.2 L243.8,834.4 L244.1,834.6 L244.3,834.9 L244.6,835.1 L244.8,835.2 L245.6,835.1 L245.8,834.6 L246.0,833.8 L246.3,832.4 L246.5,830.5 L246.8,827.8 L247.0,824.3 L247.3,819.8 L247.5,814.3 L247.8,808.0 L248.0,800.9 L248.3,793.4 L248.5,785.9 L248.7,778.8 L249.0,772.6 L249.2,767.8 L249.5,764.7 L250.2,768.0 L250.5,773.0 L250.7,779.4 L251.0,786.7 L251.2,794.5 L251.4,802.2 L251.7,809.5 L251.9,816.2 L252.2,821.9 L252.4,826.7 L252.7,830.6 L252.9,833.6 L253.2,835.8 L253.4,837.4 L253.7,838.6 L253.9,839.4 L254.1,839.9 L254.4,840.2 L254.6,840.4 L255.1,840.6 L259.3,840.7 L263.5,840.7 L267.6,840.7 L271.8,840.7 L276.0,840.7 L280.2,840.7 L284.3,840.7 L288.5,840.7 L292.7,840.7 L296.9,840.7 L299.8,840.7" fill="none" stroke="#8c8c8c" stroke-width="0.9"/>
<path d="M238.6,777.8000000000001 v8 M238.6,781.8000000000001 H300.3" stroke="#333" stroke-width="1.6" fill="none"/>
<text x="268.2" y="778.5000000000001" font-family="Liberation Sans" font-size="20" font-weight="normal" text-anchor="middle" fill="#111" >78</text>
<rect x="314.8" y="760.6" width="82.69999999999999" height="80.60000000000002" fill="#fff" stroke="#c4c4c4" stroke-width="1"/>
<path d="M314.8,760.6 V841.2 H397.5" fill="none" stroke="#a0a0a0" stroke-width="1"/>
<path d="M313.3,841.2h2.2 M313.3,825.7h2.2 M313.3,810.2h2.2 M313.3,794.8h2.2 M313.3,779.3h2.2 M313.3,763.8h2.2 M314.0,841.2h1.3 M314.0,837.3h1.3 M314.0,833.5h1.3 M314.0,829.6h1.3 M314.0,825.7h1.3 M314.0,821.9h1.3 M314.0,818.0h1.3 M314.0,814.1h1.3 M314.0,810.2h1.3 M314.0,806.4h1.3 M314.0,802.5h1.3 M314.0,798.6h1.3 M314.0,794.8h1.3 M314.0,790.9h1.3 M314.0,787.0h1.3 M314.0,783.2h1.3 M314.0,779.3h1.3 M314.0,775.4h1.3 M314.0,771.6h1.3 M314.0,767.7h1.3 M314.8,841.2v1.5 M323.1,841.2v1.5 M331.3,841.2v1.5 M339.6,841.2v1.5 M347.9,841.2v1.5 M356.1,841.2v1.5 M364.4,841.2v1.5 M372.7,841.2v1.5 M381.0,841.2v1.5 M389.2,841.2v1.5 M397.5,841.2v1.5" stroke="#a0a0a0" stroke-width="0.6" fill="none"/>
<path d="M315.3,840.7 L318.5,840.5 L319.5,840.4 L320.0,840.2 L320.5,839.8 L320.7,839.2 L321.0,837.9 L321.2,835.2 L321.5,830.2 L321.7,821.8 L322.0,809.7 L322.2,794.7 L322.5,779.3 L322.7,767.3 L323.0,764.6 L323.2,765.1 L323.5,775.5 L323.7,789.9 L324.0,804.7 L324.2,817.0 L324.5,825.7 L324.7,830.8 L325.0,833.4 L325.2,834.5 L325.5,834.8 L325.9,834.6 L326.2,834.4 L326.4,834.2 L326.9,834.0 L328.7,833.8 L328.9,833.5 L329.2,833.0 L329.4,832.2 L329.7,831.1 L329.9,829.7 L330.2,828.2 L330.4,826.9 L330.6,826.1 L331.1,826.8 L331.4,828.2 L331.6,830.0 L331.9,832.1 L332.1,834.1 L332.4,835.7 L332.6,837.0 L332.9,838.0 L333.1,838.6 L333.4,839.1 L333.6,839.4 L333.9,839.6 L334.1,839.8 L334.6,840.1 L335.1,840.2 L335.8,840.4 L337.1,840.6 L341.3,840.7 L345.5,840.7 L349.7,840.7 L353.9,840.7 L358.1,840.7 L362.3,840.7 L366.5,840.7 L370.8,840.7 L375.0,840.7 L379.2,840.7 L383.4,840.7 L387.6,840.7 L391.8,840.7 L396.0,840.7 L397.0,840.7" fill="none" stroke="#8c8c8c" stroke-width="0.9"/>
<path d="M334.7,777.8000000000001 v8 M334.7,781.8000000000001 H397.5" stroke="#333" stroke-width="1.6" fill="none"/>
<text x="365" y="778.5000000000001" font-family="Liberation Sans" font-size="20" font-weight="normal" text-anchor="middle" fill="#111" >2</text>
<rect x="410.5" y="760.6" width="82.0" height="80.60000000000002" fill="#fff" stroke="#c4c4c4" stroke-width="1"/>
<path d="M410.5,760.6 V841.2 H492.5" fill="none" stroke="#a0a0a0" stroke-width="1"/>
<path d="M409.0,841.2h2.2 M409.0,825.7h2.2 M409.0,810.2h2.2 M409.0,794.8h2.2 M409.0,779.3h2.2 M409.0,763.8h2.2 M409.7,841.2h1.3 M409.7,837.3h1.3 M409.7,833.5h1.3 M409.7,829.6h1.3 M409.7,825.7h1.3 M409.7,821.9h1.3 M409.7,818.0h1.3 M409.7,814.1h1.3 M409.7,810.2h1.3 M409.7,806.4h1.3 M409.7,802.5h1.3 M409.7,798.6h1.3 M409.7,794.8h1.3 M409.7,790.9h1.3 M409.7,787.0h1.3 M409.7,783.2h1.3 M409.7,779.3h1.3 M409.7,775.4h1.3 M409.7,771.6h1.3 M409.7,767.7h1.3 M410.5,841.2v1.5 M418.7,841.2v1.5 M426.9,841.2v1.5 M435.1,841.2v1.5 M443.3,841.2v1.5 M451.5,841.2v1.5 M459.7,841.2v1.5 M467.9,841.2v1.5 M476.1,841.2v1.5 M484.3,841.2v1.5 M492.5,841.2v1.5" stroke="#a0a0a0" stroke-width="0.6" fill="none"/>
<path d="M411.0,840.7 L415.2,840.7 L417.4,840.4 L417.6,840.0 L417.9,839.3 L418.1,838.0 L418.4,836.0 L418.6,833.4 L418.9,830.6 L419.1,828.3 L419.3,827.1 L419.6,827.3 L419.8,829.0 L420.1,831.5 L420.3,834.3 L420.6,836.7 L420.8,838.5 L421.1,839.6 L421.3,840.2 L421.6,840.5 L424.0,840.3 L424.3,840.0 L424.5,839.4 L424.7,838.3 L425.0,836.2 L425.2,832.7 L425.5,827.1 L425.7,819.0 L426.0,808.5 L426.2,796.2 L426.5,783.5 L426.7,772.4 L427.0,765.1 L427.2,764.6 L427.4,766.6 L427.7,775.0 L427.9,786.4 L428.2,798.8 L428.4,810.3 L428.7,819.8 L428.9,826.7 L429.2,831.2 L429.4,833.9 L429.7,835.2 L429.9,835.8 L430.6,835.6 L430.9,835.4 L431.1,835.1 L431.4,834.8 L431.6,834.6 L431.9,834.3 L432.1,834.1 L432.4,833.9 L432.6,833.7 L432.8,833.6 L433.3,833.3 L433.8,833.1 L435.8,832.9 L436.3,832.6 L436.5,832.3 L436.8,831.9 L437.0,831.3 L437.3,830.5 L437.5,829.4 L437.8,828.1 L438.0,826.5 L438.2,824.6 L438.5,822.3 L438.7,819.7 L439.0,816.9 L439.2,813.7 L439.5,810.4 L439.7,807.0 L440.0,803.6 L440.2,800.3 L440.5,797.2 L440.7,794.4 L440.9,792.2 L441.2,790.5 L441.4,789.4 L441.7,789.0 L441.9,789.4 L442.2,790.5 L442.4,792.2 L442.7,794.6 L442.9,797.5 L443.2,800.7 L443.4,804.3 L443.6,808.0 L443.9,811.8 L444.1,815.4 L444.4,819.0 L444.6,822.3 L444.9,825.3 L445.1,828.1 L445.4,830.4 L445.6,832.5 L445.9,834.2 L446.1,835.7 L446.3,836.9 L446.6,837.8 L446.8,838.5 L447.1,839.1 L447.3,839.5 L447.6,839.9 L447.8,840.1 L448.1,840.3 L448.6,840.5 L449.5,840.7 L453.7,840.7 L457.9,840.7 L462.1,840.7 L466.2,840.7 L470.4,840.7 L474.6,840.7 L478.7,840.7 L482.9,840.7 L487.1,840.7 L491.3,840.7 L492.0,840.7" fill="none" stroke="#8c8c8c" stroke-width="0.9"/>
<path d="M431.6,777.8000000000001 v8 M431.6,781.8000000000001 H492.5" stroke="#333" stroke-width="1.6" fill="none"/>
<text x="461" y="778.5000000000001" font-family="Liberation Sans" font-size="20" font-weight="normal" text-anchor="middle" fill="#111" >73</text>
<line x1="124" y1="876.7" x2="225" y2="876.7" stroke="#111" stroke-width="2"/>
<line x1="387.9" y1="877.3" x2="491.7" y2="877.3" stroke="#111" stroke-width="2"/>
<text x="306.2" y="884.3" font-family="Liberation Sans" font-size="21" font-weight="normal" text-anchor="middle" fill="#111" >DNA content</text>
</svg></body></html>
